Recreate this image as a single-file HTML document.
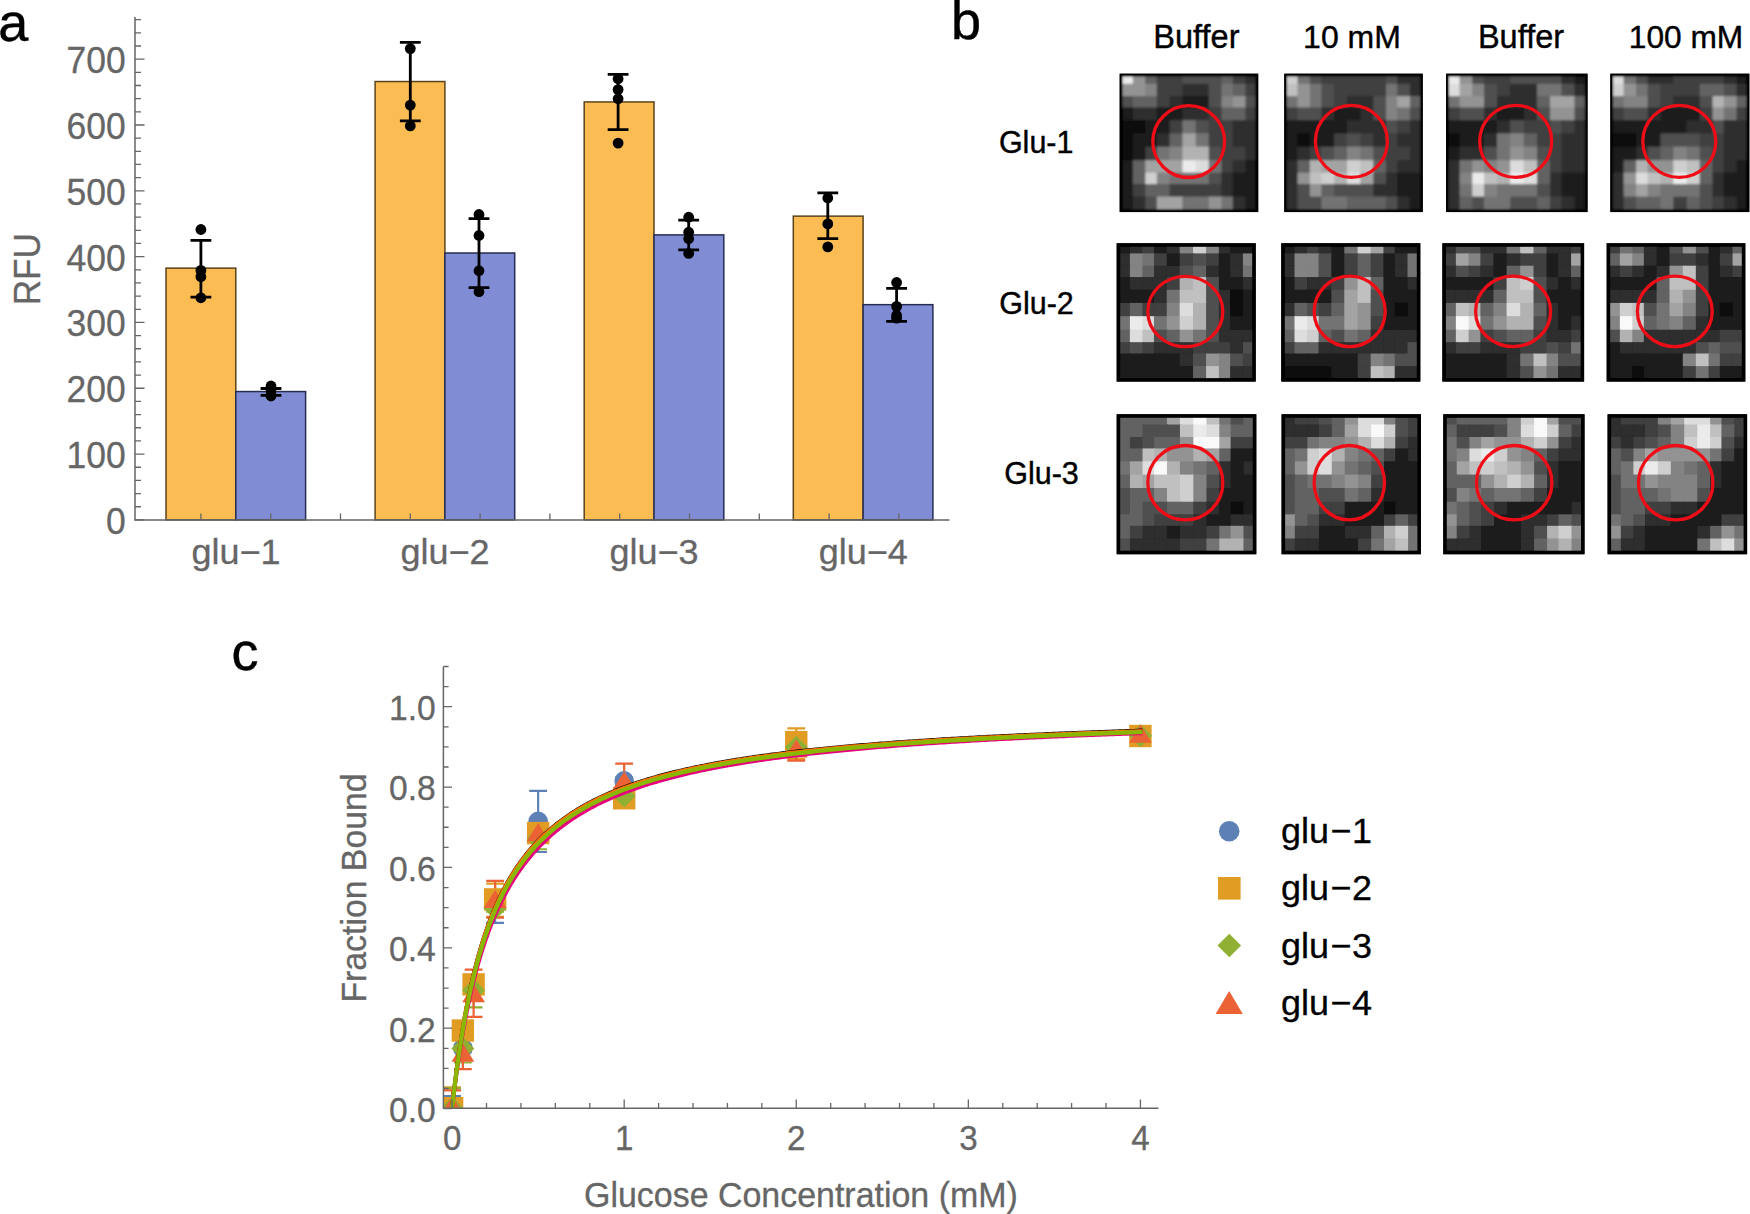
<!DOCTYPE html>
<html lang="en"><head><meta charset="utf-8"><title>Figure</title>
<style>html,body{margin:0;padding:0;background:#fff;}body{width:1750px;height:1214px;overflow:hidden;}svg{display:block;}text{font-family:"Liberation Sans", Arial, Helvetica, sans-serif;}</style>
</head><body>
<svg width="1750" height="1214" viewBox="0 0 1750 1214">
<rect width="1750" height="1214" fill="#fff"/>
<g id="panel-a">
<rect x="166" y="268.14" width="69.8" height="251.76" fill="#FBBD53" stroke="#5a431c" stroke-width="1.5"/>
<rect x="235.8" y="391.55" width="69.8" height="128.35" fill="#808DD5" stroke="#272c52" stroke-width="1.5"/>
<rect x="375.1" y="81.54" width="69.8" height="438.36" fill="#FBBD53" stroke="#5a431c" stroke-width="1.5"/>
<rect x="444.9" y="253" width="69.8" height="266.9" fill="#808DD5" stroke="#272c52" stroke-width="1.5"/>
<rect x="584.2" y="101.94" width="69.8" height="417.96" fill="#FBBD53" stroke="#5a431c" stroke-width="1.5"/>
<rect x="654" y="234.9" width="69.8" height="285" fill="#808DD5" stroke="#272c52" stroke-width="1.5"/>
<rect x="793.3" y="216.14" width="69.8" height="303.76" fill="#FBBD53" stroke="#5a431c" stroke-width="1.5"/>
<rect x="863.1" y="304.67" width="69.8" height="215.23" fill="#808DD5" stroke="#272c52" stroke-width="1.5"/>
<g stroke="#666666" stroke-width="1.5" fill="none">
<path d="M135 17 V519.9 H949.5"/>
<path d="M135 519.9h9.5M135 506.74h6M135 493.57h6M135 480.41h6M135 467.24h6M135 454.08h9.5M135 440.92h6M135 427.75h6M135 414.59h6M135 401.42h6M135 388.26h9.5M135 375.1h6M135 361.93h6M135 348.77h6M135 335.6h6M135 322.44h9.5M135 309.28h6M135 296.11h6M135 282.95h6M135 269.78h6M135 256.62h9.5M135 243.46h6M135 230.29h6M135 217.13h6M135 203.96h6M135 190.8h9.5M135 177.64h6M135 164.47h6M135 151.31h6M135 138.14h6M135 124.98h9.5M135 111.82h6M135 98.65h6M135 85.49h6M135 72.32h6M135 59.16h9.5M135 46h6M135 32.83h6M135 19.67h6" stroke-width="1.3"/>
<path d="M200.9 519.9v-6.3M270.7 519.9v-6.3M340.5 519.9v-6.3M410.3 519.9v-6.3M480.1 519.9v-6.3M549.9 519.9v-6.3M619.7 519.9v-6.3M689.5 519.9v-6.3M759.3 519.9v-6.3M829.1 519.9v-6.3M898.9 519.9v-6.3" stroke-width="1.3"/>
</g>
<text transform="translate(125.8,533.8) scale(1,1.05)" font-size="35.5" text-anchor="end" fill="#666666" stroke="#666666" stroke-width="0.3">0</text>
<text transform="translate(125.8,467.98) scale(1,1.05)" font-size="35.5" text-anchor="end" fill="#666666" stroke="#666666" stroke-width="0.3">100</text>
<text transform="translate(125.8,402.16) scale(1,1.05)" font-size="35.5" text-anchor="end" fill="#666666" stroke="#666666" stroke-width="0.3">200</text>
<text transform="translate(125.8,336.34) scale(1,1.05)" font-size="35.5" text-anchor="end" fill="#666666" stroke="#666666" stroke-width="0.3">300</text>
<text transform="translate(125.8,270.52) scale(1,1.05)" font-size="35.5" text-anchor="end" fill="#666666" stroke="#666666" stroke-width="0.3">400</text>
<text transform="translate(125.8,204.7) scale(1,1.05)" font-size="35.5" text-anchor="end" fill="#666666" stroke="#666666" stroke-width="0.3">500</text>
<text transform="translate(125.8,138.88) scale(1,1.05)" font-size="35.5" text-anchor="end" fill="#666666" stroke="#666666" stroke-width="0.3">600</text>
<text transform="translate(125.8,73.06) scale(1,1.05)" font-size="35.5" text-anchor="end" fill="#666666" stroke="#666666" stroke-width="0.3">700</text>
<text transform="translate(191.5,564.3) scale(1,0.96)" font-size="36" text-anchor="start" fill="#666666" stroke="#666666" stroke-width="0.3">glu−1</text>
<text transform="translate(400.55,564.3) scale(1,0.96)" font-size="36" text-anchor="start" fill="#666666" stroke="#666666" stroke-width="0.3">glu−2</text>
<text transform="translate(609.6,564.3) scale(1,0.96)" font-size="36" text-anchor="start" fill="#666666" stroke="#666666" stroke-width="0.3">glu−3</text>
<text transform="translate(818.65,564.3) scale(1,0.96)" font-size="36" text-anchor="start" fill="#666666" stroke="#666666" stroke-width="0.3">glu−4</text>
<text transform="translate(40.3,269.3) rotate(-90) scale(1,1.06)" font-size="35.1" text-anchor="middle" fill="#666666" stroke="#666666" stroke-width="0.3">RFU</text>
<g stroke="#000" stroke-width="2.8" fill="#000">
<path d="M200.9 240.4V297.1M190.5 240.4h20.8M190.5 297.1h20.8" fill="none"/>
<circle cx="200.9" cy="229.5" r="5.4" stroke="none"/>
<circle cx="200.9" cy="270.4" r="5.4" stroke="none"/>
<circle cx="200.9" cy="276.8" r="5.4" stroke="none"/>
<circle cx="200.9" cy="297.8" r="5.4" stroke="none"/>
<path d="M271 388.5V395.4M260.6 388.5h20.8M260.6 395.4h20.8" fill="none"/>
<circle cx="271" cy="386" r="5.4" stroke="none"/>
<circle cx="271" cy="391.5" r="5.4" stroke="none"/>
<circle cx="271" cy="396" r="5.4" stroke="none"/>
<path d="M410.3 42.4V120.8M399.9 42.4h20.8M399.9 120.8h20.8" fill="none"/>
<circle cx="410.3" cy="48.6" r="5.4" stroke="none"/>
<circle cx="410.3" cy="105.1" r="5.4" stroke="none"/>
<circle cx="410.3" cy="125.9" r="5.4" stroke="none"/>
<path d="M479 218.6V287.6M468.6 218.6h20.8M468.6 287.6h20.8" fill="none"/>
<circle cx="479" cy="214.5" r="5.4" stroke="none"/>
<circle cx="479" cy="235.5" r="5.4" stroke="none"/>
<circle cx="479" cy="270.7" r="5.4" stroke="none"/>
<circle cx="479" cy="291.7" r="5.4" stroke="none"/>
<path d="M618.1 74.4V129.7M607.7 74.4h20.8M607.7 129.7h20.8" fill="none"/>
<circle cx="618.1" cy="78.8" r="5.4" stroke="none"/>
<circle cx="618.1" cy="89.6" r="5.4" stroke="none"/>
<circle cx="618.1" cy="98.8" r="5.4" stroke="none"/>
<circle cx="618.1" cy="143.1" r="5.4" stroke="none"/>
<path d="M688.7 220.2V249.9M678.3 220.2h20.8M678.3 249.9h20.8" fill="none"/>
<circle cx="688.7" cy="217.2" r="5.4" stroke="none"/>
<circle cx="688.7" cy="232.2" r="5.4" stroke="none"/>
<circle cx="688.7" cy="238.8" r="5.4" stroke="none"/>
<circle cx="688.7" cy="253.4" r="5.4" stroke="none"/>
<path d="M827.8 192.9V238.6M817.4 192.9h20.8M817.4 238.6h20.8" fill="none"/>
<circle cx="827.8" cy="198" r="5.4" stroke="none"/>
<circle cx="827.8" cy="223.9" r="5.4" stroke="none"/>
<circle cx="827.8" cy="246.9" r="5.4" stroke="none"/>
<path d="M896.6 288.3V321.4M886.2 288.3h20.8M886.2 321.4h20.8" fill="none"/>
<circle cx="896.6" cy="282.5" r="5.4" stroke="none"/>
<circle cx="896.6" cy="306.4" r="5.4" stroke="none"/>
<circle cx="896.6" cy="315.4" r="5.4" stroke="none"/>
<circle cx="896.6" cy="318.2" r="5.4" stroke="none"/>
</g>
</g>
<g font-size="54" fill="#000" stroke="#000" stroke-width="0.45">
<text x="-1.8" y="41">a</text>
<text x="950.9" y="38.7">b</text>
<text x="231.5" y="670.2">c</text>
</g>
<g id="panel-b">
<defs><filter id="bl" x="-5%" y="-5%" width="110%" height="110%"><feGaussianBlur stdDeviation="1.1"/></filter><filter id="bl3" x="-5%" y="-5%" width="110%" height="110%"><feGaussianBlur stdDeviation="0.75"/></filter><filter id="bl2" x="-10%" y="-10%" width="120%" height="120%"><feGaussianBlur stdDeviation="0.55"/></filter></defs>
<g font-size="32.5" fill="#000" text-anchor="middle" stroke="#000" stroke-width="0.4">
<text x="1196.4" y="48">Buffer</text>
<text x="1352" y="48" font-size="32">10 mM</text>
<text x="1521" y="48">Buffer</text>
<text x="1686" y="48" font-size="31.7">100 mM</text>
</g>
<g font-size="30.5" fill="#000" stroke="#000" stroke-width="0.4">
<text x="998.9" y="152.7">Glu-1</text>
<text x="999.2" y="313.5">Glu-2</text>
<text x="1004.2" y="483.5">Glu-3</text>
</g>
<clipPath id="c0"><rect x="1119.7" y="73.7" width="138.5" height="138.4"/></clipPath>
<g clip-path="url(#c0)"><g filter="url(#bl)">
<rect x="1113.7" y="67.7" width="20.16" height="17.1" fill="#ebebeb"/>
<rect x="1132.86" y="67.7" width="13.46" height="17.1" fill="#939393"/>
<rect x="1145.32" y="67.7" width="12.5" height="17.1" fill="#626262"/>
<rect x="1156.82" y="67.7" width="13.74" height="17.1" fill="#3f3f3f"/>
<rect x="1169.56" y="67.7" width="13.88" height="17.1" fill="#3f3f3f"/>
<rect x="1182.44" y="67.7" width="14.3" height="17.1" fill="#505050"/>
<rect x="1195.74" y="67.7" width="14.02" height="17.1" fill="#505050"/>
<rect x="1208.76" y="67.7" width="13.74" height="17.1" fill="#505050"/>
<rect x="1221.5" y="67.7" width="12.22" height="17.1" fill="#626262"/>
<rect x="1232.72" y="67.7" width="13.74" height="17.1" fill="#3f3f3f"/>
<rect x="1245.46" y="67.7" width="18.74" height="17.1" fill="#2d2d2d"/>
<rect x="1113.7" y="83.8" width="20.16" height="13.32" fill="#939393"/>
<rect x="1132.86" y="83.8" width="13.46" height="13.32" fill="#939393"/>
<rect x="1145.32" y="83.8" width="12.5" height="13.32" fill="#838383"/>
<rect x="1156.82" y="83.8" width="13.74" height="13.32" fill="#3f3f3f"/>
<rect x="1169.56" y="83.8" width="13.88" height="13.32" fill="#3f3f3f"/>
<rect x="1182.44" y="83.8" width="14.3" height="13.32" fill="#2d2d2d"/>
<rect x="1195.74" y="83.8" width="14.02" height="13.32" fill="#2d2d2d"/>
<rect x="1208.76" y="83.8" width="13.74" height="13.32" fill="#505050"/>
<rect x="1221.5" y="83.8" width="12.22" height="13.32" fill="#737373"/>
<rect x="1232.72" y="83.8" width="13.74" height="13.32" fill="#626262"/>
<rect x="1245.46" y="83.8" width="18.74" height="13.32" fill="#3f3f3f"/>
<rect x="1113.7" y="96.12" width="20.16" height="12.35" fill="#505050"/>
<rect x="1132.86" y="96.12" width="13.46" height="12.35" fill="#626262"/>
<rect x="1145.32" y="96.12" width="12.5" height="12.35" fill="#626262"/>
<rect x="1156.82" y="96.12" width="13.74" height="12.35" fill="#3f3f3f"/>
<rect x="1169.56" y="96.12" width="13.88" height="12.35" fill="#2d2d2d"/>
<rect x="1182.44" y="96.12" width="14.3" height="12.35" fill="#1b1b1b"/>
<rect x="1195.74" y="96.12" width="14.02" height="12.35" fill="#1b1b1b"/>
<rect x="1208.76" y="96.12" width="13.74" height="12.35" fill="#505050"/>
<rect x="1221.5" y="96.12" width="12.22" height="12.35" fill="#838383"/>
<rect x="1232.72" y="96.12" width="13.74" height="12.35" fill="#939393"/>
<rect x="1245.46" y="96.12" width="18.74" height="12.35" fill="#505050"/>
<rect x="1113.7" y="107.47" width="20.16" height="13.73" fill="#1b1b1b"/>
<rect x="1132.86" y="107.47" width="13.46" height="13.73" fill="#2d2d2d"/>
<rect x="1145.32" y="107.47" width="12.5" height="13.73" fill="#2d2d2d"/>
<rect x="1156.82" y="107.47" width="13.74" height="13.73" fill="#1b1b1b"/>
<rect x="1169.56" y="107.47" width="13.88" height="13.73" fill="#1b1b1b"/>
<rect x="1182.44" y="107.47" width="14.3" height="13.73" fill="#2d2d2d"/>
<rect x="1195.74" y="107.47" width="14.02" height="13.73" fill="#2d2d2d"/>
<rect x="1208.76" y="107.47" width="13.74" height="13.73" fill="#3f3f3f"/>
<rect x="1221.5" y="107.47" width="12.22" height="13.73" fill="#626262"/>
<rect x="1232.72" y="107.47" width="13.74" height="13.73" fill="#626262"/>
<rect x="1245.46" y="107.47" width="18.74" height="13.73" fill="#3f3f3f"/>
<rect x="1113.7" y="120.2" width="20.16" height="14.15" fill="#090909"/>
<rect x="1132.86" y="120.2" width="13.46" height="14.15" fill="#090909"/>
<rect x="1145.32" y="120.2" width="12.5" height="14.15" fill="#1b1b1b"/>
<rect x="1156.82" y="120.2" width="13.74" height="14.15" fill="#1b1b1b"/>
<rect x="1169.56" y="120.2" width="13.88" height="14.15" fill="#3f3f3f"/>
<rect x="1182.44" y="120.2" width="14.3" height="14.15" fill="#737373"/>
<rect x="1195.74" y="120.2" width="14.02" height="14.15" fill="#505050"/>
<rect x="1208.76" y="120.2" width="13.74" height="14.15" fill="#3f3f3f"/>
<rect x="1221.5" y="120.2" width="12.22" height="14.15" fill="#3f3f3f"/>
<rect x="1232.72" y="120.2" width="13.74" height="14.15" fill="#2d2d2d"/>
<rect x="1245.46" y="120.2" width="18.74" height="14.15" fill="#2d2d2d"/>
<rect x="1113.7" y="133.35" width="20.16" height="14.29" fill="#090909"/>
<rect x="1132.86" y="133.35" width="13.46" height="14.29" fill="#1b1b1b"/>
<rect x="1145.32" y="133.35" width="12.5" height="14.29" fill="#1b1b1b"/>
<rect x="1156.82" y="133.35" width="13.74" height="14.29" fill="#2d2d2d"/>
<rect x="1169.56" y="133.35" width="13.88" height="14.29" fill="#626262"/>
<rect x="1182.44" y="133.35" width="14.3" height="14.29" fill="#a3a3a3"/>
<rect x="1195.74" y="133.35" width="14.02" height="14.29" fill="#737373"/>
<rect x="1208.76" y="133.35" width="13.74" height="14.29" fill="#3f3f3f"/>
<rect x="1221.5" y="133.35" width="12.22" height="14.29" fill="#3f3f3f"/>
<rect x="1232.72" y="133.35" width="13.74" height="14.29" fill="#2d2d2d"/>
<rect x="1245.46" y="133.35" width="18.74" height="14.29" fill="#2d2d2d"/>
<rect x="1113.7" y="146.64" width="20.16" height="14.56" fill="#090909"/>
<rect x="1132.86" y="146.64" width="13.46" height="14.56" fill="#1b1b1b"/>
<rect x="1145.32" y="146.64" width="12.5" height="14.56" fill="#3f3f3f"/>
<rect x="1156.82" y="146.64" width="13.74" height="14.56" fill="#737373"/>
<rect x="1169.56" y="146.64" width="13.88" height="14.56" fill="#838383"/>
<rect x="1182.44" y="146.64" width="14.3" height="14.56" fill="#b2b2b2"/>
<rect x="1195.74" y="146.64" width="14.02" height="14.56" fill="#b2b2b2"/>
<rect x="1208.76" y="146.64" width="13.74" height="14.56" fill="#505050"/>
<rect x="1221.5" y="146.64" width="12.22" height="14.56" fill="#3f3f3f"/>
<rect x="1232.72" y="146.64" width="13.74" height="14.56" fill="#3f3f3f"/>
<rect x="1245.46" y="146.64" width="18.74" height="14.56" fill="#2d2d2d"/>
<rect x="1113.7" y="160.2" width="20.16" height="13.46" fill="#1b1b1b"/>
<rect x="1132.86" y="160.2" width="13.46" height="13.46" fill="#626262"/>
<rect x="1145.32" y="160.2" width="12.5" height="13.46" fill="#a3a3a3"/>
<rect x="1156.82" y="160.2" width="13.74" height="13.46" fill="#a3a3a3"/>
<rect x="1169.56" y="160.2" width="13.88" height="13.46" fill="#a3a3a3"/>
<rect x="1182.44" y="160.2" width="14.3" height="13.46" fill="#ebebeb"/>
<rect x="1195.74" y="160.2" width="14.02" height="13.46" fill="#dddddd"/>
<rect x="1208.76" y="160.2" width="13.74" height="13.46" fill="#737373"/>
<rect x="1221.5" y="160.2" width="12.22" height="13.46" fill="#3f3f3f"/>
<rect x="1232.72" y="160.2" width="13.74" height="13.46" fill="#2d2d2d"/>
<rect x="1245.46" y="160.2" width="18.74" height="13.46" fill="#1b1b1b"/>
<rect x="1113.7" y="172.66" width="20.16" height="12.35" fill="#1b1b1b"/>
<rect x="1132.86" y="172.66" width="13.46" height="12.35" fill="#626262"/>
<rect x="1145.32" y="172.66" width="12.5" height="12.35" fill="#cfcfcf"/>
<rect x="1156.82" y="172.66" width="13.74" height="12.35" fill="#838383"/>
<rect x="1169.56" y="172.66" width="13.88" height="12.35" fill="#737373"/>
<rect x="1182.44" y="172.66" width="14.3" height="12.35" fill="#737373"/>
<rect x="1195.74" y="172.66" width="14.02" height="12.35" fill="#737373"/>
<rect x="1208.76" y="172.66" width="13.74" height="12.35" fill="#505050"/>
<rect x="1221.5" y="172.66" width="12.22" height="12.35" fill="#2d2d2d"/>
<rect x="1232.72" y="172.66" width="13.74" height="12.35" fill="#1b1b1b"/>
<rect x="1245.46" y="172.66" width="18.74" height="12.35" fill="#1b1b1b"/>
<rect x="1113.7" y="184" width="20.16" height="13.59" fill="#1b1b1b"/>
<rect x="1132.86" y="184" width="13.46" height="13.59" fill="#3f3f3f"/>
<rect x="1145.32" y="184" width="12.5" height="13.59" fill="#626262"/>
<rect x="1156.82" y="184" width="13.74" height="13.59" fill="#626262"/>
<rect x="1169.56" y="184" width="13.88" height="13.59" fill="#3f3f3f"/>
<rect x="1182.44" y="184" width="14.3" height="13.59" fill="#3f3f3f"/>
<rect x="1195.74" y="184" width="14.02" height="13.59" fill="#3f3f3f"/>
<rect x="1208.76" y="184" width="13.74" height="13.59" fill="#3f3f3f"/>
<rect x="1221.5" y="184" width="12.22" height="13.59" fill="#2d2d2d"/>
<rect x="1232.72" y="184" width="13.74" height="13.59" fill="#1b1b1b"/>
<rect x="1245.46" y="184" width="18.74" height="13.59" fill="#1b1b1b"/>
<rect x="1113.7" y="196.6" width="20.16" height="21.5" fill="#1b1b1b"/>
<rect x="1132.86" y="196.6" width="13.46" height="21.5" fill="#2d2d2d"/>
<rect x="1145.32" y="196.6" width="12.5" height="21.5" fill="#505050"/>
<rect x="1156.82" y="196.6" width="13.74" height="21.5" fill="#a3a3a3"/>
<rect x="1169.56" y="196.6" width="13.88" height="21.5" fill="#a3a3a3"/>
<rect x="1182.44" y="196.6" width="14.3" height="21.5" fill="#737373"/>
<rect x="1195.74" y="196.6" width="14.02" height="21.5" fill="#737373"/>
<rect x="1208.76" y="196.6" width="13.74" height="21.5" fill="#939393"/>
<rect x="1221.5" y="196.6" width="12.22" height="21.5" fill="#737373"/>
<rect x="1232.72" y="196.6" width="13.74" height="21.5" fill="#2d2d2d"/>
<rect x="1245.46" y="196.6" width="18.74" height="21.5" fill="#1b1b1b"/>
<rect x="1119.7" y="73.7" width="138.5" height="138.4" fill="none" stroke="#000" stroke-width="5.4"/>
</g>
<ellipse cx="1188.7" cy="141.6" rx="35.9" ry="35.9" fill="none" stroke="#ee1018" stroke-width="3.3" filter="url(#bl2)"/>
</g>
<rect x="1120.5" y="74.5" width="136.9" height="136.8" fill="none" stroke="#000" stroke-width="1.6" filter="url(#bl2)"/>
<clipPath id="c1"><rect x="1284.3" y="73.7" width="138.4" height="138.4"/></clipPath>
<g clip-path="url(#c1)"><g filter="url(#bl)">
<rect x="1278.3" y="67.7" width="20.15" height="17.1" fill="#cfcfcf"/>
<rect x="1297.45" y="67.7" width="13.46" height="17.1" fill="#737373"/>
<rect x="1309.9" y="67.7" width="12.49" height="17.1" fill="#505050"/>
<rect x="1321.39" y="67.7" width="13.73" height="17.1" fill="#3f3f3f"/>
<rect x="1334.12" y="67.7" width="13.87" height="17.1" fill="#3f3f3f"/>
<rect x="1347" y="67.7" width="14.29" height="17.1" fill="#3f3f3f"/>
<rect x="1360.28" y="67.7" width="14.01" height="17.1" fill="#3f3f3f"/>
<rect x="1373.29" y="67.7" width="13.73" height="17.1" fill="#3f3f3f"/>
<rect x="1386.02" y="67.7" width="12.21" height="17.1" fill="#505050"/>
<rect x="1397.23" y="67.7" width="13.73" height="17.1" fill="#2d2d2d"/>
<rect x="1409.97" y="67.7" width="18.73" height="17.1" fill="#2d2d2d"/>
<rect x="1278.3" y="83.8" width="20.15" height="13.32" fill="#c0c0c0"/>
<rect x="1297.45" y="83.8" width="13.46" height="13.32" fill="#939393"/>
<rect x="1309.9" y="83.8" width="12.49" height="13.32" fill="#737373"/>
<rect x="1321.39" y="83.8" width="13.73" height="13.32" fill="#505050"/>
<rect x="1334.12" y="83.8" width="13.87" height="13.32" fill="#3f3f3f"/>
<rect x="1347" y="83.8" width="14.29" height="13.32" fill="#3f3f3f"/>
<rect x="1360.28" y="83.8" width="14.01" height="13.32" fill="#3f3f3f"/>
<rect x="1373.29" y="83.8" width="13.73" height="13.32" fill="#3f3f3f"/>
<rect x="1386.02" y="83.8" width="12.21" height="13.32" fill="#737373"/>
<rect x="1397.23" y="83.8" width="13.73" height="13.32" fill="#505050"/>
<rect x="1409.97" y="83.8" width="18.73" height="13.32" fill="#2d2d2d"/>
<rect x="1278.3" y="96.12" width="20.15" height="12.35" fill="#737373"/>
<rect x="1297.45" y="96.12" width="13.46" height="12.35" fill="#939393"/>
<rect x="1309.9" y="96.12" width="12.49" height="12.35" fill="#737373"/>
<rect x="1321.39" y="96.12" width="13.73" height="12.35" fill="#505050"/>
<rect x="1334.12" y="96.12" width="13.87" height="12.35" fill="#3f3f3f"/>
<rect x="1347" y="96.12" width="14.29" height="12.35" fill="#2d2d2d"/>
<rect x="1360.28" y="96.12" width="14.01" height="12.35" fill="#2d2d2d"/>
<rect x="1373.29" y="96.12" width="13.73" height="12.35" fill="#505050"/>
<rect x="1386.02" y="96.12" width="12.21" height="12.35" fill="#838383"/>
<rect x="1397.23" y="96.12" width="13.73" height="12.35" fill="#a3a3a3"/>
<rect x="1409.97" y="96.12" width="18.73" height="12.35" fill="#626262"/>
<rect x="1278.3" y="107.47" width="20.15" height="13.73" fill="#3f3f3f"/>
<rect x="1297.45" y="107.47" width="13.46" height="13.73" fill="#505050"/>
<rect x="1309.9" y="107.47" width="12.49" height="13.73" fill="#505050"/>
<rect x="1321.39" y="107.47" width="13.73" height="13.73" fill="#2d2d2d"/>
<rect x="1334.12" y="107.47" width="13.87" height="13.73" fill="#1b1b1b"/>
<rect x="1347" y="107.47" width="14.29" height="13.73" fill="#1b1b1b"/>
<rect x="1360.28" y="107.47" width="14.01" height="13.73" fill="#2d2d2d"/>
<rect x="1373.29" y="107.47" width="13.73" height="13.73" fill="#505050"/>
<rect x="1386.02" y="107.47" width="12.21" height="13.73" fill="#838383"/>
<rect x="1397.23" y="107.47" width="13.73" height="13.73" fill="#737373"/>
<rect x="1409.97" y="107.47" width="18.73" height="13.73" fill="#505050"/>
<rect x="1278.3" y="120.2" width="20.15" height="14.15" fill="#1b1b1b"/>
<rect x="1297.45" y="120.2" width="13.46" height="14.15" fill="#1b1b1b"/>
<rect x="1309.9" y="120.2" width="12.49" height="14.15" fill="#1b1b1b"/>
<rect x="1321.39" y="120.2" width="13.73" height="14.15" fill="#1b1b1b"/>
<rect x="1334.12" y="120.2" width="13.87" height="14.15" fill="#1b1b1b"/>
<rect x="1347" y="120.2" width="14.29" height="14.15" fill="#2d2d2d"/>
<rect x="1360.28" y="120.2" width="14.01" height="14.15" fill="#2d2d2d"/>
<rect x="1373.29" y="120.2" width="13.73" height="14.15" fill="#2d2d2d"/>
<rect x="1386.02" y="120.2" width="12.21" height="14.15" fill="#505050"/>
<rect x="1397.23" y="120.2" width="13.73" height="14.15" fill="#3f3f3f"/>
<rect x="1409.97" y="120.2" width="18.73" height="14.15" fill="#2d2d2d"/>
<rect x="1278.3" y="133.35" width="20.15" height="14.29" fill="#1b1b1b"/>
<rect x="1297.45" y="133.35" width="13.46" height="14.29" fill="#090909"/>
<rect x="1309.9" y="133.35" width="12.49" height="14.29" fill="#1b1b1b"/>
<rect x="1321.39" y="133.35" width="13.73" height="14.29" fill="#1b1b1b"/>
<rect x="1334.12" y="133.35" width="13.87" height="14.29" fill="#3f3f3f"/>
<rect x="1347" y="133.35" width="14.29" height="14.29" fill="#505050"/>
<rect x="1360.28" y="133.35" width="14.01" height="14.29" fill="#3f3f3f"/>
<rect x="1373.29" y="133.35" width="13.73" height="14.29" fill="#2d2d2d"/>
<rect x="1386.02" y="133.35" width="12.21" height="14.29" fill="#3f3f3f"/>
<rect x="1397.23" y="133.35" width="13.73" height="14.29" fill="#2d2d2d"/>
<rect x="1409.97" y="133.35" width="18.73" height="14.29" fill="#2d2d2d"/>
<rect x="1278.3" y="146.64" width="20.15" height="14.56" fill="#1b1b1b"/>
<rect x="1297.45" y="146.64" width="13.46" height="14.56" fill="#2d2d2d"/>
<rect x="1309.9" y="146.64" width="12.49" height="14.56" fill="#3f3f3f"/>
<rect x="1321.39" y="146.64" width="13.73" height="14.56" fill="#505050"/>
<rect x="1334.12" y="146.64" width="13.87" height="14.56" fill="#626262"/>
<rect x="1347" y="146.64" width="14.29" height="14.56" fill="#838383"/>
<rect x="1360.28" y="146.64" width="14.01" height="14.56" fill="#737373"/>
<rect x="1373.29" y="146.64" width="13.73" height="14.56" fill="#505050"/>
<rect x="1386.02" y="146.64" width="12.21" height="14.56" fill="#3f3f3f"/>
<rect x="1397.23" y="146.64" width="13.73" height="14.56" fill="#3f3f3f"/>
<rect x="1409.97" y="146.64" width="18.73" height="14.56" fill="#2d2d2d"/>
<rect x="1278.3" y="160.2" width="20.15" height="13.46" fill="#2d2d2d"/>
<rect x="1297.45" y="160.2" width="13.46" height="13.46" fill="#626262"/>
<rect x="1309.9" y="160.2" width="12.49" height="13.46" fill="#b2b2b2"/>
<rect x="1321.39" y="160.2" width="13.73" height="13.46" fill="#a3a3a3"/>
<rect x="1334.12" y="160.2" width="13.87" height="13.46" fill="#a3a3a3"/>
<rect x="1347" y="160.2" width="14.29" height="13.46" fill="#cfcfcf"/>
<rect x="1360.28" y="160.2" width="14.01" height="13.46" fill="#c0c0c0"/>
<rect x="1373.29" y="160.2" width="13.73" height="13.46" fill="#626262"/>
<rect x="1386.02" y="160.2" width="12.21" height="13.46" fill="#3f3f3f"/>
<rect x="1397.23" y="160.2" width="13.73" height="13.46" fill="#2d2d2d"/>
<rect x="1409.97" y="160.2" width="18.73" height="13.46" fill="#2d2d2d"/>
<rect x="1278.3" y="172.66" width="20.15" height="12.35" fill="#2d2d2d"/>
<rect x="1297.45" y="172.66" width="13.46" height="12.35" fill="#939393"/>
<rect x="1309.9" y="172.66" width="12.49" height="12.35" fill="#c0c0c0"/>
<rect x="1321.39" y="172.66" width="13.73" height="12.35" fill="#cfcfcf"/>
<rect x="1334.12" y="172.66" width="13.87" height="12.35" fill="#b2b2b2"/>
<rect x="1347" y="172.66" width="14.29" height="12.35" fill="#dddddd"/>
<rect x="1360.28" y="172.66" width="14.01" height="12.35" fill="#a3a3a3"/>
<rect x="1373.29" y="172.66" width="13.73" height="12.35" fill="#505050"/>
<rect x="1386.02" y="172.66" width="12.21" height="12.35" fill="#2d2d2d"/>
<rect x="1397.23" y="172.66" width="13.73" height="12.35" fill="#1b1b1b"/>
<rect x="1409.97" y="172.66" width="18.73" height="12.35" fill="#1b1b1b"/>
<rect x="1278.3" y="184" width="20.15" height="13.59" fill="#2d2d2d"/>
<rect x="1297.45" y="184" width="13.46" height="13.59" fill="#505050"/>
<rect x="1309.9" y="184" width="12.49" height="13.59" fill="#939393"/>
<rect x="1321.39" y="184" width="13.73" height="13.59" fill="#626262"/>
<rect x="1334.12" y="184" width="13.87" height="13.59" fill="#505050"/>
<rect x="1347" y="184" width="14.29" height="13.59" fill="#505050"/>
<rect x="1360.28" y="184" width="14.01" height="13.59" fill="#505050"/>
<rect x="1373.29" y="184" width="13.73" height="13.59" fill="#2d2d2d"/>
<rect x="1386.02" y="184" width="12.21" height="13.59" fill="#2d2d2d"/>
<rect x="1397.23" y="184" width="13.73" height="13.59" fill="#1b1b1b"/>
<rect x="1409.97" y="184" width="18.73" height="13.59" fill="#1b1b1b"/>
<rect x="1278.3" y="196.6" width="20.15" height="21.5" fill="#2d2d2d"/>
<rect x="1297.45" y="196.6" width="13.46" height="21.5" fill="#505050"/>
<rect x="1309.9" y="196.6" width="12.49" height="21.5" fill="#505050"/>
<rect x="1321.39" y="196.6" width="13.73" height="21.5" fill="#737373"/>
<rect x="1334.12" y="196.6" width="13.87" height="21.5" fill="#737373"/>
<rect x="1347" y="196.6" width="14.29" height="21.5" fill="#626262"/>
<rect x="1360.28" y="196.6" width="14.01" height="21.5" fill="#626262"/>
<rect x="1373.29" y="196.6" width="13.73" height="21.5" fill="#626262"/>
<rect x="1386.02" y="196.6" width="12.21" height="21.5" fill="#505050"/>
<rect x="1397.23" y="196.6" width="13.73" height="21.5" fill="#2d2d2d"/>
<rect x="1409.97" y="196.6" width="18.73" height="21.5" fill="#1b1b1b"/>
<rect x="1284.3" y="73.7" width="138.4" height="138.4" fill="none" stroke="#000" stroke-width="5.4"/>
</g>
<ellipse cx="1351.4" cy="141.4" rx="36" ry="36" fill="none" stroke="#ee1018" stroke-width="3.3" filter="url(#bl2)"/>
</g>
<rect x="1285.1" y="74.5" width="136.8" height="136.8" fill="none" stroke="#000" stroke-width="1.6" filter="url(#bl2)"/>
<clipPath id="c2"><rect x="1446.1" y="73.7" width="141.4" height="138.4"/></clipPath>
<g clip-path="url(#c2)"><g filter="url(#bl)">
<rect x="1440.1" y="67.7" width="20.43" height="17.1" fill="#ebebeb"/>
<rect x="1459.53" y="67.7" width="13.73" height="17.1" fill="#939393"/>
<rect x="1472.26" y="67.7" width="12.74" height="17.1" fill="#505050"/>
<rect x="1484" y="67.7" width="14.01" height="17.1" fill="#3f3f3f"/>
<rect x="1497" y="67.7" width="14.15" height="17.1" fill="#3f3f3f"/>
<rect x="1510.15" y="67.7" width="14.57" height="17.1" fill="#505050"/>
<rect x="1523.73" y="67.7" width="14.29" height="17.1" fill="#505050"/>
<rect x="1537.02" y="67.7" width="14.01" height="17.1" fill="#505050"/>
<rect x="1550.03" y="67.7" width="12.45" height="17.1" fill="#505050"/>
<rect x="1561.48" y="67.7" width="14.01" height="17.1" fill="#2d2d2d"/>
<rect x="1574.49" y="67.7" width="19.01" height="17.1" fill="#1b1b1b"/>
<rect x="1440.1" y="83.8" width="20.43" height="13.32" fill="#dddddd"/>
<rect x="1459.53" y="83.8" width="13.73" height="13.32" fill="#a3a3a3"/>
<rect x="1472.26" y="83.8" width="12.74" height="13.32" fill="#838383"/>
<rect x="1484" y="83.8" width="14.01" height="13.32" fill="#505050"/>
<rect x="1497" y="83.8" width="14.15" height="13.32" fill="#3f3f3f"/>
<rect x="1510.15" y="83.8" width="14.57" height="13.32" fill="#2d2d2d"/>
<rect x="1523.73" y="83.8" width="14.29" height="13.32" fill="#2d2d2d"/>
<rect x="1537.02" y="83.8" width="14.01" height="13.32" fill="#737373"/>
<rect x="1550.03" y="83.8" width="12.45" height="13.32" fill="#737373"/>
<rect x="1561.48" y="83.8" width="14.01" height="13.32" fill="#505050"/>
<rect x="1574.49" y="83.8" width="19.01" height="13.32" fill="#2d2d2d"/>
<rect x="1440.1" y="96.12" width="20.43" height="12.35" fill="#737373"/>
<rect x="1459.53" y="96.12" width="13.73" height="12.35" fill="#939393"/>
<rect x="1472.26" y="96.12" width="12.74" height="12.35" fill="#939393"/>
<rect x="1484" y="96.12" width="14.01" height="12.35" fill="#505050"/>
<rect x="1497" y="96.12" width="14.15" height="12.35" fill="#2d2d2d"/>
<rect x="1510.15" y="96.12" width="14.57" height="12.35" fill="#2d2d2d"/>
<rect x="1523.73" y="96.12" width="14.29" height="12.35" fill="#2d2d2d"/>
<rect x="1537.02" y="96.12" width="14.01" height="12.35" fill="#626262"/>
<rect x="1550.03" y="96.12" width="12.45" height="12.35" fill="#a3a3a3"/>
<rect x="1561.48" y="96.12" width="14.01" height="12.35" fill="#a3a3a3"/>
<rect x="1574.49" y="96.12" width="19.01" height="12.35" fill="#626262"/>
<rect x="1440.1" y="107.47" width="20.43" height="13.73" fill="#3f3f3f"/>
<rect x="1459.53" y="107.47" width="13.73" height="13.73" fill="#505050"/>
<rect x="1472.26" y="107.47" width="12.74" height="13.73" fill="#505050"/>
<rect x="1484" y="107.47" width="14.01" height="13.73" fill="#2d2d2d"/>
<rect x="1497" y="107.47" width="14.15" height="13.73" fill="#1b1b1b"/>
<rect x="1510.15" y="107.47" width="14.57" height="13.73" fill="#1b1b1b"/>
<rect x="1523.73" y="107.47" width="14.29" height="13.73" fill="#2d2d2d"/>
<rect x="1537.02" y="107.47" width="14.01" height="13.73" fill="#505050"/>
<rect x="1550.03" y="107.47" width="12.45" height="13.73" fill="#939393"/>
<rect x="1561.48" y="107.47" width="14.01" height="13.73" fill="#939393"/>
<rect x="1574.49" y="107.47" width="19.01" height="13.73" fill="#505050"/>
<rect x="1440.1" y="120.2" width="20.43" height="14.15" fill="#1b1b1b"/>
<rect x="1459.53" y="120.2" width="13.73" height="14.15" fill="#1b1b1b"/>
<rect x="1472.26" y="120.2" width="12.74" height="14.15" fill="#1b1b1b"/>
<rect x="1484" y="120.2" width="14.01" height="14.15" fill="#1b1b1b"/>
<rect x="1497" y="120.2" width="14.15" height="14.15" fill="#2d2d2d"/>
<rect x="1510.15" y="120.2" width="14.57" height="14.15" fill="#505050"/>
<rect x="1523.73" y="120.2" width="14.29" height="14.15" fill="#3f3f3f"/>
<rect x="1537.02" y="120.2" width="14.01" height="14.15" fill="#3f3f3f"/>
<rect x="1550.03" y="120.2" width="12.45" height="14.15" fill="#505050"/>
<rect x="1561.48" y="120.2" width="14.01" height="14.15" fill="#3f3f3f"/>
<rect x="1574.49" y="120.2" width="19.01" height="14.15" fill="#2d2d2d"/>
<rect x="1440.1" y="133.35" width="20.43" height="14.29" fill="#090909"/>
<rect x="1459.53" y="133.35" width="13.73" height="14.29" fill="#1b1b1b"/>
<rect x="1472.26" y="133.35" width="12.74" height="14.29" fill="#1b1b1b"/>
<rect x="1484" y="133.35" width="14.01" height="14.29" fill="#2d2d2d"/>
<rect x="1497" y="133.35" width="14.15" height="14.29" fill="#737373"/>
<rect x="1510.15" y="133.35" width="14.57" height="14.29" fill="#838383"/>
<rect x="1523.73" y="133.35" width="14.29" height="14.29" fill="#626262"/>
<rect x="1537.02" y="133.35" width="14.01" height="14.29" fill="#3f3f3f"/>
<rect x="1550.03" y="133.35" width="12.45" height="14.29" fill="#3f3f3f"/>
<rect x="1561.48" y="133.35" width="14.01" height="14.29" fill="#2d2d2d"/>
<rect x="1574.49" y="133.35" width="19.01" height="14.29" fill="#2d2d2d"/>
<rect x="1440.1" y="146.64" width="20.43" height="14.56" fill="#1b1b1b"/>
<rect x="1459.53" y="146.64" width="13.73" height="14.56" fill="#2d2d2d"/>
<rect x="1472.26" y="146.64" width="12.74" height="14.56" fill="#2d2d2d"/>
<rect x="1484" y="146.64" width="14.01" height="14.56" fill="#505050"/>
<rect x="1497" y="146.64" width="14.15" height="14.56" fill="#737373"/>
<rect x="1510.15" y="146.64" width="14.57" height="14.56" fill="#939393"/>
<rect x="1523.73" y="146.64" width="14.29" height="14.56" fill="#838383"/>
<rect x="1537.02" y="146.64" width="14.01" height="14.56" fill="#505050"/>
<rect x="1550.03" y="146.64" width="12.45" height="14.56" fill="#3f3f3f"/>
<rect x="1561.48" y="146.64" width="14.01" height="14.56" fill="#2d2d2d"/>
<rect x="1574.49" y="146.64" width="19.01" height="14.56" fill="#2d2d2d"/>
<rect x="1440.1" y="160.2" width="20.43" height="13.46" fill="#2d2d2d"/>
<rect x="1459.53" y="160.2" width="13.73" height="13.46" fill="#737373"/>
<rect x="1472.26" y="160.2" width="12.74" height="13.46" fill="#939393"/>
<rect x="1484" y="160.2" width="14.01" height="13.46" fill="#838383"/>
<rect x="1497" y="160.2" width="14.15" height="13.46" fill="#939393"/>
<rect x="1510.15" y="160.2" width="14.57" height="13.46" fill="#dddddd"/>
<rect x="1523.73" y="160.2" width="14.29" height="13.46" fill="#c0c0c0"/>
<rect x="1537.02" y="160.2" width="14.01" height="13.46" fill="#626262"/>
<rect x="1550.03" y="160.2" width="12.45" height="13.46" fill="#3f3f3f"/>
<rect x="1561.48" y="160.2" width="14.01" height="13.46" fill="#2d2d2d"/>
<rect x="1574.49" y="160.2" width="19.01" height="13.46" fill="#2d2d2d"/>
<rect x="1440.1" y="172.66" width="20.43" height="12.35" fill="#2d2d2d"/>
<rect x="1459.53" y="172.66" width="13.73" height="12.35" fill="#838383"/>
<rect x="1472.26" y="172.66" width="12.74" height="12.35" fill="#ebebeb"/>
<rect x="1484" y="172.66" width="14.01" height="12.35" fill="#c0c0c0"/>
<rect x="1497" y="172.66" width="14.15" height="12.35" fill="#b2b2b2"/>
<rect x="1510.15" y="172.66" width="14.57" height="12.35" fill="#ebebeb"/>
<rect x="1523.73" y="172.66" width="14.29" height="12.35" fill="#dddddd"/>
<rect x="1537.02" y="172.66" width="14.01" height="12.35" fill="#626262"/>
<rect x="1550.03" y="172.66" width="12.45" height="12.35" fill="#2d2d2d"/>
<rect x="1561.48" y="172.66" width="14.01" height="12.35" fill="#1b1b1b"/>
<rect x="1574.49" y="172.66" width="19.01" height="12.35" fill="#1b1b1b"/>
<rect x="1440.1" y="184" width="20.43" height="13.59" fill="#2d2d2d"/>
<rect x="1459.53" y="184" width="13.73" height="13.59" fill="#737373"/>
<rect x="1472.26" y="184" width="12.74" height="13.59" fill="#cfcfcf"/>
<rect x="1484" y="184" width="14.01" height="13.59" fill="#838383"/>
<rect x="1497" y="184" width="14.15" height="13.59" fill="#737373"/>
<rect x="1510.15" y="184" width="14.57" height="13.59" fill="#737373"/>
<rect x="1523.73" y="184" width="14.29" height="13.59" fill="#737373"/>
<rect x="1537.02" y="184" width="14.01" height="13.59" fill="#505050"/>
<rect x="1550.03" y="184" width="12.45" height="13.59" fill="#2d2d2d"/>
<rect x="1561.48" y="184" width="14.01" height="13.59" fill="#1b1b1b"/>
<rect x="1574.49" y="184" width="19.01" height="13.59" fill="#1b1b1b"/>
<rect x="1440.1" y="196.6" width="20.43" height="21.5" fill="#2d2d2d"/>
<rect x="1459.53" y="196.6" width="13.73" height="21.5" fill="#626262"/>
<rect x="1472.26" y="196.6" width="12.74" height="21.5" fill="#505050"/>
<rect x="1484" y="196.6" width="14.01" height="21.5" fill="#737373"/>
<rect x="1497" y="196.6" width="14.15" height="21.5" fill="#737373"/>
<rect x="1510.15" y="196.6" width="14.57" height="21.5" fill="#505050"/>
<rect x="1523.73" y="196.6" width="14.29" height="21.5" fill="#505050"/>
<rect x="1537.02" y="196.6" width="14.01" height="21.5" fill="#626262"/>
<rect x="1550.03" y="196.6" width="12.45" height="21.5" fill="#3f3f3f"/>
<rect x="1561.48" y="196.6" width="14.01" height="21.5" fill="#2d2d2d"/>
<rect x="1574.49" y="196.6" width="19.01" height="21.5" fill="#1b1b1b"/>
<rect x="1446.1" y="73.7" width="141.4" height="138.4" fill="none" stroke="#000" stroke-width="5.4"/>
</g>
<ellipse cx="1515.7" cy="141.4" rx="36" ry="36" fill="none" stroke="#ee1018" stroke-width="3.3" filter="url(#bl2)"/>
</g>
<rect x="1446.9" y="74.5" width="139.8" height="136.8" fill="none" stroke="#000" stroke-width="1.6" filter="url(#bl2)"/>
<clipPath id="c3"><rect x="1610.4" y="73.7" width="138.9" height="138.4"/></clipPath>
<g clip-path="url(#c3)"><g filter="url(#bl)">
<rect x="1604.4" y="67.7" width="20.2" height="17.1" fill="#dddddd"/>
<rect x="1623.6" y="67.7" width="13.5" height="17.1" fill="#737373"/>
<rect x="1636.1" y="67.7" width="12.53" height="17.1" fill="#505050"/>
<rect x="1647.63" y="67.7" width="13.78" height="17.1" fill="#2d2d2d"/>
<rect x="1660.4" y="67.7" width="13.92" height="17.1" fill="#2d2d2d"/>
<rect x="1673.32" y="67.7" width="14.33" height="17.1" fill="#3f3f3f"/>
<rect x="1686.66" y="67.7" width="14.06" height="17.1" fill="#3f3f3f"/>
<rect x="1699.71" y="67.7" width="13.78" height="17.1" fill="#3f3f3f"/>
<rect x="1712.49" y="67.7" width="12.25" height="17.1" fill="#3f3f3f"/>
<rect x="1723.74" y="67.7" width="13.78" height="17.1" fill="#2d2d2d"/>
<rect x="1736.52" y="67.7" width="18.78" height="17.1" fill="#1b1b1b"/>
<rect x="1604.4" y="83.8" width="20.2" height="13.32" fill="#cfcfcf"/>
<rect x="1623.6" y="83.8" width="13.5" height="13.32" fill="#939393"/>
<rect x="1636.1" y="83.8" width="12.53" height="13.32" fill="#737373"/>
<rect x="1647.63" y="83.8" width="13.78" height="13.32" fill="#505050"/>
<rect x="1660.4" y="83.8" width="13.92" height="13.32" fill="#3f3f3f"/>
<rect x="1673.32" y="83.8" width="14.33" height="13.32" fill="#3f3f3f"/>
<rect x="1686.66" y="83.8" width="14.06" height="13.32" fill="#3f3f3f"/>
<rect x="1699.71" y="83.8" width="13.78" height="13.32" fill="#626262"/>
<rect x="1712.49" y="83.8" width="12.25" height="13.32" fill="#626262"/>
<rect x="1723.74" y="83.8" width="13.78" height="13.32" fill="#505050"/>
<rect x="1736.52" y="83.8" width="18.78" height="13.32" fill="#2d2d2d"/>
<rect x="1604.4" y="96.12" width="20.2" height="12.35" fill="#737373"/>
<rect x="1623.6" y="96.12" width="13.5" height="12.35" fill="#838383"/>
<rect x="1636.1" y="96.12" width="12.53" height="12.35" fill="#838383"/>
<rect x="1647.63" y="96.12" width="13.78" height="12.35" fill="#505050"/>
<rect x="1660.4" y="96.12" width="13.92" height="12.35" fill="#3f3f3f"/>
<rect x="1673.32" y="96.12" width="14.33" height="12.35" fill="#2d2d2d"/>
<rect x="1686.66" y="96.12" width="14.06" height="12.35" fill="#2d2d2d"/>
<rect x="1699.71" y="96.12" width="13.78" height="12.35" fill="#505050"/>
<rect x="1712.49" y="96.12" width="12.25" height="12.35" fill="#b2b2b2"/>
<rect x="1723.74" y="96.12" width="13.78" height="12.35" fill="#939393"/>
<rect x="1736.52" y="96.12" width="18.78" height="12.35" fill="#626262"/>
<rect x="1604.4" y="107.47" width="20.2" height="13.73" fill="#3f3f3f"/>
<rect x="1623.6" y="107.47" width="13.5" height="13.73" fill="#505050"/>
<rect x="1636.1" y="107.47" width="12.53" height="13.73" fill="#505050"/>
<rect x="1647.63" y="107.47" width="13.78" height="13.73" fill="#2d2d2d"/>
<rect x="1660.4" y="107.47" width="13.92" height="13.73" fill="#1b1b1b"/>
<rect x="1673.32" y="107.47" width="14.33" height="13.73" fill="#1b1b1b"/>
<rect x="1686.66" y="107.47" width="14.06" height="13.73" fill="#1b1b1b"/>
<rect x="1699.71" y="107.47" width="13.78" height="13.73" fill="#3f3f3f"/>
<rect x="1712.49" y="107.47" width="12.25" height="13.73" fill="#939393"/>
<rect x="1723.74" y="107.47" width="13.78" height="13.73" fill="#737373"/>
<rect x="1736.52" y="107.47" width="18.78" height="13.73" fill="#3f3f3f"/>
<rect x="1604.4" y="120.2" width="20.2" height="14.15" fill="#1b1b1b"/>
<rect x="1623.6" y="120.2" width="13.5" height="14.15" fill="#1b1b1b"/>
<rect x="1636.1" y="120.2" width="12.53" height="14.15" fill="#1b1b1b"/>
<rect x="1647.63" y="120.2" width="13.78" height="14.15" fill="#1b1b1b"/>
<rect x="1660.4" y="120.2" width="13.92" height="14.15" fill="#1b1b1b"/>
<rect x="1673.32" y="120.2" width="14.33" height="14.15" fill="#1b1b1b"/>
<rect x="1686.66" y="120.2" width="14.06" height="14.15" fill="#2d2d2d"/>
<rect x="1699.71" y="120.2" width="13.78" height="14.15" fill="#2d2d2d"/>
<rect x="1712.49" y="120.2" width="12.25" height="14.15" fill="#505050"/>
<rect x="1723.74" y="120.2" width="13.78" height="14.15" fill="#2d2d2d"/>
<rect x="1736.52" y="120.2" width="18.78" height="14.15" fill="#2d2d2d"/>
<rect x="1604.4" y="133.35" width="20.2" height="14.29" fill="#090909"/>
<rect x="1623.6" y="133.35" width="13.5" height="14.29" fill="#090909"/>
<rect x="1636.1" y="133.35" width="12.53" height="14.29" fill="#1b1b1b"/>
<rect x="1647.63" y="133.35" width="13.78" height="14.29" fill="#1b1b1b"/>
<rect x="1660.4" y="133.35" width="13.92" height="14.29" fill="#505050"/>
<rect x="1673.32" y="133.35" width="14.33" height="14.29" fill="#505050"/>
<rect x="1686.66" y="133.35" width="14.06" height="14.29" fill="#505050"/>
<rect x="1699.71" y="133.35" width="13.78" height="14.29" fill="#3f3f3f"/>
<rect x="1712.49" y="133.35" width="12.25" height="14.29" fill="#3f3f3f"/>
<rect x="1723.74" y="133.35" width="13.78" height="14.29" fill="#2d2d2d"/>
<rect x="1736.52" y="133.35" width="18.78" height="14.29" fill="#2d2d2d"/>
<rect x="1604.4" y="146.64" width="20.2" height="14.56" fill="#1b1b1b"/>
<rect x="1623.6" y="146.64" width="13.5" height="14.56" fill="#1b1b1b"/>
<rect x="1636.1" y="146.64" width="12.53" height="14.56" fill="#2d2d2d"/>
<rect x="1647.63" y="146.64" width="13.78" height="14.56" fill="#505050"/>
<rect x="1660.4" y="146.64" width="13.92" height="14.56" fill="#626262"/>
<rect x="1673.32" y="146.64" width="14.33" height="14.56" fill="#838383"/>
<rect x="1686.66" y="146.64" width="14.06" height="14.56" fill="#737373"/>
<rect x="1699.71" y="146.64" width="13.78" height="14.56" fill="#505050"/>
<rect x="1712.49" y="146.64" width="12.25" height="14.56" fill="#3f3f3f"/>
<rect x="1723.74" y="146.64" width="13.78" height="14.56" fill="#2d2d2d"/>
<rect x="1736.52" y="146.64" width="18.78" height="14.56" fill="#2d2d2d"/>
<rect x="1604.4" y="160.2" width="20.2" height="13.46" fill="#1b1b1b"/>
<rect x="1623.6" y="160.2" width="13.5" height="13.46" fill="#626262"/>
<rect x="1636.1" y="160.2" width="12.53" height="13.46" fill="#b2b2b2"/>
<rect x="1647.63" y="160.2" width="13.78" height="13.46" fill="#939393"/>
<rect x="1660.4" y="160.2" width="13.92" height="13.46" fill="#939393"/>
<rect x="1673.32" y="160.2" width="14.33" height="13.46" fill="#cfcfcf"/>
<rect x="1686.66" y="160.2" width="14.06" height="13.46" fill="#c0c0c0"/>
<rect x="1699.71" y="160.2" width="13.78" height="13.46" fill="#626262"/>
<rect x="1712.49" y="160.2" width="12.25" height="13.46" fill="#3f3f3f"/>
<rect x="1723.74" y="160.2" width="13.78" height="13.46" fill="#2d2d2d"/>
<rect x="1736.52" y="160.2" width="18.78" height="13.46" fill="#1b1b1b"/>
<rect x="1604.4" y="172.66" width="20.2" height="12.35" fill="#2d2d2d"/>
<rect x="1623.6" y="172.66" width="13.5" height="12.35" fill="#939393"/>
<rect x="1636.1" y="172.66" width="12.53" height="12.35" fill="#dddddd"/>
<rect x="1647.63" y="172.66" width="13.78" height="12.35" fill="#c0c0c0"/>
<rect x="1660.4" y="172.66" width="13.92" height="12.35" fill="#b2b2b2"/>
<rect x="1673.32" y="172.66" width="14.33" height="12.35" fill="#ebebeb"/>
<rect x="1686.66" y="172.66" width="14.06" height="12.35" fill="#cfcfcf"/>
<rect x="1699.71" y="172.66" width="13.78" height="12.35" fill="#626262"/>
<rect x="1712.49" y="172.66" width="12.25" height="12.35" fill="#2d2d2d"/>
<rect x="1723.74" y="172.66" width="13.78" height="12.35" fill="#1b1b1b"/>
<rect x="1736.52" y="172.66" width="18.78" height="12.35" fill="#1b1b1b"/>
<rect x="1604.4" y="184" width="20.2" height="13.59" fill="#2d2d2d"/>
<rect x="1623.6" y="184" width="13.5" height="13.59" fill="#838383"/>
<rect x="1636.1" y="184" width="12.53" height="13.59" fill="#a3a3a3"/>
<rect x="1647.63" y="184" width="13.78" height="13.59" fill="#838383"/>
<rect x="1660.4" y="184" width="13.92" height="13.59" fill="#737373"/>
<rect x="1673.32" y="184" width="14.33" height="13.59" fill="#737373"/>
<rect x="1686.66" y="184" width="14.06" height="13.59" fill="#737373"/>
<rect x="1699.71" y="184" width="13.78" height="13.59" fill="#505050"/>
<rect x="1712.49" y="184" width="12.25" height="13.59" fill="#2d2d2d"/>
<rect x="1723.74" y="184" width="13.78" height="13.59" fill="#1b1b1b"/>
<rect x="1736.52" y="184" width="18.78" height="13.59" fill="#1b1b1b"/>
<rect x="1604.4" y="196.6" width="20.2" height="21.5" fill="#2d2d2d"/>
<rect x="1623.6" y="196.6" width="13.5" height="21.5" fill="#505050"/>
<rect x="1636.1" y="196.6" width="12.53" height="21.5" fill="#626262"/>
<rect x="1647.63" y="196.6" width="13.78" height="21.5" fill="#626262"/>
<rect x="1660.4" y="196.6" width="13.92" height="21.5" fill="#737373"/>
<rect x="1673.32" y="196.6" width="14.33" height="21.5" fill="#3f3f3f"/>
<rect x="1686.66" y="196.6" width="14.06" height="21.5" fill="#626262"/>
<rect x="1699.71" y="196.6" width="13.78" height="21.5" fill="#505050"/>
<rect x="1712.49" y="196.6" width="12.25" height="21.5" fill="#3f3f3f"/>
<rect x="1723.74" y="196.6" width="13.78" height="21.5" fill="#2d2d2d"/>
<rect x="1736.52" y="196.6" width="18.78" height="21.5" fill="#1b1b1b"/>
<rect x="1610.4" y="73.7" width="138.9" height="138.4" fill="none" stroke="#000" stroke-width="5.4"/>
</g>
<ellipse cx="1679.3" cy="141.4" rx="36.5" ry="36" fill="none" stroke="#ee1018" stroke-width="3.3" filter="url(#bl2)"/>
</g>
<rect x="1611.2" y="74.5" width="137.3" height="136.8" fill="none" stroke="#000" stroke-width="1.6" filter="url(#bl2)"/>
<clipPath id="c4"><rect x="1116.7" y="243.3" width="139" height="138.3"/></clipPath>
<g clip-path="url(#c4)"><g filter="url(#bl3)">
<rect x="1110.7" y="237.3" width="20.2" height="17.1" fill="#1b1b1b"/>
<rect x="1129.9" y="237.3" width="13.51" height="17.1" fill="#2d2d2d"/>
<rect x="1142.41" y="237.3" width="12.54" height="17.1" fill="#3f3f3f"/>
<rect x="1153.95" y="237.3" width="13.79" height="17.1" fill="#1b1b1b"/>
<rect x="1166.74" y="237.3" width="13.93" height="17.1" fill="#2d2d2d"/>
<rect x="1179.67" y="237.3" width="14.34" height="17.1" fill="#838383"/>
<rect x="1193.01" y="237.3" width="14.07" height="17.1" fill="#cfcfcf"/>
<rect x="1206.08" y="237.3" width="13.79" height="17.1" fill="#838383"/>
<rect x="1218.87" y="237.3" width="12.26" height="17.1" fill="#2d2d2d"/>
<rect x="1230.12" y="237.3" width="13.79" height="17.1" fill="#1b1b1b"/>
<rect x="1242.91" y="237.3" width="18.79" height="17.1" fill="#1b1b1b"/>
<rect x="1110.7" y="253.4" width="20.2" height="13.31" fill="#2d2d2d"/>
<rect x="1129.9" y="253.4" width="13.51" height="13.31" fill="#838383"/>
<rect x="1142.41" y="253.4" width="12.54" height="13.31" fill="#737373"/>
<rect x="1153.95" y="253.4" width="13.79" height="13.31" fill="#3f3f3f"/>
<rect x="1166.74" y="253.4" width="13.93" height="13.31" fill="#1b1b1b"/>
<rect x="1179.67" y="253.4" width="14.34" height="13.31" fill="#3f3f3f"/>
<rect x="1193.01" y="253.4" width="14.07" height="13.31" fill="#505050"/>
<rect x="1206.08" y="253.4" width="13.79" height="13.31" fill="#3f3f3f"/>
<rect x="1218.87" y="253.4" width="12.26" height="13.31" fill="#1b1b1b"/>
<rect x="1230.12" y="253.4" width="13.79" height="13.31" fill="#2d2d2d"/>
<rect x="1242.91" y="253.4" width="18.79" height="13.31" fill="#838383"/>
<rect x="1110.7" y="265.7" width="20.2" height="12.34" fill="#2d2d2d"/>
<rect x="1129.9" y="265.7" width="13.51" height="12.34" fill="#838383"/>
<rect x="1142.41" y="265.7" width="12.54" height="12.34" fill="#626262"/>
<rect x="1153.95" y="265.7" width="13.79" height="12.34" fill="#2d2d2d"/>
<rect x="1166.74" y="265.7" width="13.93" height="12.34" fill="#2d2d2d"/>
<rect x="1179.67" y="265.7" width="14.34" height="12.34" fill="#505050"/>
<rect x="1193.01" y="265.7" width="14.07" height="12.34" fill="#626262"/>
<rect x="1206.08" y="265.7" width="13.79" height="12.34" fill="#2d2d2d"/>
<rect x="1218.87" y="265.7" width="12.26" height="12.34" fill="#1b1b1b"/>
<rect x="1230.12" y="265.7" width="13.79" height="12.34" fill="#2d2d2d"/>
<rect x="1242.91" y="265.7" width="18.79" height="12.34" fill="#737373"/>
<rect x="1110.7" y="277.05" width="20.2" height="13.72" fill="#1b1b1b"/>
<rect x="1129.9" y="277.05" width="13.51" height="13.72" fill="#2d2d2d"/>
<rect x="1142.41" y="277.05" width="12.54" height="13.72" fill="#2d2d2d"/>
<rect x="1153.95" y="277.05" width="13.79" height="13.72" fill="#2d2d2d"/>
<rect x="1166.74" y="277.05" width="13.93" height="13.72" fill="#3f3f3f"/>
<rect x="1179.67" y="277.05" width="14.34" height="13.72" fill="#b2b2b2"/>
<rect x="1193.01" y="277.05" width="14.07" height="13.72" fill="#c0c0c0"/>
<rect x="1206.08" y="277.05" width="13.79" height="13.72" fill="#505050"/>
<rect x="1218.87" y="277.05" width="12.26" height="13.72" fill="#1b1b1b"/>
<rect x="1230.12" y="277.05" width="13.79" height="13.72" fill="#1b1b1b"/>
<rect x="1242.91" y="277.05" width="18.79" height="13.72" fill="#2d2d2d"/>
<rect x="1110.7" y="289.77" width="20.2" height="14.14" fill="#1b1b1b"/>
<rect x="1129.9" y="289.77" width="13.51" height="14.14" fill="#1b1b1b"/>
<rect x="1142.41" y="289.77" width="12.54" height="14.14" fill="#1b1b1b"/>
<rect x="1153.95" y="289.77" width="13.79" height="14.14" fill="#2d2d2d"/>
<rect x="1166.74" y="289.77" width="13.93" height="14.14" fill="#737373"/>
<rect x="1179.67" y="289.77" width="14.34" height="14.14" fill="#c0c0c0"/>
<rect x="1193.01" y="289.77" width="14.07" height="14.14" fill="#c0c0c0"/>
<rect x="1206.08" y="289.77" width="13.79" height="14.14" fill="#505050"/>
<rect x="1218.87" y="289.77" width="12.26" height="14.14" fill="#2d2d2d"/>
<rect x="1230.12" y="289.77" width="13.79" height="14.14" fill="#090909"/>
<rect x="1242.91" y="289.77" width="18.79" height="14.14" fill="#1b1b1b"/>
<rect x="1110.7" y="302.91" width="20.2" height="14.28" fill="#3f3f3f"/>
<rect x="1129.9" y="302.91" width="13.51" height="14.28" fill="#626262"/>
<rect x="1142.41" y="302.91" width="12.54" height="14.28" fill="#3f3f3f"/>
<rect x="1153.95" y="302.91" width="13.79" height="14.28" fill="#3f3f3f"/>
<rect x="1166.74" y="302.91" width="13.93" height="14.28" fill="#838383"/>
<rect x="1179.67" y="302.91" width="14.34" height="14.28" fill="#dddddd"/>
<rect x="1193.01" y="302.91" width="14.07" height="14.28" fill="#b2b2b2"/>
<rect x="1206.08" y="302.91" width="13.79" height="14.28" fill="#505050"/>
<rect x="1218.87" y="302.91" width="12.26" height="14.28" fill="#2d2d2d"/>
<rect x="1230.12" y="302.91" width="13.79" height="14.28" fill="#090909"/>
<rect x="1242.91" y="302.91" width="18.79" height="14.28" fill="#1b1b1b"/>
<rect x="1110.7" y="316.18" width="20.2" height="14.55" fill="#737373"/>
<rect x="1129.9" y="316.18" width="13.51" height="14.55" fill="#ebebeb"/>
<rect x="1142.41" y="316.18" width="12.54" height="14.55" fill="#dddddd"/>
<rect x="1153.95" y="316.18" width="13.79" height="14.55" fill="#737373"/>
<rect x="1166.74" y="316.18" width="13.93" height="14.55" fill="#939393"/>
<rect x="1179.67" y="316.18" width="14.34" height="14.55" fill="#cfcfcf"/>
<rect x="1193.01" y="316.18" width="14.07" height="14.55" fill="#b2b2b2"/>
<rect x="1206.08" y="316.18" width="13.79" height="14.55" fill="#505050"/>
<rect x="1218.87" y="316.18" width="12.26" height="14.55" fill="#2d2d2d"/>
<rect x="1230.12" y="316.18" width="13.79" height="14.55" fill="#1b1b1b"/>
<rect x="1242.91" y="316.18" width="18.79" height="14.55" fill="#1b1b1b"/>
<rect x="1110.7" y="329.74" width="20.2" height="13.45" fill="#626262"/>
<rect x="1129.9" y="329.74" width="13.51" height="13.45" fill="#dddddd"/>
<rect x="1142.41" y="329.74" width="12.54" height="13.45" fill="#c0c0c0"/>
<rect x="1153.95" y="329.74" width="13.79" height="13.45" fill="#505050"/>
<rect x="1166.74" y="329.74" width="13.93" height="13.45" fill="#626262"/>
<rect x="1179.67" y="329.74" width="14.34" height="13.45" fill="#939393"/>
<rect x="1193.01" y="329.74" width="14.07" height="13.45" fill="#737373"/>
<rect x="1206.08" y="329.74" width="13.79" height="13.45" fill="#505050"/>
<rect x="1218.87" y="329.74" width="12.26" height="13.45" fill="#2d2d2d"/>
<rect x="1230.12" y="329.74" width="13.79" height="13.45" fill="#2d2d2d"/>
<rect x="1242.91" y="329.74" width="18.79" height="13.45" fill="#2d2d2d"/>
<rect x="1110.7" y="342.18" width="20.2" height="12.34" fill="#3f3f3f"/>
<rect x="1129.9" y="342.18" width="13.51" height="12.34" fill="#505050"/>
<rect x="1142.41" y="342.18" width="12.54" height="12.34" fill="#3f3f3f"/>
<rect x="1153.95" y="342.18" width="13.79" height="12.34" fill="#2d2d2d"/>
<rect x="1166.74" y="342.18" width="13.93" height="12.34" fill="#2d2d2d"/>
<rect x="1179.67" y="342.18" width="14.34" height="12.34" fill="#2d2d2d"/>
<rect x="1193.01" y="342.18" width="14.07" height="12.34" fill="#3f3f3f"/>
<rect x="1206.08" y="342.18" width="13.79" height="12.34" fill="#3f3f3f"/>
<rect x="1218.87" y="342.18" width="12.26" height="12.34" fill="#3f3f3f"/>
<rect x="1230.12" y="342.18" width="13.79" height="12.34" fill="#2d2d2d"/>
<rect x="1242.91" y="342.18" width="18.79" height="12.34" fill="#505050"/>
<rect x="1110.7" y="353.53" width="20.2" height="13.59" fill="#1b1b1b"/>
<rect x="1129.9" y="353.53" width="13.51" height="13.59" fill="#1b1b1b"/>
<rect x="1142.41" y="353.53" width="12.54" height="13.59" fill="#1b1b1b"/>
<rect x="1153.95" y="353.53" width="13.79" height="13.59" fill="#1b1b1b"/>
<rect x="1166.74" y="353.53" width="13.93" height="13.59" fill="#1b1b1b"/>
<rect x="1179.67" y="353.53" width="14.34" height="13.59" fill="#2d2d2d"/>
<rect x="1193.01" y="353.53" width="14.07" height="13.59" fill="#505050"/>
<rect x="1206.08" y="353.53" width="13.79" height="13.59" fill="#939393"/>
<rect x="1218.87" y="353.53" width="12.26" height="13.59" fill="#838383"/>
<rect x="1230.12" y="353.53" width="13.79" height="13.59" fill="#505050"/>
<rect x="1242.91" y="353.53" width="18.79" height="13.59" fill="#3f3f3f"/>
<rect x="1110.7" y="366.11" width="20.2" height="21.49" fill="#1b1b1b"/>
<rect x="1129.9" y="366.11" width="13.51" height="21.49" fill="#1b1b1b"/>
<rect x="1142.41" y="366.11" width="12.54" height="21.49" fill="#1b1b1b"/>
<rect x="1153.95" y="366.11" width="13.79" height="21.49" fill="#1b1b1b"/>
<rect x="1166.74" y="366.11" width="13.93" height="21.49" fill="#1b1b1b"/>
<rect x="1179.67" y="366.11" width="14.34" height="21.49" fill="#1b1b1b"/>
<rect x="1193.01" y="366.11" width="14.07" height="21.49" fill="#626262"/>
<rect x="1206.08" y="366.11" width="13.79" height="21.49" fill="#c0c0c0"/>
<rect x="1218.87" y="366.11" width="12.26" height="21.49" fill="#838383"/>
<rect x="1230.12" y="366.11" width="13.79" height="21.49" fill="#2d2d2d"/>
<rect x="1242.91" y="366.11" width="18.79" height="21.49" fill="#2d2d2d"/>
<rect x="1116.7" y="243.3" width="139" height="138.3" fill="none" stroke="#000" stroke-width="7"/>
</g>
<ellipse cx="1185.3" cy="311.5" rx="37.5" ry="35.2" fill="none" stroke="#ee1018" stroke-width="3.3" filter="url(#bl2)"/>
</g>
<rect x="1117.9" y="244.5" width="136.6" height="135.9" fill="none" stroke="#000" stroke-width="2.4" filter="url(#bl2)"/>
<clipPath id="c5"><rect x="1281.3" y="243.3" width="139" height="138.3"/></clipPath>
<g clip-path="url(#c5)"><g filter="url(#bl3)">
<rect x="1275.3" y="237.3" width="20.2" height="17.1" fill="#1b1b1b"/>
<rect x="1294.5" y="237.3" width="13.51" height="17.1" fill="#2d2d2d"/>
<rect x="1307.01" y="237.3" width="12.54" height="17.1" fill="#3f3f3f"/>
<rect x="1318.55" y="237.3" width="13.79" height="17.1" fill="#2d2d2d"/>
<rect x="1331.34" y="237.3" width="13.93" height="17.1" fill="#1b1b1b"/>
<rect x="1344.27" y="237.3" width="14.34" height="17.1" fill="#737373"/>
<rect x="1357.61" y="237.3" width="14.07" height="17.1" fill="#cfcfcf"/>
<rect x="1370.68" y="237.3" width="13.79" height="17.1" fill="#a3a3a3"/>
<rect x="1383.46" y="237.3" width="12.26" height="17.1" fill="#3f3f3f"/>
<rect x="1394.72" y="237.3" width="13.79" height="17.1" fill="#1b1b1b"/>
<rect x="1407.51" y="237.3" width="18.79" height="17.1" fill="#1b1b1b"/>
<rect x="1275.3" y="253.4" width="20.2" height="13.31" fill="#2d2d2d"/>
<rect x="1294.5" y="253.4" width="13.51" height="13.31" fill="#838383"/>
<rect x="1307.01" y="253.4" width="12.54" height="13.31" fill="#838383"/>
<rect x="1318.55" y="253.4" width="13.79" height="13.31" fill="#505050"/>
<rect x="1331.34" y="253.4" width="13.93" height="13.31" fill="#1b1b1b"/>
<rect x="1344.27" y="253.4" width="14.34" height="13.31" fill="#3f3f3f"/>
<rect x="1357.61" y="253.4" width="14.07" height="13.31" fill="#626262"/>
<rect x="1370.68" y="253.4" width="13.79" height="13.31" fill="#3f3f3f"/>
<rect x="1383.46" y="253.4" width="12.26" height="13.31" fill="#1b1b1b"/>
<rect x="1394.72" y="253.4" width="13.79" height="13.31" fill="#2d2d2d"/>
<rect x="1407.51" y="253.4" width="18.79" height="13.31" fill="#737373"/>
<rect x="1275.3" y="265.7" width="20.2" height="12.34" fill="#2d2d2d"/>
<rect x="1294.5" y="265.7" width="13.51" height="12.34" fill="#838383"/>
<rect x="1307.01" y="265.7" width="12.54" height="12.34" fill="#838383"/>
<rect x="1318.55" y="265.7" width="13.79" height="12.34" fill="#505050"/>
<rect x="1331.34" y="265.7" width="13.93" height="12.34" fill="#1b1b1b"/>
<rect x="1344.27" y="265.7" width="14.34" height="12.34" fill="#3f3f3f"/>
<rect x="1357.61" y="265.7" width="14.07" height="12.34" fill="#626262"/>
<rect x="1370.68" y="265.7" width="13.79" height="12.34" fill="#3f3f3f"/>
<rect x="1383.46" y="265.7" width="12.26" height="12.34" fill="#1b1b1b"/>
<rect x="1394.72" y="265.7" width="13.79" height="12.34" fill="#2d2d2d"/>
<rect x="1407.51" y="265.7" width="18.79" height="12.34" fill="#737373"/>
<rect x="1275.3" y="277.05" width="20.2" height="13.72" fill="#1b1b1b"/>
<rect x="1294.5" y="277.05" width="13.51" height="13.72" fill="#3f3f3f"/>
<rect x="1307.01" y="277.05" width="12.54" height="13.72" fill="#2d2d2d"/>
<rect x="1318.55" y="277.05" width="13.79" height="13.72" fill="#2d2d2d"/>
<rect x="1331.34" y="277.05" width="13.93" height="13.72" fill="#3f3f3f"/>
<rect x="1344.27" y="277.05" width="14.34" height="13.72" fill="#939393"/>
<rect x="1357.61" y="277.05" width="14.07" height="13.72" fill="#c0c0c0"/>
<rect x="1370.68" y="277.05" width="13.79" height="13.72" fill="#626262"/>
<rect x="1383.46" y="277.05" width="12.26" height="13.72" fill="#1b1b1b"/>
<rect x="1394.72" y="277.05" width="13.79" height="13.72" fill="#1b1b1b"/>
<rect x="1407.51" y="277.05" width="18.79" height="13.72" fill="#2d2d2d"/>
<rect x="1275.3" y="289.77" width="20.2" height="14.14" fill="#1b1b1b"/>
<rect x="1294.5" y="289.77" width="13.51" height="14.14" fill="#1b1b1b"/>
<rect x="1307.01" y="289.77" width="12.54" height="14.14" fill="#1b1b1b"/>
<rect x="1318.55" y="289.77" width="13.79" height="14.14" fill="#1b1b1b"/>
<rect x="1331.34" y="289.77" width="13.93" height="14.14" fill="#505050"/>
<rect x="1344.27" y="289.77" width="14.34" height="14.14" fill="#a3a3a3"/>
<rect x="1357.61" y="289.77" width="14.07" height="14.14" fill="#c0c0c0"/>
<rect x="1370.68" y="289.77" width="13.79" height="14.14" fill="#505050"/>
<rect x="1383.46" y="289.77" width="12.26" height="14.14" fill="#1b1b1b"/>
<rect x="1394.72" y="289.77" width="13.79" height="14.14" fill="#1b1b1b"/>
<rect x="1407.51" y="289.77" width="18.79" height="14.14" fill="#1b1b1b"/>
<rect x="1275.3" y="302.91" width="20.2" height="14.28" fill="#2d2d2d"/>
<rect x="1294.5" y="302.91" width="13.51" height="14.28" fill="#626262"/>
<rect x="1307.01" y="302.91" width="12.54" height="14.28" fill="#505050"/>
<rect x="1318.55" y="302.91" width="13.79" height="14.28" fill="#3f3f3f"/>
<rect x="1331.34" y="302.91" width="13.93" height="14.28" fill="#626262"/>
<rect x="1344.27" y="302.91" width="14.34" height="14.28" fill="#a3a3a3"/>
<rect x="1357.61" y="302.91" width="14.07" height="14.28" fill="#939393"/>
<rect x="1370.68" y="302.91" width="13.79" height="14.28" fill="#505050"/>
<rect x="1383.46" y="302.91" width="12.26" height="14.28" fill="#1b1b1b"/>
<rect x="1394.72" y="302.91" width="13.79" height="14.28" fill="#090909"/>
<rect x="1407.51" y="302.91" width="18.79" height="14.28" fill="#1b1b1b"/>
<rect x="1275.3" y="316.18" width="20.2" height="14.55" fill="#737373"/>
<rect x="1294.5" y="316.18" width="13.51" height="14.55" fill="#ebebeb"/>
<rect x="1307.01" y="316.18" width="12.54" height="14.55" fill="#dddddd"/>
<rect x="1318.55" y="316.18" width="13.79" height="14.55" fill="#737373"/>
<rect x="1331.34" y="316.18" width="13.93" height="14.55" fill="#737373"/>
<rect x="1344.27" y="316.18" width="14.34" height="14.55" fill="#a3a3a3"/>
<rect x="1357.61" y="316.18" width="14.07" height="14.55" fill="#939393"/>
<rect x="1370.68" y="316.18" width="13.79" height="14.55" fill="#3f3f3f"/>
<rect x="1383.46" y="316.18" width="12.26" height="14.55" fill="#1b1b1b"/>
<rect x="1394.72" y="316.18" width="13.79" height="14.55" fill="#1b1b1b"/>
<rect x="1407.51" y="316.18" width="18.79" height="14.55" fill="#1b1b1b"/>
<rect x="1275.3" y="329.74" width="20.2" height="13.45" fill="#626262"/>
<rect x="1294.5" y="329.74" width="13.51" height="13.45" fill="#dddddd"/>
<rect x="1307.01" y="329.74" width="12.54" height="13.45" fill="#cfcfcf"/>
<rect x="1318.55" y="329.74" width="13.79" height="13.45" fill="#626262"/>
<rect x="1331.34" y="329.74" width="13.93" height="13.45" fill="#505050"/>
<rect x="1344.27" y="329.74" width="14.34" height="13.45" fill="#737373"/>
<rect x="1357.61" y="329.74" width="14.07" height="13.45" fill="#626262"/>
<rect x="1370.68" y="329.74" width="13.79" height="13.45" fill="#2d2d2d"/>
<rect x="1383.46" y="329.74" width="12.26" height="13.45" fill="#2d2d2d"/>
<rect x="1394.72" y="329.74" width="13.79" height="13.45" fill="#2d2d2d"/>
<rect x="1407.51" y="329.74" width="18.79" height="13.45" fill="#2d2d2d"/>
<rect x="1275.3" y="342.18" width="20.2" height="12.34" fill="#3f3f3f"/>
<rect x="1294.5" y="342.18" width="13.51" height="12.34" fill="#626262"/>
<rect x="1307.01" y="342.18" width="12.54" height="12.34" fill="#626262"/>
<rect x="1318.55" y="342.18" width="13.79" height="12.34" fill="#2d2d2d"/>
<rect x="1331.34" y="342.18" width="13.93" height="12.34" fill="#2d2d2d"/>
<rect x="1344.27" y="342.18" width="14.34" height="12.34" fill="#2d2d2d"/>
<rect x="1357.61" y="342.18" width="14.07" height="12.34" fill="#2d2d2d"/>
<rect x="1370.68" y="342.18" width="13.79" height="12.34" fill="#2d2d2d"/>
<rect x="1383.46" y="342.18" width="12.26" height="12.34" fill="#2d2d2d"/>
<rect x="1394.72" y="342.18" width="13.79" height="12.34" fill="#2d2d2d"/>
<rect x="1407.51" y="342.18" width="18.79" height="12.34" fill="#505050"/>
<rect x="1275.3" y="353.53" width="20.2" height="13.59" fill="#1b1b1b"/>
<rect x="1294.5" y="353.53" width="13.51" height="13.59" fill="#1b1b1b"/>
<rect x="1307.01" y="353.53" width="12.54" height="13.59" fill="#1b1b1b"/>
<rect x="1318.55" y="353.53" width="13.79" height="13.59" fill="#1b1b1b"/>
<rect x="1331.34" y="353.53" width="13.93" height="13.59" fill="#1b1b1b"/>
<rect x="1344.27" y="353.53" width="14.34" height="13.59" fill="#1b1b1b"/>
<rect x="1357.61" y="353.53" width="14.07" height="13.59" fill="#3f3f3f"/>
<rect x="1370.68" y="353.53" width="13.79" height="13.59" fill="#838383"/>
<rect x="1383.46" y="353.53" width="12.26" height="13.59" fill="#737373"/>
<rect x="1394.72" y="353.53" width="13.79" height="13.59" fill="#505050"/>
<rect x="1407.51" y="353.53" width="18.79" height="13.59" fill="#505050"/>
<rect x="1275.3" y="366.11" width="20.2" height="21.49" fill="#090909"/>
<rect x="1294.5" y="366.11" width="13.51" height="21.49" fill="#090909"/>
<rect x="1307.01" y="366.11" width="12.54" height="21.49" fill="#090909"/>
<rect x="1318.55" y="366.11" width="13.79" height="21.49" fill="#090909"/>
<rect x="1331.34" y="366.11" width="13.93" height="21.49" fill="#1b1b1b"/>
<rect x="1344.27" y="366.11" width="14.34" height="21.49" fill="#1b1b1b"/>
<rect x="1357.61" y="366.11" width="14.07" height="21.49" fill="#3f3f3f"/>
<rect x="1370.68" y="366.11" width="13.79" height="21.49" fill="#c0c0c0"/>
<rect x="1383.46" y="366.11" width="12.26" height="21.49" fill="#b2b2b2"/>
<rect x="1394.72" y="366.11" width="13.79" height="21.49" fill="#2d2d2d"/>
<rect x="1407.51" y="366.11" width="18.79" height="21.49" fill="#2d2d2d"/>
<rect x="1281.3" y="243.3" width="139" height="138.3" fill="none" stroke="#000" stroke-width="7"/>
</g>
<ellipse cx="1349.7" cy="311.4" rx="35.5" ry="35.2" fill="none" stroke="#ee1018" stroke-width="3.3" filter="url(#bl2)"/>
</g>
<rect x="1282.5" y="244.5" width="136.6" height="135.9" fill="none" stroke="#000" stroke-width="2.4" filter="url(#bl2)"/>
<clipPath id="c6"><rect x="1442.4" y="243.3" width="141.7" height="138.3"/></clipPath>
<g clip-path="url(#c6)"><g filter="url(#bl3)">
<rect x="1436.4" y="237.3" width="20.46" height="17.1" fill="#2d2d2d"/>
<rect x="1455.86" y="237.3" width="13.75" height="17.1" fill="#505050"/>
<rect x="1468.61" y="237.3" width="12.76" height="17.1" fill="#505050"/>
<rect x="1480.38" y="237.3" width="14.04" height="17.1" fill="#2d2d2d"/>
<rect x="1493.41" y="237.3" width="14.18" height="17.1" fill="#2d2d2d"/>
<rect x="1506.59" y="237.3" width="14.6" height="17.1" fill="#737373"/>
<rect x="1520.19" y="237.3" width="14.32" height="17.1" fill="#c0c0c0"/>
<rect x="1533.51" y="237.3" width="14.04" height="17.1" fill="#626262"/>
<rect x="1546.55" y="237.3" width="12.48" height="17.1" fill="#2d2d2d"/>
<rect x="1558.03" y="237.3" width="14.04" height="17.1" fill="#2d2d2d"/>
<rect x="1571.06" y="237.3" width="19.04" height="17.1" fill="#3f3f3f"/>
<rect x="1436.4" y="253.4" width="20.46" height="13.31" fill="#3f3f3f"/>
<rect x="1455.86" y="253.4" width="13.75" height="13.31" fill="#a3a3a3"/>
<rect x="1468.61" y="253.4" width="12.76" height="13.31" fill="#838383"/>
<rect x="1480.38" y="253.4" width="14.04" height="13.31" fill="#3f3f3f"/>
<rect x="1493.41" y="253.4" width="14.18" height="13.31" fill="#1b1b1b"/>
<rect x="1506.59" y="253.4" width="14.6" height="13.31" fill="#2d2d2d"/>
<rect x="1520.19" y="253.4" width="14.32" height="13.31" fill="#3f3f3f"/>
<rect x="1533.51" y="253.4" width="14.04" height="13.31" fill="#3f3f3f"/>
<rect x="1546.55" y="253.4" width="12.48" height="13.31" fill="#1b1b1b"/>
<rect x="1558.03" y="253.4" width="14.04" height="13.31" fill="#2d2d2d"/>
<rect x="1571.06" y="253.4" width="19.04" height="13.31" fill="#a3a3a3"/>
<rect x="1436.4" y="265.7" width="20.46" height="12.34" fill="#2d2d2d"/>
<rect x="1455.86" y="265.7" width="13.75" height="12.34" fill="#505050"/>
<rect x="1468.61" y="265.7" width="12.76" height="12.34" fill="#3f3f3f"/>
<rect x="1480.38" y="265.7" width="14.04" height="12.34" fill="#2d2d2d"/>
<rect x="1493.41" y="265.7" width="14.18" height="12.34" fill="#1b1b1b"/>
<rect x="1506.59" y="265.7" width="14.6" height="12.34" fill="#626262"/>
<rect x="1520.19" y="265.7" width="14.32" height="12.34" fill="#939393"/>
<rect x="1533.51" y="265.7" width="14.04" height="12.34" fill="#3f3f3f"/>
<rect x="1546.55" y="265.7" width="12.48" height="12.34" fill="#1b1b1b"/>
<rect x="1558.03" y="265.7" width="14.04" height="12.34" fill="#2d2d2d"/>
<rect x="1571.06" y="265.7" width="19.04" height="12.34" fill="#626262"/>
<rect x="1436.4" y="277.05" width="20.46" height="13.72" fill="#1b1b1b"/>
<rect x="1455.86" y="277.05" width="13.75" height="13.72" fill="#1b1b1b"/>
<rect x="1468.61" y="277.05" width="12.76" height="13.72" fill="#1b1b1b"/>
<rect x="1480.38" y="277.05" width="14.04" height="13.72" fill="#1b1b1b"/>
<rect x="1493.41" y="277.05" width="14.18" height="13.72" fill="#3f3f3f"/>
<rect x="1506.59" y="277.05" width="14.6" height="13.72" fill="#c0c0c0"/>
<rect x="1520.19" y="277.05" width="14.32" height="13.72" fill="#cfcfcf"/>
<rect x="1533.51" y="277.05" width="14.04" height="13.72" fill="#505050"/>
<rect x="1546.55" y="277.05" width="12.48" height="13.72" fill="#2d2d2d"/>
<rect x="1558.03" y="277.05" width="14.04" height="13.72" fill="#1b1b1b"/>
<rect x="1571.06" y="277.05" width="19.04" height="13.72" fill="#2d2d2d"/>
<rect x="1436.4" y="289.77" width="20.46" height="14.14" fill="#2d2d2d"/>
<rect x="1455.86" y="289.77" width="13.75" height="14.14" fill="#2d2d2d"/>
<rect x="1468.61" y="289.77" width="12.76" height="14.14" fill="#2d2d2d"/>
<rect x="1480.38" y="289.77" width="14.04" height="14.14" fill="#2d2d2d"/>
<rect x="1493.41" y="289.77" width="14.18" height="14.14" fill="#626262"/>
<rect x="1506.59" y="289.77" width="14.6" height="14.14" fill="#c0c0c0"/>
<rect x="1520.19" y="289.77" width="14.32" height="14.14" fill="#c0c0c0"/>
<rect x="1533.51" y="289.77" width="14.04" height="14.14" fill="#505050"/>
<rect x="1546.55" y="289.77" width="12.48" height="14.14" fill="#1b1b1b"/>
<rect x="1558.03" y="289.77" width="14.04" height="14.14" fill="#1b1b1b"/>
<rect x="1571.06" y="289.77" width="19.04" height="14.14" fill="#1b1b1b"/>
<rect x="1436.4" y="302.91" width="20.46" height="14.28" fill="#626262"/>
<rect x="1455.86" y="302.91" width="13.75" height="14.28" fill="#c0c0c0"/>
<rect x="1468.61" y="302.91" width="12.76" height="14.28" fill="#b2b2b2"/>
<rect x="1480.38" y="302.91" width="14.04" height="14.28" fill="#626262"/>
<rect x="1493.41" y="302.91" width="14.18" height="14.28" fill="#838383"/>
<rect x="1506.59" y="302.91" width="14.6" height="14.28" fill="#dddddd"/>
<rect x="1520.19" y="302.91" width="14.32" height="14.28" fill="#b2b2b2"/>
<rect x="1533.51" y="302.91" width="14.04" height="14.28" fill="#626262"/>
<rect x="1546.55" y="302.91" width="12.48" height="14.28" fill="#2d2d2d"/>
<rect x="1558.03" y="302.91" width="14.04" height="14.28" fill="#1b1b1b"/>
<rect x="1571.06" y="302.91" width="19.04" height="14.28" fill="#1b1b1b"/>
<rect x="1436.4" y="316.18" width="20.46" height="14.55" fill="#838383"/>
<rect x="1455.86" y="316.18" width="13.75" height="14.55" fill="#f9f9f9"/>
<rect x="1468.61" y="316.18" width="12.76" height="14.55" fill="#dddddd"/>
<rect x="1480.38" y="316.18" width="14.04" height="14.55" fill="#737373"/>
<rect x="1493.41" y="316.18" width="14.18" height="14.55" fill="#939393"/>
<rect x="1506.59" y="316.18" width="14.6" height="14.55" fill="#b2b2b2"/>
<rect x="1520.19" y="316.18" width="14.32" height="14.55" fill="#b2b2b2"/>
<rect x="1533.51" y="316.18" width="14.04" height="14.55" fill="#505050"/>
<rect x="1546.55" y="316.18" width="12.48" height="14.55" fill="#2d2d2d"/>
<rect x="1558.03" y="316.18" width="14.04" height="14.55" fill="#1b1b1b"/>
<rect x="1571.06" y="316.18" width="19.04" height="14.55" fill="#2d2d2d"/>
<rect x="1436.4" y="329.74" width="20.46" height="13.45" fill="#626262"/>
<rect x="1455.86" y="329.74" width="13.75" height="13.45" fill="#cfcfcf"/>
<rect x="1468.61" y="329.74" width="12.76" height="13.45" fill="#939393"/>
<rect x="1480.38" y="329.74" width="14.04" height="13.45" fill="#3f3f3f"/>
<rect x="1493.41" y="329.74" width="14.18" height="13.45" fill="#505050"/>
<rect x="1506.59" y="329.74" width="14.6" height="13.45" fill="#626262"/>
<rect x="1520.19" y="329.74" width="14.32" height="13.45" fill="#626262"/>
<rect x="1533.51" y="329.74" width="14.04" height="13.45" fill="#3f3f3f"/>
<rect x="1546.55" y="329.74" width="12.48" height="13.45" fill="#2d2d2d"/>
<rect x="1558.03" y="329.74" width="14.04" height="13.45" fill="#2d2d2d"/>
<rect x="1571.06" y="329.74" width="19.04" height="13.45" fill="#3f3f3f"/>
<rect x="1436.4" y="342.18" width="20.46" height="12.34" fill="#2d2d2d"/>
<rect x="1455.86" y="342.18" width="13.75" height="12.34" fill="#3f3f3f"/>
<rect x="1468.61" y="342.18" width="12.76" height="12.34" fill="#3f3f3f"/>
<rect x="1480.38" y="342.18" width="14.04" height="12.34" fill="#2d2d2d"/>
<rect x="1493.41" y="342.18" width="14.18" height="12.34" fill="#2d2d2d"/>
<rect x="1506.59" y="342.18" width="14.6" height="12.34" fill="#2d2d2d"/>
<rect x="1520.19" y="342.18" width="14.32" height="12.34" fill="#3f3f3f"/>
<rect x="1533.51" y="342.18" width="14.04" height="12.34" fill="#3f3f3f"/>
<rect x="1546.55" y="342.18" width="12.48" height="12.34" fill="#505050"/>
<rect x="1558.03" y="342.18" width="14.04" height="12.34" fill="#3f3f3f"/>
<rect x="1571.06" y="342.18" width="19.04" height="12.34" fill="#737373"/>
<rect x="1436.4" y="353.53" width="20.46" height="13.59" fill="#1b1b1b"/>
<rect x="1455.86" y="353.53" width="13.75" height="13.59" fill="#1b1b1b"/>
<rect x="1468.61" y="353.53" width="12.76" height="13.59" fill="#1b1b1b"/>
<rect x="1480.38" y="353.53" width="14.04" height="13.59" fill="#1b1b1b"/>
<rect x="1493.41" y="353.53" width="14.18" height="13.59" fill="#1b1b1b"/>
<rect x="1506.59" y="353.53" width="14.6" height="13.59" fill="#2d2d2d"/>
<rect x="1520.19" y="353.53" width="14.32" height="13.59" fill="#737373"/>
<rect x="1533.51" y="353.53" width="14.04" height="13.59" fill="#c0c0c0"/>
<rect x="1546.55" y="353.53" width="12.48" height="13.59" fill="#838383"/>
<rect x="1558.03" y="353.53" width="14.04" height="13.59" fill="#505050"/>
<rect x="1571.06" y="353.53" width="19.04" height="13.59" fill="#505050"/>
<rect x="1436.4" y="366.11" width="20.46" height="21.49" fill="#1b1b1b"/>
<rect x="1455.86" y="366.11" width="13.75" height="21.49" fill="#1b1b1b"/>
<rect x="1468.61" y="366.11" width="12.76" height="21.49" fill="#1b1b1b"/>
<rect x="1480.38" y="366.11" width="14.04" height="21.49" fill="#1b1b1b"/>
<rect x="1493.41" y="366.11" width="14.18" height="21.49" fill="#1b1b1b"/>
<rect x="1506.59" y="366.11" width="14.6" height="21.49" fill="#2d2d2d"/>
<rect x="1520.19" y="366.11" width="14.32" height="21.49" fill="#505050"/>
<rect x="1533.51" y="366.11" width="14.04" height="21.49" fill="#939393"/>
<rect x="1546.55" y="366.11" width="12.48" height="21.49" fill="#737373"/>
<rect x="1558.03" y="366.11" width="14.04" height="21.49" fill="#2d2d2d"/>
<rect x="1571.06" y="366.11" width="19.04" height="21.49" fill="#2d2d2d"/>
<rect x="1442.4" y="243.3" width="141.7" height="138.3" fill="none" stroke="#000" stroke-width="7"/>
</g>
<ellipse cx="1513.1" cy="311.4" rx="37.5" ry="35.2" fill="none" stroke="#ee1018" stroke-width="3.3" filter="url(#bl2)"/>
</g>
<rect x="1443.6" y="244.5" width="139.3" height="135.9" fill="none" stroke="#000" stroke-width="2.4" filter="url(#bl2)"/>
<clipPath id="c7"><rect x="1606.7" y="243.3" width="138.6" height="138.3"/></clipPath>
<g clip-path="url(#c7)"><g filter="url(#bl3)">
<rect x="1600.7" y="237.3" width="20.17" height="17.1" fill="#3f3f3f"/>
<rect x="1619.87" y="237.3" width="13.47" height="17.1" fill="#737373"/>
<rect x="1632.34" y="237.3" width="12.5" height="17.1" fill="#626262"/>
<rect x="1643.84" y="237.3" width="13.75" height="17.1" fill="#2d2d2d"/>
<rect x="1656.6" y="237.3" width="13.89" height="17.1" fill="#1b1b1b"/>
<rect x="1669.49" y="237.3" width="14.31" height="17.1" fill="#505050"/>
<rect x="1682.79" y="237.3" width="14.03" height="17.1" fill="#939393"/>
<rect x="1695.82" y="237.3" width="13.75" height="17.1" fill="#505050"/>
<rect x="1708.57" y="237.3" width="12.23" height="17.1" fill="#1b1b1b"/>
<rect x="1719.8" y="237.3" width="13.75" height="17.1" fill="#2d2d2d"/>
<rect x="1732.55" y="237.3" width="18.75" height="17.1" fill="#626262"/>
<rect x="1600.7" y="253.4" width="20.17" height="13.31" fill="#626262"/>
<rect x="1619.87" y="253.4" width="13.47" height="13.31" fill="#a3a3a3"/>
<rect x="1632.34" y="253.4" width="12.5" height="13.31" fill="#838383"/>
<rect x="1643.84" y="253.4" width="13.75" height="13.31" fill="#2d2d2d"/>
<rect x="1656.6" y="253.4" width="13.89" height="13.31" fill="#1b1b1b"/>
<rect x="1669.49" y="253.4" width="14.31" height="13.31" fill="#3f3f3f"/>
<rect x="1682.79" y="253.4" width="14.03" height="13.31" fill="#3f3f3f"/>
<rect x="1695.82" y="253.4" width="13.75" height="13.31" fill="#2d2d2d"/>
<rect x="1708.57" y="253.4" width="12.23" height="13.31" fill="#1b1b1b"/>
<rect x="1719.8" y="253.4" width="13.75" height="13.31" fill="#3f3f3f"/>
<rect x="1732.55" y="253.4" width="18.75" height="13.31" fill="#a3a3a3"/>
<rect x="1600.7" y="265.7" width="20.17" height="12.34" fill="#2d2d2d"/>
<rect x="1619.87" y="265.7" width="13.47" height="12.34" fill="#3f3f3f"/>
<rect x="1632.34" y="265.7" width="12.5" height="12.34" fill="#2d2d2d"/>
<rect x="1643.84" y="265.7" width="13.75" height="12.34" fill="#1b1b1b"/>
<rect x="1656.6" y="265.7" width="13.89" height="12.34" fill="#2d2d2d"/>
<rect x="1669.49" y="265.7" width="14.31" height="12.34" fill="#939393"/>
<rect x="1682.79" y="265.7" width="14.03" height="12.34" fill="#c0c0c0"/>
<rect x="1695.82" y="265.7" width="13.75" height="12.34" fill="#3f3f3f"/>
<rect x="1708.57" y="265.7" width="12.23" height="12.34" fill="#1b1b1b"/>
<rect x="1719.8" y="265.7" width="13.75" height="12.34" fill="#2d2d2d"/>
<rect x="1732.55" y="265.7" width="18.75" height="12.34" fill="#3f3f3f"/>
<rect x="1600.7" y="277.05" width="20.17" height="13.72" fill="#1b1b1b"/>
<rect x="1619.87" y="277.05" width="13.47" height="13.72" fill="#1b1b1b"/>
<rect x="1632.34" y="277.05" width="12.5" height="13.72" fill="#1b1b1b"/>
<rect x="1643.84" y="277.05" width="13.75" height="13.72" fill="#1b1b1b"/>
<rect x="1656.6" y="277.05" width="13.89" height="13.72" fill="#626262"/>
<rect x="1669.49" y="277.05" width="14.31" height="13.72" fill="#c0c0c0"/>
<rect x="1682.79" y="277.05" width="14.03" height="13.72" fill="#c0c0c0"/>
<rect x="1695.82" y="277.05" width="13.75" height="13.72" fill="#3f3f3f"/>
<rect x="1708.57" y="277.05" width="12.23" height="13.72" fill="#1b1b1b"/>
<rect x="1719.8" y="277.05" width="13.75" height="13.72" fill="#1b1b1b"/>
<rect x="1732.55" y="277.05" width="18.75" height="13.72" fill="#1b1b1b"/>
<rect x="1600.7" y="289.77" width="20.17" height="14.14" fill="#2d2d2d"/>
<rect x="1619.87" y="289.77" width="13.47" height="14.14" fill="#2d2d2d"/>
<rect x="1632.34" y="289.77" width="12.5" height="14.14" fill="#2d2d2d"/>
<rect x="1643.84" y="289.77" width="13.75" height="14.14" fill="#2d2d2d"/>
<rect x="1656.6" y="289.77" width="13.89" height="14.14" fill="#626262"/>
<rect x="1669.49" y="289.77" width="14.31" height="14.14" fill="#b2b2b2"/>
<rect x="1682.79" y="289.77" width="14.03" height="14.14" fill="#939393"/>
<rect x="1695.82" y="289.77" width="13.75" height="14.14" fill="#3f3f3f"/>
<rect x="1708.57" y="289.77" width="12.23" height="14.14" fill="#1b1b1b"/>
<rect x="1719.8" y="289.77" width="13.75" height="14.14" fill="#1b1b1b"/>
<rect x="1732.55" y="289.77" width="18.75" height="14.14" fill="#1b1b1b"/>
<rect x="1600.7" y="302.91" width="20.17" height="14.28" fill="#939393"/>
<rect x="1619.87" y="302.91" width="13.47" height="14.28" fill="#cfcfcf"/>
<rect x="1632.34" y="302.91" width="12.5" height="14.28" fill="#c0c0c0"/>
<rect x="1643.84" y="302.91" width="13.75" height="14.28" fill="#505050"/>
<rect x="1656.6" y="302.91" width="13.89" height="14.28" fill="#737373"/>
<rect x="1669.49" y="302.91" width="14.31" height="14.28" fill="#a3a3a3"/>
<rect x="1682.79" y="302.91" width="14.03" height="14.28" fill="#838383"/>
<rect x="1695.82" y="302.91" width="13.75" height="14.28" fill="#3f3f3f"/>
<rect x="1708.57" y="302.91" width="12.23" height="14.28" fill="#1b1b1b"/>
<rect x="1719.8" y="302.91" width="13.75" height="14.28" fill="#090909"/>
<rect x="1732.55" y="302.91" width="18.75" height="14.28" fill="#1b1b1b"/>
<rect x="1600.7" y="316.18" width="20.17" height="14.55" fill="#838383"/>
<rect x="1619.87" y="316.18" width="13.47" height="14.55" fill="#f9f9f9"/>
<rect x="1632.34" y="316.18" width="12.5" height="14.55" fill="#cfcfcf"/>
<rect x="1643.84" y="316.18" width="13.75" height="14.55" fill="#626262"/>
<rect x="1656.6" y="316.18" width="13.89" height="14.55" fill="#737373"/>
<rect x="1669.49" y="316.18" width="14.31" height="14.55" fill="#838383"/>
<rect x="1682.79" y="316.18" width="14.03" height="14.55" fill="#626262"/>
<rect x="1695.82" y="316.18" width="13.75" height="14.55" fill="#2d2d2d"/>
<rect x="1708.57" y="316.18" width="12.23" height="14.55" fill="#1b1b1b"/>
<rect x="1719.8" y="316.18" width="13.75" height="14.55" fill="#1b1b1b"/>
<rect x="1732.55" y="316.18" width="18.75" height="14.55" fill="#1b1b1b"/>
<rect x="1600.7" y="329.74" width="20.17" height="13.45" fill="#505050"/>
<rect x="1619.87" y="329.74" width="13.47" height="13.45" fill="#b2b2b2"/>
<rect x="1632.34" y="329.74" width="12.5" height="13.45" fill="#838383"/>
<rect x="1643.84" y="329.74" width="13.75" height="13.45" fill="#2d2d2d"/>
<rect x="1656.6" y="329.74" width="13.89" height="13.45" fill="#2d2d2d"/>
<rect x="1669.49" y="329.74" width="14.31" height="13.45" fill="#2d2d2d"/>
<rect x="1682.79" y="329.74" width="14.03" height="13.45" fill="#2d2d2d"/>
<rect x="1695.82" y="329.74" width="13.75" height="13.45" fill="#2d2d2d"/>
<rect x="1708.57" y="329.74" width="12.23" height="13.45" fill="#2d2d2d"/>
<rect x="1719.8" y="329.74" width="13.75" height="13.45" fill="#3f3f3f"/>
<rect x="1732.55" y="329.74" width="18.75" height="13.45" fill="#3f3f3f"/>
<rect x="1600.7" y="342.18" width="20.17" height="12.34" fill="#1b1b1b"/>
<rect x="1619.87" y="342.18" width="13.47" height="12.34" fill="#2d2d2d"/>
<rect x="1632.34" y="342.18" width="12.5" height="12.34" fill="#2d2d2d"/>
<rect x="1643.84" y="342.18" width="13.75" height="12.34" fill="#2d2d2d"/>
<rect x="1656.6" y="342.18" width="13.89" height="12.34" fill="#2d2d2d"/>
<rect x="1669.49" y="342.18" width="14.31" height="12.34" fill="#2d2d2d"/>
<rect x="1682.79" y="342.18" width="14.03" height="12.34" fill="#2d2d2d"/>
<rect x="1695.82" y="342.18" width="13.75" height="12.34" fill="#505050"/>
<rect x="1708.57" y="342.18" width="12.23" height="12.34" fill="#626262"/>
<rect x="1719.8" y="342.18" width="13.75" height="12.34" fill="#505050"/>
<rect x="1732.55" y="342.18" width="18.75" height="12.34" fill="#505050"/>
<rect x="1600.7" y="353.53" width="20.17" height="13.59" fill="#1b1b1b"/>
<rect x="1619.87" y="353.53" width="13.47" height="13.59" fill="#1b1b1b"/>
<rect x="1632.34" y="353.53" width="12.5" height="13.59" fill="#1b1b1b"/>
<rect x="1643.84" y="353.53" width="13.75" height="13.59" fill="#1b1b1b"/>
<rect x="1656.6" y="353.53" width="13.89" height="13.59" fill="#1b1b1b"/>
<rect x="1669.49" y="353.53" width="14.31" height="13.59" fill="#1b1b1b"/>
<rect x="1682.79" y="353.53" width="14.03" height="13.59" fill="#838383"/>
<rect x="1695.82" y="353.53" width="13.75" height="13.59" fill="#c0c0c0"/>
<rect x="1708.57" y="353.53" width="12.23" height="13.59" fill="#737373"/>
<rect x="1719.8" y="353.53" width="13.75" height="13.59" fill="#3f3f3f"/>
<rect x="1732.55" y="353.53" width="18.75" height="13.59" fill="#3f3f3f"/>
<rect x="1600.7" y="366.11" width="20.17" height="21.49" fill="#1b1b1b"/>
<rect x="1619.87" y="366.11" width="13.47" height="21.49" fill="#1b1b1b"/>
<rect x="1632.34" y="366.11" width="12.5" height="21.49" fill="#090909"/>
<rect x="1643.84" y="366.11" width="13.75" height="21.49" fill="#1b1b1b"/>
<rect x="1656.6" y="366.11" width="13.89" height="21.49" fill="#1b1b1b"/>
<rect x="1669.49" y="366.11" width="14.31" height="21.49" fill="#1b1b1b"/>
<rect x="1682.79" y="366.11" width="14.03" height="21.49" fill="#3f3f3f"/>
<rect x="1695.82" y="366.11" width="13.75" height="21.49" fill="#737373"/>
<rect x="1708.57" y="366.11" width="12.23" height="21.49" fill="#3f3f3f"/>
<rect x="1719.8" y="366.11" width="13.75" height="21.49" fill="#1b1b1b"/>
<rect x="1732.55" y="366.11" width="18.75" height="21.49" fill="#1b1b1b"/>
<rect x="1606.7" y="243.3" width="138.6" height="138.3" fill="none" stroke="#000" stroke-width="7"/>
</g>
<ellipse cx="1674.8" cy="311.4" rx="37.4" ry="35.2" fill="none" stroke="#ee1018" stroke-width="3.3" filter="url(#bl2)"/>
</g>
<rect x="1607.9" y="244.5" width="136.2" height="135.9" fill="none" stroke="#000" stroke-width="2.4" filter="url(#bl2)"/>
<clipPath id="c8"><rect x="1116.7" y="414.3" width="139.6" height="139.9"/></clipPath>
<g clip-path="url(#c8)"><g filter="url(#bl3)">
<rect x="1110.7" y="408.3" width="20.26" height="17.21" fill="#626262"/>
<rect x="1129.96" y="408.3" width="13.56" height="17.21" fill="#626262"/>
<rect x="1142.53" y="408.3" width="12.59" height="17.21" fill="#626262"/>
<rect x="1154.11" y="408.3" width="13.84" height="17.21" fill="#626262"/>
<rect x="1166.96" y="408.3" width="13.98" height="17.21" fill="#a3a3a3"/>
<rect x="1179.94" y="408.3" width="14.4" height="17.21" fill="#dddddd"/>
<rect x="1193.34" y="408.3" width="14.12" height="17.21" fill="#f9f9f9"/>
<rect x="1206.46" y="408.3" width="13.84" height="17.21" fill="#c0c0c0"/>
<rect x="1219.31" y="408.3" width="12.31" height="17.21" fill="#737373"/>
<rect x="1230.61" y="408.3" width="13.84" height="17.21" fill="#505050"/>
<rect x="1243.46" y="408.3" width="18.84" height="17.21" fill="#626262"/>
<rect x="1110.7" y="424.51" width="20.26" height="13.45" fill="#626262"/>
<rect x="1129.96" y="424.51" width="13.56" height="13.45" fill="#626262"/>
<rect x="1142.53" y="424.51" width="12.59" height="13.45" fill="#505050"/>
<rect x="1154.11" y="424.51" width="13.84" height="13.45" fill="#505050"/>
<rect x="1166.96" y="424.51" width="13.98" height="13.45" fill="#505050"/>
<rect x="1179.94" y="424.51" width="14.4" height="13.45" fill="#c0c0c0"/>
<rect x="1193.34" y="424.51" width="14.12" height="13.45" fill="#ebebeb"/>
<rect x="1206.46" y="424.51" width="13.84" height="13.45" fill="#dddddd"/>
<rect x="1219.31" y="424.51" width="12.31" height="13.45" fill="#838383"/>
<rect x="1230.61" y="424.51" width="13.84" height="13.45" fill="#626262"/>
<rect x="1243.46" y="424.51" width="18.84" height="13.45" fill="#626262"/>
<rect x="1110.7" y="436.96" width="20.26" height="12.47" fill="#626262"/>
<rect x="1129.96" y="436.96" width="13.56" height="12.47" fill="#3f3f3f"/>
<rect x="1142.53" y="436.96" width="12.59" height="12.47" fill="#505050"/>
<rect x="1154.11" y="436.96" width="13.84" height="12.47" fill="#626262"/>
<rect x="1166.96" y="436.96" width="13.98" height="12.47" fill="#626262"/>
<rect x="1179.94" y="436.96" width="14.4" height="12.47" fill="#939393"/>
<rect x="1193.34" y="436.96" width="14.12" height="12.47" fill="#f9f9f9"/>
<rect x="1206.46" y="436.96" width="13.84" height="12.47" fill="#f9f9f9"/>
<rect x="1219.31" y="436.96" width="12.31" height="12.47" fill="#a3a3a3"/>
<rect x="1230.61" y="436.96" width="13.84" height="12.47" fill="#3f3f3f"/>
<rect x="1243.46" y="436.96" width="18.84" height="12.47" fill="#3f3f3f"/>
<rect x="1110.7" y="448.44" width="20.26" height="13.87" fill="#626262"/>
<rect x="1129.96" y="448.44" width="13.56" height="13.87" fill="#626262"/>
<rect x="1142.53" y="448.44" width="12.59" height="13.87" fill="#c0c0c0"/>
<rect x="1154.11" y="448.44" width="13.84" height="13.87" fill="#b2b2b2"/>
<rect x="1166.96" y="448.44" width="13.98" height="13.87" fill="#939393"/>
<rect x="1179.94" y="448.44" width="14.4" height="13.87" fill="#939393"/>
<rect x="1193.34" y="448.44" width="14.12" height="13.87" fill="#b2b2b2"/>
<rect x="1206.46" y="448.44" width="13.84" height="13.87" fill="#a3a3a3"/>
<rect x="1219.31" y="448.44" width="12.31" height="13.87" fill="#626262"/>
<rect x="1230.61" y="448.44" width="13.84" height="13.87" fill="#1b1b1b"/>
<rect x="1243.46" y="448.44" width="18.84" height="13.87" fill="#1b1b1b"/>
<rect x="1110.7" y="461.31" width="20.26" height="14.29" fill="#737373"/>
<rect x="1129.96" y="461.31" width="13.56" height="14.29" fill="#a3a3a3"/>
<rect x="1142.53" y="461.31" width="12.59" height="14.29" fill="#dddddd"/>
<rect x="1154.11" y="461.31" width="13.84" height="14.29" fill="#f9f9f9"/>
<rect x="1166.96" y="461.31" width="13.98" height="14.29" fill="#b2b2b2"/>
<rect x="1179.94" y="461.31" width="14.4" height="14.29" fill="#838383"/>
<rect x="1193.34" y="461.31" width="14.12" height="14.29" fill="#737373"/>
<rect x="1206.46" y="461.31" width="13.84" height="14.29" fill="#626262"/>
<rect x="1219.31" y="461.31" width="12.31" height="14.29" fill="#2d2d2d"/>
<rect x="1230.61" y="461.31" width="13.84" height="14.29" fill="#1b1b1b"/>
<rect x="1243.46" y="461.31" width="18.84" height="14.29" fill="#2d2d2d"/>
<rect x="1110.7" y="474.6" width="20.26" height="14.43" fill="#626262"/>
<rect x="1129.96" y="474.6" width="13.56" height="14.43" fill="#b2b2b2"/>
<rect x="1142.53" y="474.6" width="12.59" height="14.43" fill="#a3a3a3"/>
<rect x="1154.11" y="474.6" width="13.84" height="14.43" fill="#c0c0c0"/>
<rect x="1166.96" y="474.6" width="13.98" height="14.43" fill="#c0c0c0"/>
<rect x="1179.94" y="474.6" width="14.4" height="14.43" fill="#cfcfcf"/>
<rect x="1193.34" y="474.6" width="14.12" height="14.43" fill="#838383"/>
<rect x="1206.46" y="474.6" width="13.84" height="14.43" fill="#505050"/>
<rect x="1219.31" y="474.6" width="12.31" height="14.43" fill="#2d2d2d"/>
<rect x="1230.61" y="474.6" width="13.84" height="14.43" fill="#1b1b1b"/>
<rect x="1243.46" y="474.6" width="18.84" height="14.43" fill="#1b1b1b"/>
<rect x="1110.7" y="488.03" width="20.26" height="14.71" fill="#505050"/>
<rect x="1129.96" y="488.03" width="13.56" height="14.71" fill="#626262"/>
<rect x="1142.53" y="488.03" width="12.59" height="14.71" fill="#626262"/>
<rect x="1154.11" y="488.03" width="13.84" height="14.71" fill="#838383"/>
<rect x="1166.96" y="488.03" width="13.98" height="14.71" fill="#c0c0c0"/>
<rect x="1179.94" y="488.03" width="14.4" height="14.71" fill="#cfcfcf"/>
<rect x="1193.34" y="488.03" width="14.12" height="14.71" fill="#838383"/>
<rect x="1206.46" y="488.03" width="13.84" height="14.71" fill="#3f3f3f"/>
<rect x="1219.31" y="488.03" width="12.31" height="14.71" fill="#1b1b1b"/>
<rect x="1230.61" y="488.03" width="13.84" height="14.71" fill="#1b1b1b"/>
<rect x="1243.46" y="488.03" width="18.84" height="14.71" fill="#1b1b1b"/>
<rect x="1110.7" y="501.74" width="20.26" height="13.59" fill="#505050"/>
<rect x="1129.96" y="501.74" width="13.56" height="13.59" fill="#626262"/>
<rect x="1142.53" y="501.74" width="12.59" height="13.59" fill="#505050"/>
<rect x="1154.11" y="501.74" width="13.84" height="13.59" fill="#505050"/>
<rect x="1166.96" y="501.74" width="13.98" height="13.59" fill="#626262"/>
<rect x="1179.94" y="501.74" width="14.4" height="13.59" fill="#626262"/>
<rect x="1193.34" y="501.74" width="14.12" height="13.59" fill="#3f3f3f"/>
<rect x="1206.46" y="501.74" width="13.84" height="13.59" fill="#2d2d2d"/>
<rect x="1219.31" y="501.74" width="12.31" height="13.59" fill="#1b1b1b"/>
<rect x="1230.61" y="501.74" width="13.84" height="13.59" fill="#090909"/>
<rect x="1243.46" y="501.74" width="18.84" height="13.59" fill="#1b1b1b"/>
<rect x="1110.7" y="514.33" width="20.26" height="12.47" fill="#626262"/>
<rect x="1129.96" y="514.33" width="13.56" height="12.47" fill="#626262"/>
<rect x="1142.53" y="514.33" width="12.59" height="12.47" fill="#505050"/>
<rect x="1154.11" y="514.33" width="13.84" height="12.47" fill="#3f3f3f"/>
<rect x="1166.96" y="514.33" width="13.98" height="12.47" fill="#3f3f3f"/>
<rect x="1179.94" y="514.33" width="14.4" height="12.47" fill="#3f3f3f"/>
<rect x="1193.34" y="514.33" width="14.12" height="12.47" fill="#2d2d2d"/>
<rect x="1206.46" y="514.33" width="13.84" height="12.47" fill="#1b1b1b"/>
<rect x="1219.31" y="514.33" width="12.31" height="12.47" fill="#1b1b1b"/>
<rect x="1230.61" y="514.33" width="13.84" height="12.47" fill="#2d2d2d"/>
<rect x="1243.46" y="514.33" width="18.84" height="12.47" fill="#2d2d2d"/>
<rect x="1110.7" y="525.8" width="20.26" height="13.73" fill="#626262"/>
<rect x="1129.96" y="525.8" width="13.56" height="13.73" fill="#3f3f3f"/>
<rect x="1142.53" y="525.8" width="12.59" height="13.73" fill="#2d2d2d"/>
<rect x="1154.11" y="525.8" width="13.84" height="13.73" fill="#2d2d2d"/>
<rect x="1166.96" y="525.8" width="13.98" height="13.73" fill="#1b1b1b"/>
<rect x="1179.94" y="525.8" width="14.4" height="13.73" fill="#2d2d2d"/>
<rect x="1193.34" y="525.8" width="14.12" height="13.73" fill="#2d2d2d"/>
<rect x="1206.46" y="525.8" width="13.84" height="13.73" fill="#3f3f3f"/>
<rect x="1219.31" y="525.8" width="12.31" height="13.73" fill="#737373"/>
<rect x="1230.61" y="525.8" width="13.84" height="13.73" fill="#939393"/>
<rect x="1243.46" y="525.8" width="18.84" height="13.73" fill="#505050"/>
<rect x="1110.7" y="538.53" width="20.26" height="21.67" fill="#505050"/>
<rect x="1129.96" y="538.53" width="13.56" height="21.67" fill="#2d2d2d"/>
<rect x="1142.53" y="538.53" width="12.59" height="21.67" fill="#2d2d2d"/>
<rect x="1154.11" y="538.53" width="13.84" height="21.67" fill="#2d2d2d"/>
<rect x="1166.96" y="538.53" width="13.98" height="21.67" fill="#2d2d2d"/>
<rect x="1179.94" y="538.53" width="14.4" height="21.67" fill="#3f3f3f"/>
<rect x="1193.34" y="538.53" width="14.12" height="21.67" fill="#3f3f3f"/>
<rect x="1206.46" y="538.53" width="13.84" height="21.67" fill="#737373"/>
<rect x="1219.31" y="538.53" width="12.31" height="21.67" fill="#b2b2b2"/>
<rect x="1230.61" y="538.53" width="13.84" height="21.67" fill="#b2b2b2"/>
<rect x="1243.46" y="538.53" width="18.84" height="21.67" fill="#626262"/>
<rect x="1116.7" y="414.3" width="139.6" height="139.9" fill="none" stroke="#000" stroke-width="7"/>
</g>
<ellipse cx="1185.3" cy="482.7" rx="37.5" ry="37.2" fill="none" stroke="#ee1018" stroke-width="3.3" filter="url(#bl2)"/>
</g>
<rect x="1117.9" y="415.5" width="137.2" height="137.5" fill="none" stroke="#000" stroke-width="2.4" filter="url(#bl2)"/>
<clipPath id="c9"><rect x="1281.6" y="414.3" width="139.3" height="139.9"/></clipPath>
<g clip-path="url(#c9)"><g filter="url(#bl3)">
<rect x="1275.6" y="408.3" width="20.23" height="17.21" fill="#2d2d2d"/>
<rect x="1294.83" y="408.3" width="13.54" height="17.21" fill="#3f3f3f"/>
<rect x="1307.37" y="408.3" width="12.56" height="17.21" fill="#3f3f3f"/>
<rect x="1318.93" y="408.3" width="13.82" height="17.21" fill="#505050"/>
<rect x="1331.75" y="408.3" width="13.95" height="17.21" fill="#626262"/>
<rect x="1344.7" y="408.3" width="14.37" height="17.21" fill="#939393"/>
<rect x="1358.08" y="408.3" width="14.09" height="17.21" fill="#dddddd"/>
<rect x="1371.17" y="408.3" width="13.82" height="17.21" fill="#dddddd"/>
<rect x="1383.99" y="408.3" width="12.28" height="17.21" fill="#838383"/>
<rect x="1395.27" y="408.3" width="13.82" height="17.21" fill="#505050"/>
<rect x="1408.08" y="408.3" width="18.82" height="17.21" fill="#3f3f3f"/>
<rect x="1275.6" y="424.51" width="20.23" height="13.45" fill="#2d2d2d"/>
<rect x="1294.83" y="424.51" width="13.54" height="13.45" fill="#2d2d2d"/>
<rect x="1307.37" y="424.51" width="12.56" height="13.45" fill="#2d2d2d"/>
<rect x="1318.93" y="424.51" width="13.82" height="13.45" fill="#3f3f3f"/>
<rect x="1331.75" y="424.51" width="13.95" height="13.45" fill="#626262"/>
<rect x="1344.7" y="424.51" width="14.37" height="13.45" fill="#a3a3a3"/>
<rect x="1358.08" y="424.51" width="14.09" height="13.45" fill="#dddddd"/>
<rect x="1371.17" y="424.51" width="13.82" height="13.45" fill="#f9f9f9"/>
<rect x="1383.99" y="424.51" width="12.28" height="13.45" fill="#cfcfcf"/>
<rect x="1395.27" y="424.51" width="13.82" height="13.45" fill="#505050"/>
<rect x="1408.08" y="424.51" width="18.82" height="13.45" fill="#3f3f3f"/>
<rect x="1275.6" y="436.96" width="20.23" height="12.47" fill="#3f3f3f"/>
<rect x="1294.83" y="436.96" width="13.54" height="12.47" fill="#3f3f3f"/>
<rect x="1307.37" y="436.96" width="12.56" height="12.47" fill="#737373"/>
<rect x="1318.93" y="436.96" width="13.82" height="12.47" fill="#838383"/>
<rect x="1331.75" y="436.96" width="13.95" height="12.47" fill="#838383"/>
<rect x="1344.7" y="436.96" width="14.37" height="12.47" fill="#939393"/>
<rect x="1358.08" y="436.96" width="14.09" height="12.47" fill="#b2b2b2"/>
<rect x="1371.17" y="436.96" width="13.82" height="12.47" fill="#dddddd"/>
<rect x="1383.99" y="436.96" width="12.28" height="12.47" fill="#b2b2b2"/>
<rect x="1395.27" y="436.96" width="13.82" height="12.47" fill="#3f3f3f"/>
<rect x="1408.08" y="436.96" width="18.82" height="12.47" fill="#2d2d2d"/>
<rect x="1275.6" y="448.44" width="20.23" height="13.87" fill="#626262"/>
<rect x="1294.83" y="448.44" width="13.54" height="13.87" fill="#737373"/>
<rect x="1307.37" y="448.44" width="12.56" height="13.87" fill="#cfcfcf"/>
<rect x="1318.93" y="448.44" width="13.82" height="13.87" fill="#dddddd"/>
<rect x="1331.75" y="448.44" width="13.95" height="13.87" fill="#b2b2b2"/>
<rect x="1344.7" y="448.44" width="14.37" height="13.87" fill="#838383"/>
<rect x="1358.08" y="448.44" width="14.09" height="13.87" fill="#737373"/>
<rect x="1371.17" y="448.44" width="13.82" height="13.87" fill="#626262"/>
<rect x="1383.99" y="448.44" width="12.28" height="13.87" fill="#3f3f3f"/>
<rect x="1395.27" y="448.44" width="13.82" height="13.87" fill="#1b1b1b"/>
<rect x="1408.08" y="448.44" width="18.82" height="13.87" fill="#2d2d2d"/>
<rect x="1275.6" y="461.31" width="20.23" height="14.29" fill="#626262"/>
<rect x="1294.83" y="461.31" width="13.54" height="14.29" fill="#939393"/>
<rect x="1307.37" y="461.31" width="12.56" height="14.29" fill="#cfcfcf"/>
<rect x="1318.93" y="461.31" width="13.82" height="14.29" fill="#dddddd"/>
<rect x="1331.75" y="461.31" width="13.95" height="14.29" fill="#939393"/>
<rect x="1344.7" y="461.31" width="14.37" height="14.29" fill="#737373"/>
<rect x="1358.08" y="461.31" width="14.09" height="14.29" fill="#626262"/>
<rect x="1371.17" y="461.31" width="13.82" height="14.29" fill="#505050"/>
<rect x="1383.99" y="461.31" width="12.28" height="14.29" fill="#1b1b1b"/>
<rect x="1395.27" y="461.31" width="13.82" height="14.29" fill="#1b1b1b"/>
<rect x="1408.08" y="461.31" width="18.82" height="14.29" fill="#1b1b1b"/>
<rect x="1275.6" y="474.6" width="20.23" height="14.43" fill="#505050"/>
<rect x="1294.83" y="474.6" width="13.54" height="14.43" fill="#626262"/>
<rect x="1307.37" y="474.6" width="12.56" height="14.43" fill="#737373"/>
<rect x="1318.93" y="474.6" width="13.82" height="14.43" fill="#737373"/>
<rect x="1331.75" y="474.6" width="13.95" height="14.43" fill="#838383"/>
<rect x="1344.7" y="474.6" width="14.37" height="14.43" fill="#939393"/>
<rect x="1358.08" y="474.6" width="14.09" height="14.43" fill="#838383"/>
<rect x="1371.17" y="474.6" width="13.82" height="14.43" fill="#3f3f3f"/>
<rect x="1383.99" y="474.6" width="12.28" height="14.43" fill="#1b1b1b"/>
<rect x="1395.27" y="474.6" width="13.82" height="14.43" fill="#1b1b1b"/>
<rect x="1408.08" y="474.6" width="18.82" height="14.43" fill="#1b1b1b"/>
<rect x="1275.6" y="488.03" width="20.23" height="14.71" fill="#505050"/>
<rect x="1294.83" y="488.03" width="13.54" height="14.71" fill="#626262"/>
<rect x="1307.37" y="488.03" width="12.56" height="14.71" fill="#626262"/>
<rect x="1318.93" y="488.03" width="13.82" height="14.71" fill="#505050"/>
<rect x="1331.75" y="488.03" width="13.95" height="14.71" fill="#505050"/>
<rect x="1344.7" y="488.03" width="14.37" height="14.71" fill="#737373"/>
<rect x="1358.08" y="488.03" width="14.09" height="14.71" fill="#626262"/>
<rect x="1371.17" y="488.03" width="13.82" height="14.71" fill="#2d2d2d"/>
<rect x="1383.99" y="488.03" width="12.28" height="14.71" fill="#1b1b1b"/>
<rect x="1395.27" y="488.03" width="13.82" height="14.71" fill="#1b1b1b"/>
<rect x="1408.08" y="488.03" width="18.82" height="14.71" fill="#1b1b1b"/>
<rect x="1275.6" y="501.74" width="20.23" height="13.59" fill="#505050"/>
<rect x="1294.83" y="501.74" width="13.54" height="13.59" fill="#626262"/>
<rect x="1307.37" y="501.74" width="12.56" height="13.59" fill="#626262"/>
<rect x="1318.93" y="501.74" width="13.82" height="13.59" fill="#3f3f3f"/>
<rect x="1331.75" y="501.74" width="13.95" height="13.59" fill="#3f3f3f"/>
<rect x="1344.7" y="501.74" width="14.37" height="13.59" fill="#1b1b1b"/>
<rect x="1358.08" y="501.74" width="14.09" height="13.59" fill="#1b1b1b"/>
<rect x="1371.17" y="501.74" width="13.82" height="13.59" fill="#1b1b1b"/>
<rect x="1383.99" y="501.74" width="12.28" height="13.59" fill="#090909"/>
<rect x="1395.27" y="501.74" width="13.82" height="13.59" fill="#1b1b1b"/>
<rect x="1408.08" y="501.74" width="18.82" height="13.59" fill="#1b1b1b"/>
<rect x="1275.6" y="514.33" width="20.23" height="12.47" fill="#939393"/>
<rect x="1294.83" y="514.33" width="13.54" height="12.47" fill="#626262"/>
<rect x="1307.37" y="514.33" width="12.56" height="12.47" fill="#505050"/>
<rect x="1318.93" y="514.33" width="13.82" height="12.47" fill="#2d2d2d"/>
<rect x="1331.75" y="514.33" width="13.95" height="12.47" fill="#2d2d2d"/>
<rect x="1344.7" y="514.33" width="14.37" height="12.47" fill="#1b1b1b"/>
<rect x="1358.08" y="514.33" width="14.09" height="12.47" fill="#1b1b1b"/>
<rect x="1371.17" y="514.33" width="13.82" height="12.47" fill="#1b1b1b"/>
<rect x="1383.99" y="514.33" width="12.28" height="12.47" fill="#3f3f3f"/>
<rect x="1395.27" y="514.33" width="13.82" height="12.47" fill="#626262"/>
<rect x="1408.08" y="514.33" width="18.82" height="12.47" fill="#3f3f3f"/>
<rect x="1275.6" y="525.8" width="20.23" height="13.73" fill="#838383"/>
<rect x="1294.83" y="525.8" width="13.54" height="13.73" fill="#3f3f3f"/>
<rect x="1307.37" y="525.8" width="12.56" height="13.73" fill="#3f3f3f"/>
<rect x="1318.93" y="525.8" width="13.82" height="13.73" fill="#1b1b1b"/>
<rect x="1331.75" y="525.8" width="13.95" height="13.73" fill="#1b1b1b"/>
<rect x="1344.7" y="525.8" width="14.37" height="13.73" fill="#2d2d2d"/>
<rect x="1358.08" y="525.8" width="14.09" height="13.73" fill="#2d2d2d"/>
<rect x="1371.17" y="525.8" width="13.82" height="13.73" fill="#626262"/>
<rect x="1383.99" y="525.8" width="12.28" height="13.73" fill="#b2b2b2"/>
<rect x="1395.27" y="525.8" width="13.82" height="13.73" fill="#cfcfcf"/>
<rect x="1408.08" y="525.8" width="18.82" height="13.73" fill="#737373"/>
<rect x="1275.6" y="538.53" width="20.23" height="21.67" fill="#3f3f3f"/>
<rect x="1294.83" y="538.53" width="13.54" height="21.67" fill="#2d2d2d"/>
<rect x="1307.37" y="538.53" width="12.56" height="21.67" fill="#2d2d2d"/>
<rect x="1318.93" y="538.53" width="13.82" height="21.67" fill="#1b1b1b"/>
<rect x="1331.75" y="538.53" width="13.95" height="21.67" fill="#1b1b1b"/>
<rect x="1344.7" y="538.53" width="14.37" height="21.67" fill="#1b1b1b"/>
<rect x="1358.08" y="538.53" width="14.09" height="21.67" fill="#3f3f3f"/>
<rect x="1371.17" y="538.53" width="13.82" height="21.67" fill="#737373"/>
<rect x="1383.99" y="538.53" width="12.28" height="21.67" fill="#a3a3a3"/>
<rect x="1395.27" y="538.53" width="13.82" height="21.67" fill="#c0c0c0"/>
<rect x="1408.08" y="538.53" width="18.82" height="21.67" fill="#737373"/>
<rect x="1281.6" y="414.3" width="139.3" height="139.9" fill="none" stroke="#000" stroke-width="7"/>
</g>
<ellipse cx="1349.3" cy="482.7" rx="35.2" ry="37.2" fill="none" stroke="#ee1018" stroke-width="3.3" filter="url(#bl2)"/>
</g>
<rect x="1282.8" y="415.5" width="136.9" height="137.5" fill="none" stroke="#000" stroke-width="2.4" filter="url(#bl2)"/>
<clipPath id="c10"><rect x="1443.3" y="414.3" width="141.2" height="139.9"/></clipPath>
<g clip-path="url(#c10)"><g filter="url(#bl3)">
<rect x="1437.3" y="408.3" width="20.41" height="17.21" fill="#505050"/>
<rect x="1456.71" y="408.3" width="13.71" height="17.21" fill="#626262"/>
<rect x="1469.42" y="408.3" width="12.72" height="17.21" fill="#626262"/>
<rect x="1481.14" y="408.3" width="13.99" height="17.21" fill="#626262"/>
<rect x="1494.13" y="408.3" width="14.13" height="17.21" fill="#626262"/>
<rect x="1507.26" y="408.3" width="14.56" height="17.21" fill="#838383"/>
<rect x="1520.82" y="408.3" width="14.27" height="17.21" fill="#cfcfcf"/>
<rect x="1534.09" y="408.3" width="13.99" height="17.21" fill="#f9f9f9"/>
<rect x="1547.08" y="408.3" width="12.44" height="17.21" fill="#a3a3a3"/>
<rect x="1558.52" y="408.3" width="13.99" height="17.21" fill="#505050"/>
<rect x="1571.51" y="408.3" width="18.99" height="17.21" fill="#505050"/>
<rect x="1437.3" y="424.51" width="20.41" height="13.45" fill="#626262"/>
<rect x="1456.71" y="424.51" width="13.71" height="13.45" fill="#3f3f3f"/>
<rect x="1469.42" y="424.51" width="12.72" height="13.45" fill="#3f3f3f"/>
<rect x="1481.14" y="424.51" width="13.99" height="13.45" fill="#3f3f3f"/>
<rect x="1494.13" y="424.51" width="14.13" height="13.45" fill="#505050"/>
<rect x="1507.26" y="424.51" width="14.56" height="13.45" fill="#838383"/>
<rect x="1520.82" y="424.51" width="14.27" height="13.45" fill="#dddddd"/>
<rect x="1534.09" y="424.51" width="13.99" height="13.45" fill="#f9f9f9"/>
<rect x="1547.08" y="424.51" width="12.44" height="13.45" fill="#cfcfcf"/>
<rect x="1558.52" y="424.51" width="13.99" height="13.45" fill="#626262"/>
<rect x="1571.51" y="424.51" width="18.99" height="13.45" fill="#3f3f3f"/>
<rect x="1437.3" y="436.96" width="20.41" height="12.47" fill="#737373"/>
<rect x="1456.71" y="436.96" width="13.71" height="12.47" fill="#505050"/>
<rect x="1469.42" y="436.96" width="12.72" height="12.47" fill="#838383"/>
<rect x="1481.14" y="436.96" width="13.99" height="12.47" fill="#a3a3a3"/>
<rect x="1494.13" y="436.96" width="14.13" height="12.47" fill="#939393"/>
<rect x="1507.26" y="436.96" width="14.56" height="12.47" fill="#939393"/>
<rect x="1520.82" y="436.96" width="14.27" height="12.47" fill="#b2b2b2"/>
<rect x="1534.09" y="436.96" width="13.99" height="12.47" fill="#cfcfcf"/>
<rect x="1547.08" y="436.96" width="12.44" height="12.47" fill="#939393"/>
<rect x="1558.52" y="436.96" width="13.99" height="12.47" fill="#3f3f3f"/>
<rect x="1571.51" y="436.96" width="18.99" height="12.47" fill="#2d2d2d"/>
<rect x="1437.3" y="448.44" width="20.41" height="13.87" fill="#737373"/>
<rect x="1456.71" y="448.44" width="13.71" height="13.87" fill="#838383"/>
<rect x="1469.42" y="448.44" width="12.72" height="13.87" fill="#dddddd"/>
<rect x="1481.14" y="448.44" width="13.99" height="13.87" fill="#ebebeb"/>
<rect x="1494.13" y="448.44" width="14.13" height="13.87" fill="#cfcfcf"/>
<rect x="1507.26" y="448.44" width="14.56" height="13.87" fill="#939393"/>
<rect x="1520.82" y="448.44" width="14.27" height="13.87" fill="#838383"/>
<rect x="1534.09" y="448.44" width="13.99" height="13.87" fill="#626262"/>
<rect x="1547.08" y="448.44" width="12.44" height="13.87" fill="#3f3f3f"/>
<rect x="1558.52" y="448.44" width="13.99" height="13.87" fill="#2d2d2d"/>
<rect x="1571.51" y="448.44" width="18.99" height="13.87" fill="#2d2d2d"/>
<rect x="1437.3" y="461.31" width="20.41" height="14.29" fill="#626262"/>
<rect x="1456.71" y="461.31" width="13.71" height="14.29" fill="#a3a3a3"/>
<rect x="1469.42" y="461.31" width="12.72" height="14.29" fill="#c0c0c0"/>
<rect x="1481.14" y="461.31" width="13.99" height="14.29" fill="#cfcfcf"/>
<rect x="1494.13" y="461.31" width="14.13" height="14.29" fill="#c0c0c0"/>
<rect x="1507.26" y="461.31" width="14.56" height="14.29" fill="#b2b2b2"/>
<rect x="1520.82" y="461.31" width="14.27" height="14.29" fill="#939393"/>
<rect x="1534.09" y="461.31" width="13.99" height="14.29" fill="#505050"/>
<rect x="1547.08" y="461.31" width="12.44" height="14.29" fill="#2d2d2d"/>
<rect x="1558.52" y="461.31" width="13.99" height="14.29" fill="#1b1b1b"/>
<rect x="1571.51" y="461.31" width="18.99" height="14.29" fill="#1b1b1b"/>
<rect x="1437.3" y="474.6" width="20.41" height="14.43" fill="#626262"/>
<rect x="1456.71" y="474.6" width="13.71" height="14.43" fill="#626262"/>
<rect x="1469.42" y="474.6" width="12.72" height="14.43" fill="#626262"/>
<rect x="1481.14" y="474.6" width="13.99" height="14.43" fill="#939393"/>
<rect x="1494.13" y="474.6" width="14.13" height="14.43" fill="#b2b2b2"/>
<rect x="1507.26" y="474.6" width="14.56" height="14.43" fill="#cfcfcf"/>
<rect x="1520.82" y="474.6" width="14.27" height="14.43" fill="#b2b2b2"/>
<rect x="1534.09" y="474.6" width="13.99" height="14.43" fill="#626262"/>
<rect x="1547.08" y="474.6" width="12.44" height="14.43" fill="#2d2d2d"/>
<rect x="1558.52" y="474.6" width="13.99" height="14.43" fill="#1b1b1b"/>
<rect x="1571.51" y="474.6" width="18.99" height="14.43" fill="#1b1b1b"/>
<rect x="1437.3" y="488.03" width="20.41" height="14.71" fill="#505050"/>
<rect x="1456.71" y="488.03" width="13.71" height="14.71" fill="#838383"/>
<rect x="1469.42" y="488.03" width="12.72" height="14.71" fill="#737373"/>
<rect x="1481.14" y="488.03" width="13.99" height="14.71" fill="#626262"/>
<rect x="1494.13" y="488.03" width="14.13" height="14.71" fill="#737373"/>
<rect x="1507.26" y="488.03" width="14.56" height="14.71" fill="#737373"/>
<rect x="1520.82" y="488.03" width="14.27" height="14.71" fill="#626262"/>
<rect x="1534.09" y="488.03" width="13.99" height="14.71" fill="#3f3f3f"/>
<rect x="1547.08" y="488.03" width="12.44" height="14.71" fill="#1b1b1b"/>
<rect x="1558.52" y="488.03" width="13.99" height="14.71" fill="#1b1b1b"/>
<rect x="1571.51" y="488.03" width="18.99" height="14.71" fill="#1b1b1b"/>
<rect x="1437.3" y="501.74" width="20.41" height="13.59" fill="#737373"/>
<rect x="1456.71" y="501.74" width="13.71" height="13.59" fill="#626262"/>
<rect x="1469.42" y="501.74" width="12.72" height="13.59" fill="#505050"/>
<rect x="1481.14" y="501.74" width="13.99" height="13.59" fill="#3f3f3f"/>
<rect x="1494.13" y="501.74" width="14.13" height="13.59" fill="#2d2d2d"/>
<rect x="1507.26" y="501.74" width="14.56" height="13.59" fill="#1b1b1b"/>
<rect x="1520.82" y="501.74" width="14.27" height="13.59" fill="#1b1b1b"/>
<rect x="1534.09" y="501.74" width="13.99" height="13.59" fill="#1b1b1b"/>
<rect x="1547.08" y="501.74" width="12.44" height="13.59" fill="#1b1b1b"/>
<rect x="1558.52" y="501.74" width="13.99" height="13.59" fill="#1b1b1b"/>
<rect x="1571.51" y="501.74" width="18.99" height="13.59" fill="#2d2d2d"/>
<rect x="1437.3" y="514.33" width="20.41" height="12.47" fill="#939393"/>
<rect x="1456.71" y="514.33" width="13.71" height="12.47" fill="#626262"/>
<rect x="1469.42" y="514.33" width="12.72" height="12.47" fill="#505050"/>
<rect x="1481.14" y="514.33" width="13.99" height="12.47" fill="#3f3f3f"/>
<rect x="1494.13" y="514.33" width="14.13" height="12.47" fill="#1b1b1b"/>
<rect x="1507.26" y="514.33" width="14.56" height="12.47" fill="#1b1b1b"/>
<rect x="1520.82" y="514.33" width="14.27" height="12.47" fill="#2d2d2d"/>
<rect x="1534.09" y="514.33" width="13.99" height="12.47" fill="#2d2d2d"/>
<rect x="1547.08" y="514.33" width="12.44" height="12.47" fill="#3f3f3f"/>
<rect x="1558.52" y="514.33" width="13.99" height="12.47" fill="#626262"/>
<rect x="1571.51" y="514.33" width="18.99" height="12.47" fill="#505050"/>
<rect x="1437.3" y="525.8" width="20.41" height="13.73" fill="#838383"/>
<rect x="1456.71" y="525.8" width="13.71" height="13.73" fill="#3f3f3f"/>
<rect x="1469.42" y="525.8" width="12.72" height="13.73" fill="#2d2d2d"/>
<rect x="1481.14" y="525.8" width="13.99" height="13.73" fill="#1b1b1b"/>
<rect x="1494.13" y="525.8" width="14.13" height="13.73" fill="#1b1b1b"/>
<rect x="1507.26" y="525.8" width="14.56" height="13.73" fill="#1b1b1b"/>
<rect x="1520.82" y="525.8" width="14.27" height="13.73" fill="#2d2d2d"/>
<rect x="1534.09" y="525.8" width="13.99" height="13.73" fill="#505050"/>
<rect x="1547.08" y="525.8" width="12.44" height="13.73" fill="#b2b2b2"/>
<rect x="1558.52" y="525.8" width="13.99" height="13.73" fill="#cfcfcf"/>
<rect x="1571.51" y="525.8" width="18.99" height="13.73" fill="#939393"/>
<rect x="1437.3" y="538.53" width="20.41" height="21.67" fill="#2d2d2d"/>
<rect x="1456.71" y="538.53" width="13.71" height="21.67" fill="#2d2d2d"/>
<rect x="1469.42" y="538.53" width="12.72" height="21.67" fill="#2d2d2d"/>
<rect x="1481.14" y="538.53" width="13.99" height="21.67" fill="#1b1b1b"/>
<rect x="1494.13" y="538.53" width="14.13" height="21.67" fill="#1b1b1b"/>
<rect x="1507.26" y="538.53" width="14.56" height="21.67" fill="#1b1b1b"/>
<rect x="1520.82" y="538.53" width="14.27" height="21.67" fill="#2d2d2d"/>
<rect x="1534.09" y="538.53" width="13.99" height="21.67" fill="#626262"/>
<rect x="1547.08" y="538.53" width="12.44" height="21.67" fill="#939393"/>
<rect x="1558.52" y="538.53" width="13.99" height="21.67" fill="#b2b2b2"/>
<rect x="1571.51" y="538.53" width="18.99" height="21.67" fill="#838383"/>
<rect x="1443.3" y="414.3" width="141.2" height="139.9" fill="none" stroke="#000" stroke-width="7"/>
</g>
<ellipse cx="1514.2" cy="482.7" rx="37.7" ry="37.2" fill="none" stroke="#ee1018" stroke-width="3.3" filter="url(#bl2)"/>
</g>
<rect x="1444.5" y="415.5" width="138.8" height="137.5" fill="none" stroke="#000" stroke-width="2.4" filter="url(#bl2)"/>
<clipPath id="c11"><rect x="1607.6" y="414.3" width="139.5" height="139.9"/></clipPath>
<g clip-path="url(#c11)"><g filter="url(#bl3)">
<rect x="1601.6" y="408.3" width="20.25" height="17.21" fill="#2d2d2d"/>
<rect x="1620.85" y="408.3" width="13.55" height="17.21" fill="#3f3f3f"/>
<rect x="1633.41" y="408.3" width="12.58" height="17.21" fill="#3f3f3f"/>
<rect x="1644.99" y="408.3" width="13.83" height="17.21" fill="#3f3f3f"/>
<rect x="1657.82" y="408.3" width="13.97" height="17.21" fill="#838383"/>
<rect x="1670.79" y="408.3" width="14.39" height="17.21" fill="#a3a3a3"/>
<rect x="1684.19" y="408.3" width="14.11" height="17.21" fill="#dddddd"/>
<rect x="1697.3" y="408.3" width="13.83" height="17.21" fill="#dddddd"/>
<rect x="1710.13" y="408.3" width="12.3" height="17.21" fill="#939393"/>
<rect x="1721.43" y="408.3" width="13.83" height="17.21" fill="#505050"/>
<rect x="1734.27" y="408.3" width="18.83" height="17.21" fill="#3f3f3f"/>
<rect x="1601.6" y="424.51" width="20.25" height="13.45" fill="#2d2d2d"/>
<rect x="1620.85" y="424.51" width="13.55" height="13.45" fill="#2d2d2d"/>
<rect x="1633.41" y="424.51" width="12.58" height="13.45" fill="#2d2d2d"/>
<rect x="1644.99" y="424.51" width="13.83" height="13.45" fill="#3f3f3f"/>
<rect x="1657.82" y="424.51" width="13.97" height="13.45" fill="#505050"/>
<rect x="1670.79" y="424.51" width="14.39" height="13.45" fill="#838383"/>
<rect x="1684.19" y="424.51" width="14.11" height="13.45" fill="#c0c0c0"/>
<rect x="1697.3" y="424.51" width="13.83" height="13.45" fill="#ebebeb"/>
<rect x="1710.13" y="424.51" width="12.3" height="13.45" fill="#c0c0c0"/>
<rect x="1721.43" y="424.51" width="13.83" height="13.45" fill="#626262"/>
<rect x="1734.27" y="424.51" width="18.83" height="13.45" fill="#3f3f3f"/>
<rect x="1601.6" y="436.96" width="20.25" height="12.47" fill="#3f3f3f"/>
<rect x="1620.85" y="436.96" width="13.55" height="12.47" fill="#2d2d2d"/>
<rect x="1633.41" y="436.96" width="12.58" height="12.47" fill="#3f3f3f"/>
<rect x="1644.99" y="436.96" width="13.83" height="12.47" fill="#505050"/>
<rect x="1657.82" y="436.96" width="13.97" height="12.47" fill="#626262"/>
<rect x="1670.79" y="436.96" width="14.39" height="12.47" fill="#838383"/>
<rect x="1684.19" y="436.96" width="14.11" height="12.47" fill="#cfcfcf"/>
<rect x="1697.3" y="436.96" width="13.83" height="12.47" fill="#ebebeb"/>
<rect x="1710.13" y="436.96" width="12.3" height="12.47" fill="#cfcfcf"/>
<rect x="1721.43" y="436.96" width="13.83" height="12.47" fill="#505050"/>
<rect x="1734.27" y="436.96" width="18.83" height="12.47" fill="#2d2d2d"/>
<rect x="1601.6" y="448.44" width="20.25" height="13.87" fill="#626262"/>
<rect x="1620.85" y="448.44" width="13.55" height="13.87" fill="#505050"/>
<rect x="1633.41" y="448.44" width="12.58" height="13.87" fill="#838383"/>
<rect x="1644.99" y="448.44" width="13.83" height="13.87" fill="#a3a3a3"/>
<rect x="1657.82" y="448.44" width="13.97" height="13.87" fill="#939393"/>
<rect x="1670.79" y="448.44" width="14.39" height="13.87" fill="#939393"/>
<rect x="1684.19" y="448.44" width="14.11" height="13.87" fill="#939393"/>
<rect x="1697.3" y="448.44" width="13.83" height="13.87" fill="#939393"/>
<rect x="1710.13" y="448.44" width="12.3" height="13.87" fill="#737373"/>
<rect x="1721.43" y="448.44" width="13.83" height="13.87" fill="#3f3f3f"/>
<rect x="1734.27" y="448.44" width="18.83" height="13.87" fill="#1b1b1b"/>
<rect x="1601.6" y="461.31" width="20.25" height="14.29" fill="#626262"/>
<rect x="1620.85" y="461.31" width="13.55" height="14.29" fill="#737373"/>
<rect x="1633.41" y="461.31" width="12.58" height="14.29" fill="#cfcfcf"/>
<rect x="1644.99" y="461.31" width="13.83" height="14.29" fill="#ebebeb"/>
<rect x="1657.82" y="461.31" width="13.97" height="14.29" fill="#cfcfcf"/>
<rect x="1670.79" y="461.31" width="14.39" height="14.29" fill="#838383"/>
<rect x="1684.19" y="461.31" width="14.11" height="14.29" fill="#737373"/>
<rect x="1697.3" y="461.31" width="13.83" height="14.29" fill="#626262"/>
<rect x="1710.13" y="461.31" width="12.3" height="14.29" fill="#2d2d2d"/>
<rect x="1721.43" y="461.31" width="13.83" height="14.29" fill="#1b1b1b"/>
<rect x="1734.27" y="461.31" width="18.83" height="14.29" fill="#1b1b1b"/>
<rect x="1601.6" y="474.6" width="20.25" height="14.43" fill="#505050"/>
<rect x="1620.85" y="474.6" width="13.55" height="14.43" fill="#737373"/>
<rect x="1633.41" y="474.6" width="12.58" height="14.43" fill="#737373"/>
<rect x="1644.99" y="474.6" width="13.83" height="14.43" fill="#939393"/>
<rect x="1657.82" y="474.6" width="13.97" height="14.43" fill="#838383"/>
<rect x="1670.79" y="474.6" width="14.39" height="14.43" fill="#838383"/>
<rect x="1684.19" y="474.6" width="14.11" height="14.43" fill="#838383"/>
<rect x="1697.3" y="474.6" width="13.83" height="14.43" fill="#626262"/>
<rect x="1710.13" y="474.6" width="12.3" height="14.43" fill="#2d2d2d"/>
<rect x="1721.43" y="474.6" width="13.83" height="14.43" fill="#1b1b1b"/>
<rect x="1734.27" y="474.6" width="18.83" height="14.43" fill="#1b1b1b"/>
<rect x="1601.6" y="488.03" width="20.25" height="14.71" fill="#505050"/>
<rect x="1620.85" y="488.03" width="13.55" height="14.71" fill="#626262"/>
<rect x="1633.41" y="488.03" width="12.58" height="14.71" fill="#626262"/>
<rect x="1644.99" y="488.03" width="13.83" height="14.71" fill="#626262"/>
<rect x="1657.82" y="488.03" width="13.97" height="14.71" fill="#737373"/>
<rect x="1670.79" y="488.03" width="14.39" height="14.71" fill="#838383"/>
<rect x="1684.19" y="488.03" width="14.11" height="14.71" fill="#838383"/>
<rect x="1697.3" y="488.03" width="13.83" height="14.71" fill="#505050"/>
<rect x="1710.13" y="488.03" width="12.3" height="14.71" fill="#1b1b1b"/>
<rect x="1721.43" y="488.03" width="13.83" height="14.71" fill="#1b1b1b"/>
<rect x="1734.27" y="488.03" width="18.83" height="14.71" fill="#1b1b1b"/>
<rect x="1601.6" y="501.74" width="20.25" height="13.59" fill="#505050"/>
<rect x="1620.85" y="501.74" width="13.55" height="13.59" fill="#626262"/>
<rect x="1633.41" y="501.74" width="12.58" height="13.59" fill="#626262"/>
<rect x="1644.99" y="501.74" width="13.83" height="13.59" fill="#3f3f3f"/>
<rect x="1657.82" y="501.74" width="13.97" height="13.59" fill="#3f3f3f"/>
<rect x="1670.79" y="501.74" width="14.39" height="13.59" fill="#2d2d2d"/>
<rect x="1684.19" y="501.74" width="14.11" height="13.59" fill="#2d2d2d"/>
<rect x="1697.3" y="501.74" width="13.83" height="13.59" fill="#1b1b1b"/>
<rect x="1710.13" y="501.74" width="12.3" height="13.59" fill="#1b1b1b"/>
<rect x="1721.43" y="501.74" width="13.83" height="13.59" fill="#1b1b1b"/>
<rect x="1734.27" y="501.74" width="18.83" height="13.59" fill="#1b1b1b"/>
<rect x="1601.6" y="514.33" width="20.25" height="12.47" fill="#737373"/>
<rect x="1620.85" y="514.33" width="13.55" height="12.47" fill="#626262"/>
<rect x="1633.41" y="514.33" width="12.58" height="12.47" fill="#505050"/>
<rect x="1644.99" y="514.33" width="13.83" height="12.47" fill="#2d2d2d"/>
<rect x="1657.82" y="514.33" width="13.97" height="12.47" fill="#2d2d2d"/>
<rect x="1670.79" y="514.33" width="14.39" height="12.47" fill="#1b1b1b"/>
<rect x="1684.19" y="514.33" width="14.11" height="12.47" fill="#1b1b1b"/>
<rect x="1697.3" y="514.33" width="13.83" height="12.47" fill="#1b1b1b"/>
<rect x="1710.13" y="514.33" width="12.3" height="12.47" fill="#1b1b1b"/>
<rect x="1721.43" y="514.33" width="13.83" height="12.47" fill="#3f3f3f"/>
<rect x="1734.27" y="514.33" width="18.83" height="12.47" fill="#3f3f3f"/>
<rect x="1601.6" y="525.8" width="20.25" height="13.73" fill="#939393"/>
<rect x="1620.85" y="525.8" width="13.55" height="13.73" fill="#3f3f3f"/>
<rect x="1633.41" y="525.8" width="12.58" height="13.73" fill="#2d2d2d"/>
<rect x="1644.99" y="525.8" width="13.83" height="13.73" fill="#1b1b1b"/>
<rect x="1657.82" y="525.8" width="13.97" height="13.73" fill="#1b1b1b"/>
<rect x="1670.79" y="525.8" width="14.39" height="13.73" fill="#1b1b1b"/>
<rect x="1684.19" y="525.8" width="14.11" height="13.73" fill="#1b1b1b"/>
<rect x="1697.3" y="525.8" width="13.83" height="13.73" fill="#2d2d2d"/>
<rect x="1710.13" y="525.8" width="12.3" height="13.73" fill="#626262"/>
<rect x="1721.43" y="525.8" width="13.83" height="13.73" fill="#939393"/>
<rect x="1734.27" y="525.8" width="18.83" height="13.73" fill="#737373"/>
<rect x="1601.6" y="538.53" width="20.25" height="21.67" fill="#626262"/>
<rect x="1620.85" y="538.53" width="13.55" height="21.67" fill="#2d2d2d"/>
<rect x="1633.41" y="538.53" width="12.58" height="21.67" fill="#2d2d2d"/>
<rect x="1644.99" y="538.53" width="13.83" height="21.67" fill="#1b1b1b"/>
<rect x="1657.82" y="538.53" width="13.97" height="21.67" fill="#1b1b1b"/>
<rect x="1670.79" y="538.53" width="14.39" height="21.67" fill="#1b1b1b"/>
<rect x="1684.19" y="538.53" width="14.11" height="21.67" fill="#1b1b1b"/>
<rect x="1697.3" y="538.53" width="13.83" height="21.67" fill="#737373"/>
<rect x="1710.13" y="538.53" width="12.3" height="21.67" fill="#c0c0c0"/>
<rect x="1721.43" y="538.53" width="13.83" height="21.67" fill="#dddddd"/>
<rect x="1734.27" y="538.53" width="18.83" height="21.67" fill="#939393"/>
<rect x="1607.6" y="414.3" width="139.5" height="139.9" fill="none" stroke="#000" stroke-width="7"/>
</g>
<ellipse cx="1675.7" cy="482.7" rx="37.2" ry="37.2" fill="none" stroke="#ee1018" stroke-width="3.3" filter="url(#bl2)"/>
</g>
<rect x="1608.8" y="415.5" width="137.1" height="137.5" fill="none" stroke="#000" stroke-width="2.4" filter="url(#bl2)"/>
</g>
<g id="panel-c">
<clipPath id="cc"><rect x="443.4" y="600" width="740" height="508.2"/></clipPath>
<g clip-path="url(#cc)">
<path d="M452.1 1096.12V1108.2M443.2 1096.12h17.8M443.2 1108.2h17.8M462.86 1045.17V1051.61M453.96 1045.17h17.8M453.96 1051.61h17.8M473.61 984.23V990.67M464.71 984.23h17.8M464.71 990.67h17.8M495.12 900.91V922.85M486.22 900.91h17.8M486.22 922.85h17.8M538.14 790.83V852.01M529.24 790.83h17.8M529.24 852.01h17.8M624.18 777.67V784.11M615.28 777.67h17.8M615.28 784.11h17.8M796.26 740.72V747.16M787.36 740.72h17.8M787.36 747.16h17.8M1140.42 732.67V739.11M1131.52 732.67h17.8M1131.52 739.11h17.8" stroke="#5E81B5" stroke-width="2.2" fill="none"/>
<path d="M452.1 1087.27V1108.2M443.2 1087.27h17.8M443.2 1108.2h17.8M462.86 1027.3V1033.74M453.96 1027.3h17.8M453.96 1033.74h17.8M473.61 981.17V987.61M464.71 981.17h17.8M464.71 987.61h17.8M495.12 883.69V916.89M486.22 883.69h17.8M486.22 916.89h17.8M538.14 829.87V836.31M529.24 829.87h17.8M529.24 836.31h17.8M624.18 795.06V801.5M615.28 795.06h17.8M615.28 801.5h17.8M796.26 728.4V759.19M787.36 728.4h17.8M787.36 759.19h17.8M1140.42 732.79V739.23M1131.52 732.79h17.8M1131.52 739.23h17.8" stroke="#E19C24" stroke-width="2.2" fill="none"/>
<path d="M452.1 1088.28V1108.2M443.2 1088.28h17.8M443.2 1108.2h17.8M462.86 1044.36V1062.48M453.96 1044.36h17.8M453.96 1062.48h17.8M473.61 986.24V1007.45M464.71 986.24h17.8M464.71 1007.45h17.8M495.12 905.26V911.7M486.22 905.26h17.8M486.22 911.7h17.8M538.14 834.38V849.27M529.24 834.38h17.8M529.24 849.27h17.8M624.18 792.88V799.32M615.28 792.88h17.8M615.28 799.32h17.8M796.26 744.06V750.5M787.36 744.06h17.8M787.36 750.5h17.8M1140.42 732.47V738.91M1131.52 732.47h17.8M1131.52 738.91h17.8" stroke="#8FB032" stroke-width="2.2" fill="none"/>
<path d="M452.1 1090.29V1108.2M443.2 1090.29h17.8M443.2 1108.2h17.8M462.86 1051.69V1069.12M453.96 1051.69h17.8M453.96 1069.12h17.8M473.61 969.62V1016.87M464.71 969.62h17.8M464.71 1016.87h17.8M495.12 880.79V917.7M486.22 880.79h17.8M486.22 917.7h17.8M538.14 831.96V838.4M529.24 831.96h17.8M529.24 838.4h17.8M624.18 763.58V787.33M615.28 763.58h17.8M615.28 787.33h17.8M796.26 747.36V760.64M787.36 747.36h17.8M787.36 760.64h17.8M1140.42 733.47V739.91M1131.52 733.47h17.8M1131.52 739.91h17.8" stroke="#EB6235" stroke-width="2.2" fill="none"/>
<circle cx="452.1" cy="1108.2" r="9.8" fill="#5E81B5"/>
<circle cx="462.86" cy="1048.39" r="9.8" fill="#5E81B5"/>
<circle cx="473.61" cy="987.45" r="9.8" fill="#5E81B5"/>
<circle cx="495.12" cy="904.94" r="9.8" fill="#5E81B5"/>
<circle cx="538.14" cy="821.42" r="9.8" fill="#5E81B5"/>
<circle cx="624.18" cy="780.89" r="9.8" fill="#5E81B5"/>
<circle cx="796.26" cy="743.94" r="9.8" fill="#5E81B5"/>
<circle cx="1140.42" cy="735.89" r="9.8" fill="#5E81B5"/>
<rect x="440.9" y="1097" width="22.4" height="22.4" fill="#E19C24"/>
<rect x="451.66" y="1019.32" width="22.4" height="22.4" fill="#E19C24"/>
<rect x="462.41" y="973.19" width="22.4" height="22.4" fill="#E19C24"/>
<rect x="483.92" y="888.18" width="22.4" height="22.4" fill="#E19C24"/>
<rect x="526.94" y="821.89" width="22.4" height="22.4" fill="#E19C24"/>
<rect x="612.98" y="787.08" width="22.4" height="22.4" fill="#E19C24"/>
<rect x="785.06" y="730.89" width="22.4" height="22.4" fill="#E19C24"/>
<rect x="1129.22" y="724.81" width="22.4" height="22.4" fill="#E19C24"/>
<path d="M452.1 1096.7l11.5 11.5l-11.5 11.5l-11.5 -11.5z" fill="#8FB032"/>
<path d="M462.86 1036.89l11.5 11.5l-11.5 11.5l-11.5 -11.5z" fill="#8FB032"/>
<path d="M473.61 978.77l11.5 11.5l-11.5 11.5l-11.5 -11.5z" fill="#8FB032"/>
<path d="M495.12 896.98l11.5 11.5l-11.5 11.5l-11.5 -11.5z" fill="#8FB032"/>
<path d="M538.14 826.9l11.5 11.5l-11.5 11.5l-11.5 -11.5z" fill="#8FB032"/>
<path d="M624.18 784.6l11.5 11.5l-11.5 11.5l-11.5 -11.5z" fill="#8FB032"/>
<path d="M796.26 735.78l11.5 11.5l-11.5 11.5l-11.5 -11.5z" fill="#8FB032"/>
<path d="M1140.42 724.19l11.5 11.5l-11.5 11.5l-11.5 -11.5z" fill="#8FB032"/>
<path d="M452.1 1096.1l11.4 18.1h-22.8z" fill="#EB6235"/>
<path d="M462.86 1043.61l11.4 18.1h-22.8z" fill="#EB6235"/>
<path d="M473.61 984.08l11.4 18.1h-22.8z" fill="#EB6235"/>
<path d="M495.12 889.9l11.4 18.1h-22.8z" fill="#EB6235"/>
<path d="M538.14 823.08l11.4 18.1h-22.8z" fill="#EB6235"/>
<path d="M624.18 771.2l11.4 18.1h-22.8z" fill="#EB6235"/>
<path d="M796.26 739.28l11.4 18.1h-22.8z" fill="#EB6235"/>
<path d="M1140.42 724.59l11.4 18.1h-22.8z" fill="#EB6235"/>
</g>
<g fill="none" stroke-linejoin="round" stroke-linecap="square" clip-path="url(#cc)">
<path d="M452.1 1108.2L452.1 1108.16L452.12 1108.04L452.14 1107.84L452.17 1107.56L452.21 1107.2L452.25 1106.76L452.31 1106.24L452.38 1105.65L452.45 1104.98L452.53 1104.23L452.62 1103.41L452.72 1102.51L452.83 1101.54L452.94 1100.49L453.07 1099.38L453.2 1098.19L453.34 1096.94L453.49 1095.62L453.65 1094.23L453.82 1092.78L454 1091.26L454.18 1089.69L454.38 1088.05L454.58 1086.36L454.79 1084.61L455.01 1082.81L455.24 1080.96L455.47 1079.05L455.72 1077.09L455.97 1075.09L456.23 1073.04L456.51 1070.95L456.78 1068.82L457.07 1066.65L457.37 1064.44L457.68 1062.19L457.99 1059.92L458.31 1057.6L458.64 1055.26L458.98 1052.89L459.33 1050.49L459.69 1048.07L460.05 1045.63L460.43 1043.16L460.81 1040.67L461.2 1038.17L461.6 1035.65L462.01 1033.11L462.43 1030.56L462.86 1028L463.29 1025.43L463.73 1022.85L464.18 1020.26L464.64 1017.67L465.11 1015.07L465.59 1012.47L466.08 1009.86L466.57 1007.26L467.08 1004.65L467.59 1002.05L468.11 999.45L468.64 996.85L469.17 994.26L469.72 991.67L470.28 989.09L470.84 986.52L471.41 983.96L471.99 981.4L472.58 978.86L473.18 976.32L473.79 973.8L474.4 971.29L475.03 968.79L475.66 966.3L476.3 963.83L476.95 961.37L477.61 958.93L478.27 956.5L478.95 954.09L479.63 951.7L480.33 949.32L481.03 946.96L481.74 944.62L482.45 942.29L483.18 939.99L483.92 937.7L484.66 935.43L485.41 933.17L486.18 930.94L486.95 928.73L487.72 926.53L488.51 924.36L489.31 922.2L490.11 920.07L490.93 917.95L491.75 915.86L492.58 913.78L493.42 911.73L494.26 909.69L495.12 907.67L495.98 905.68L496.86 903.7L497.74 901.75L498.63 899.81L499.53 897.9L500.44 896L501.35 894.12L502.28 892.27L503.21 890.43L504.15 888.62L505.1 886.82L506.06 885.04L507.03 883.28L508.01 881.54L508.99 879.82L509.99 878.12L510.99 876.44L512 874.78L513.02 873.13L514.05 871.5L515.09 869.9L516.13 868.31L517.18 866.73L518.25 865.18L519.32 863.64L520.4 862.13L521.49 860.62L522.58 859.14L523.69 857.67L524.8 856.22L525.93 854.79L527.06 853.37L528.2 851.97L529.35 850.59L530.5 849.22L531.67 847.87L532.84 846.54L534.03 845.21L535.22 843.91L536.42 842.62L537.63 841.35L538.85 840.09L540.07 838.84L541.31 837.61L542.55 836.39L543.8 835.19L545.06 834.01L546.33 832.83L547.61 831.67L548.89 830.53L550.19 829.39L551.49 828.27L552.81 827.17L554.13 826.07L555.46 824.99L556.79 823.92L558.14 822.87L559.5 821.83L560.86 820.79L562.23 819.78L563.61 818.77L565 817.77L566.4 816.79L567.81 815.82L569.22 814.86L570.65 813.91L572.08 812.97L573.52 812.04L574.97 811.12L576.43 810.21L577.89 809.32L579.37 808.43L580.85 807.56L582.35 806.69L583.85 805.84L585.36 804.99L586.88 804.15L588.4 803.33L589.94 802.51L591.48 801.7L593.04 800.9L594.6 800.11L596.17 799.33L597.75 798.56L599.34 797.8L600.93 797.04L602.54 796.29L604.15 795.56L605.77 794.83L607.4 794.11L609.04 793.39L610.69 792.69L612.35 791.99L614.01 791.3L615.68 790.62L617.37 789.94L619.06 789.27L620.76 788.61L622.46 787.96L624.18 787.32L625.91 786.68L627.64 786.05L629.38 785.42L631.13 784.8L632.89 784.19L634.66 783.59L636.44 782.99L638.22 782.4L640.02 781.81L641.82 781.23L643.63 780.66L645.45 780.1L647.28 779.53L649.11 778.98L650.96 778.43L652.81 777.89L654.68 777.35L656.55 776.82L658.43 776.29L660.32 775.77L662.21 775.26L664.12 774.75L666.03 774.24L667.96 773.75L669.89 773.25L671.83 772.76L673.78 772.28L675.74 771.8L677.7 771.33L679.68 770.86L681.66 770.39L683.65 769.93L685.65 769.48L687.66 769.03L689.68 768.58L691.7 768.14L693.74 767.71L695.78 767.27L697.83 766.85L699.9 766.42L701.96 766L704.04 765.59L706.13 765.18L708.22 764.77L710.33 764.37L712.44 763.97L714.56 763.57L716.69 763.18L718.83 762.79L720.98 762.41L723.13 762.03L725.29 761.66L727.47 761.28L729.65 760.91L731.84 760.55L734.04 760.19L736.24 759.83L738.46 759.47L740.68 759.12L742.92 758.77L745.16 758.43L747.41 758.09L749.67 757.75L751.93 757.41L754.21 757.08L756.49 756.75L758.79 756.43L761.09 756.1L763.4 755.78L765.72 755.47L768.04 755.15L770.38 754.84L772.72 754.53L775.08 754.23L777.44 753.93L779.81 753.63L782.19 753.33L784.58 753.04L786.97 752.74L789.38 752.46L791.79 752.17L794.21 751.89L796.64 751.6L799.08 751.33L801.53 751.05L803.99 750.78L806.45 750.51L808.93 750.24L811.41 749.97L813.9 749.71L816.4 749.44L818.91 749.19L821.42 748.93L823.95 748.67L826.48 748.42L829.02 748.17L831.58 747.92L834.13 747.68L836.7 747.43L839.28 747.19L841.87 746.95L844.46 746.71L847.06 746.48L849.67 746.24L852.29 746.01L854.92 745.78L857.56 745.55L860.2 745.33L862.86 745.11L865.52 744.88L868.19 744.66L870.87 744.44L873.56 744.23L876.26 744.01L878.97 743.8L881.68 743.59L884.4 743.38L887.14 743.17L889.88 742.97L892.62 742.76L895.38 742.56L898.15 742.36L900.92 742.16L903.71 741.96L906.5 741.77L909.3 741.57L912.11 741.38L914.93 741.19L917.75 741L920.59 740.81L923.43 740.63L926.28 740.44L929.14 740.26L932.01 740.07L934.89 739.89L937.78 739.71L940.67 739.54L943.58 739.36L946.49 739.18L949.41 739.01L952.34 738.84L955.28 738.67L958.23 738.5L961.18 738.33L964.15 738.16L967.12 738L970.1 737.83L973.09 737.67L976.09 737.51L979.1 737.35L982.11 737.19L985.14 737.03L988.17 736.87L991.21 736.72L994.26 736.56L997.32 736.41L1000.39 736.26L1003.46 736.11L1006.55 735.96L1009.64 735.81L1012.74 735.66L1015.85 735.51L1018.97 735.37L1022.1 735.22L1025.23 735.08L1028.38 734.94L1031.53 734.8L1034.69 734.66L1037.86 734.52L1041.04 734.38L1044.23 734.24L1047.43 734.11L1050.63 733.97L1053.85 733.84L1057.07 733.7L1060.3 733.57L1063.54 733.44L1066.79 733.31L1070.04 733.18L1073.31 733.05L1076.58 732.92L1079.87 732.8L1083.16 732.67L1086.46 732.55L1089.76 732.42L1093.08 732.3L1096.41 732.18L1099.74 732.06L1103.08 731.94L1106.43 731.82L1109.79 731.7L1113.16 731.58L1116.54 731.46L1119.93 731.35L1123.32 731.23L1126.72 731.12L1130.13 731L1133.55 730.89L1136.98 730.78L1140.42 730.67" stroke="#000" stroke-width="4"/>
<path d="M452.1 1108.2L452.1 1108.16L452.12 1108.04L452.14 1107.84L452.17 1107.56L452.21 1107.2L452.25 1106.77L452.31 1106.25L452.38 1105.66L452.45 1104.99L452.53 1104.24L452.62 1103.42L452.72 1102.53L452.83 1101.56L452.94 1100.52L453.07 1099.41L453.2 1098.23L453.34 1096.98L453.49 1095.66L453.65 1094.28L453.82 1092.83L454 1091.32L454.18 1089.75L454.38 1088.12L454.58 1086.44L454.79 1084.69L455.01 1082.9L455.24 1081.05L455.47 1079.15L455.72 1077.2L455.97 1075.2L456.23 1073.16L456.51 1071.08L456.78 1068.95L457.07 1066.79L457.37 1064.58L457.68 1062.34L457.99 1060.07L458.31 1057.77L458.64 1055.43L458.98 1053.07L459.33 1050.68L459.69 1048.26L460.05 1045.82L460.43 1043.36L460.81 1040.88L461.2 1038.39L461.6 1035.87L462.01 1033.34L462.43 1030.8L462.86 1028.25L463.29 1025.68L463.73 1023.11L464.18 1020.53L464.64 1017.94L465.11 1015.35L465.59 1012.75L466.08 1010.15L466.57 1007.56L467.08 1004.96L467.59 1002.36L468.11 999.77L468.64 997.18L469.17 994.59L469.72 992.01L470.28 989.43L470.84 986.87L471.41 984.31L471.99 981.76L472.58 979.22L473.18 976.69L473.79 974.17L474.4 971.67L475.03 969.17L475.66 966.69L476.3 964.22L476.95 961.77L477.61 959.34L478.27 956.91L478.95 954.51L479.63 952.12L480.33 949.74L481.03 947.39L481.74 945.05L482.45 942.73L483.18 940.42L483.92 938.14L484.66 935.87L485.41 933.62L486.18 931.4L486.95 929.19L487.72 927L488.51 924.82L489.31 922.67L490.11 920.54L490.93 918.43L491.75 916.34L492.58 914.26L493.42 912.21L494.26 910.18L495.12 908.16L495.98 906.17L496.86 904.2L497.74 902.25L498.63 900.31L499.53 898.4L500.44 896.51L501.35 894.63L502.28 892.78L503.21 890.94L504.15 889.13L505.1 887.33L506.06 885.56L507.03 883.8L508.01 882.07L508.99 880.35L509.99 878.65L510.99 876.97L512 875.31L513.02 873.66L514.05 872.04L515.09 870.43L516.13 868.84L517.18 867.27L518.25 865.72L519.32 864.19L520.4 862.67L521.49 861.17L522.58 859.69L523.69 858.22L524.8 856.77L525.93 855.34L527.06 853.93L528.2 852.53L529.35 851.14L530.5 849.78L531.67 848.43L532.84 847.09L534.03 845.77L535.22 844.47L536.42 843.18L537.63 841.91L538.85 840.65L540.07 839.4L541.31 838.17L542.55 836.96L543.8 835.76L545.06 834.57L546.33 833.4L547.61 832.24L548.89 831.09L550.19 829.96L551.49 828.84L552.81 827.74L554.13 826.64L555.46 825.56L556.79 824.5L558.14 823.44L559.5 822.4L560.86 821.37L562.23 820.35L563.61 819.34L565 818.35L566.4 817.36L567.81 816.39L569.22 815.43L570.65 814.48L572.08 813.54L573.52 812.62L574.97 811.7L576.43 810.79L577.89 809.9L579.37 809.01L580.85 808.14L582.35 807.27L583.85 806.41L585.36 805.57L586.88 804.73L588.4 803.91L589.94 803.09L591.48 802.28L593.04 801.48L594.6 800.69L596.17 799.91L597.75 799.14L599.34 798.38L600.93 797.62L602.54 796.88L604.15 796.14L605.77 795.41L607.4 794.69L609.04 793.97L610.69 793.27L612.35 792.57L614.01 791.88L615.68 791.2L617.37 790.53L619.06 789.86L620.76 789.2L622.46 788.55L624.18 787.9L625.91 787.26L627.64 786.63L629.38 786.01L631.13 785.39L632.89 784.78L634.66 784.17L636.44 783.58L638.22 782.98L640.02 782.4L641.82 781.82L643.63 781.25L645.45 780.68L647.28 780.12L649.11 779.57L650.96 779.02L652.81 778.47L654.68 777.94L656.55 777.41L658.43 776.88L660.32 776.36L662.21 775.84L664.12 775.33L666.03 774.83L667.96 774.33L669.89 773.84L671.83 773.35L673.78 772.86L675.74 772.39L677.7 771.91L679.68 771.44L681.66 770.98L683.65 770.52L685.65 770.07L687.66 769.62L689.68 769.17L691.7 768.73L693.74 768.29L695.78 767.86L697.83 767.43L699.9 767.01L701.96 766.59L704.04 766.17L706.13 765.76L708.22 765.36L710.33 764.95L712.44 764.55L714.56 764.16L716.69 763.77L718.83 763.38L720.98 763L723.13 762.62L725.29 762.24L727.47 761.87L729.65 761.5L731.84 761.13L734.04 760.77L736.24 760.41L738.46 760.06L740.68 759.71L742.92 759.36L745.16 759.01L747.41 758.67L749.67 758.33L751.93 758L754.21 757.67L756.49 757.34L758.79 757.01L761.09 756.69L763.4 756.37L765.72 756.05L768.04 755.74L770.38 755.43L772.72 755.12L775.08 754.81L777.44 754.51L779.81 754.21L782.19 753.91L784.58 753.62L786.97 753.33L789.38 753.04L791.79 752.75L794.21 752.47L796.64 752.19L799.08 751.91L801.53 751.63L803.99 751.36L806.45 751.09L808.93 750.82L811.41 750.55L813.9 750.29L816.4 750.03L818.91 749.77L821.42 749.51L823.95 749.26L826.48 749L829.02 748.75L831.58 748.5L834.13 748.26L836.7 748.01L839.28 747.77L841.87 747.53L844.46 747.29L847.06 747.06L849.67 746.83L852.29 746.59L854.92 746.36L857.56 746.14L860.2 745.91L862.86 745.69L865.52 745.46L868.19 745.24L870.87 745.03L873.56 744.81L876.26 744.6L878.97 744.38L881.68 744.17L884.4 743.96L887.14 743.75L889.88 743.55L892.62 743.34L895.38 743.14L898.15 742.94L900.92 742.74L903.71 742.54L906.5 742.35L909.3 742.15L912.11 741.96L914.93 741.77L917.75 741.58L920.59 741.39L923.43 741.21L926.28 741.02L929.14 740.84L932.01 740.65L934.89 740.47L937.78 740.29L940.67 740.12L943.58 739.94L946.49 739.76L949.41 739.59L952.34 739.42L955.28 739.25L958.23 739.08L961.18 738.91L964.15 738.74L967.12 738.58L970.1 738.41L973.09 738.25L976.09 738.09L979.1 737.93L982.11 737.77L985.14 737.61L988.17 737.45L991.21 737.3L994.26 737.14L997.32 736.99L1000.39 736.84L1003.46 736.68L1006.55 736.53L1009.64 736.39L1012.74 736.24L1015.85 736.09L1018.97 735.95L1022.1 735.8L1025.23 735.66L1028.38 735.52L1031.53 735.37L1034.69 735.23L1037.86 735.09L1041.04 734.96L1044.23 734.82L1047.43 734.68L1050.63 734.55L1053.85 734.41L1057.07 734.28L1060.3 734.15L1063.54 734.02L1066.79 733.89L1070.04 733.76L1073.31 733.63L1076.58 733.5L1079.87 733.37L1083.16 733.25L1086.46 733.12L1089.76 733L1093.08 732.88L1096.41 732.76L1099.74 732.63L1103.08 732.51L1106.43 732.39L1109.79 732.28L1113.16 732.16L1116.54 732.04L1119.93 731.92L1123.32 731.81L1126.72 731.69L1130.13 731.58L1133.55 731.47L1136.98 731.35L1140.42 731.24" stroke="#FF7400" stroke-width="4"/>
<path d="M452.1 1108.2L452.1 1108.16L452.12 1108.05L452.14 1107.86L452.17 1107.6L452.21 1107.27L452.25 1106.86L452.31 1106.38L452.38 1105.82L452.45 1105.2L452.53 1104.5L452.62 1103.73L452.72 1102.9L452.83 1101.99L452.94 1101.01L453.07 1099.97L453.2 1098.87L453.34 1097.69L453.49 1096.46L453.65 1095.16L453.82 1093.8L454 1092.39L454.18 1090.91L454.38 1089.38L454.58 1087.79L454.79 1086.15L455.01 1084.46L455.24 1082.72L455.47 1080.93L455.72 1079.09L455.97 1077.2L456.23 1075.27L456.51 1073.3L456.78 1071.29L457.07 1069.24L457.37 1067.16L457.68 1065.03L457.99 1062.88L458.31 1060.69L458.64 1058.47L458.98 1056.22L459.33 1053.95L459.69 1051.65L460.05 1049.33L460.43 1046.98L460.81 1044.61L461.2 1042.23L461.6 1039.82L462.01 1037.4L462.43 1034.97L462.86 1032.52L463.29 1030.06L463.73 1027.59L464.18 1025.11L464.64 1022.62L465.11 1020.12L465.59 1017.62L466.08 1015.12L466.57 1012.61L467.08 1010.1L467.59 1007.59L468.11 1005.08L468.64 1002.57L469.17 1000.07L469.72 997.56L470.28 995.06L470.84 992.57L471.41 990.08L471.99 987.6L472.58 985.13L473.18 982.66L473.79 980.2L474.4 977.76L475.03 975.32L475.66 972.89L476.3 970.48L476.95 968.08L477.61 965.69L478.27 963.31L478.95 960.95L479.63 958.6L480.33 956.26L481.03 953.95L481.74 951.64L482.45 949.35L483.18 947.08L483.92 944.82L484.66 942.58L485.41 940.36L486.18 938.16L486.95 935.97L487.72 933.8L488.51 931.64L489.31 929.51L490.11 927.39L490.93 925.29L491.75 923.21L492.58 921.15L493.42 919.1L494.26 917.07L495.12 915.07L495.98 913.08L496.86 911.11L497.74 909.16L498.63 907.22L499.53 905.31L500.44 903.41L501.35 901.54L502.28 899.68L503.21 897.84L504.15 896.02L505.1 894.21L506.06 892.43L507.03 890.66L508.01 888.92L508.99 887.19L509.99 885.47L510.99 883.78L512 882.11L513.02 880.45L514.05 878.81L515.09 877.19L516.13 875.58L517.18 873.99L518.25 872.42L519.32 870.87L520.4 869.33L521.49 867.81L522.58 866.31L523.69 864.82L524.8 863.35L525.93 861.9L527.06 860.46L528.2 859.04L529.35 857.63L530.5 856.24L531.67 854.87L532.84 853.51L534.03 852.17L535.22 850.84L536.42 849.53L537.63 848.23L538.85 846.94L540.07 845.67L541.31 844.42L542.55 843.18L543.8 841.95L545.06 840.73L546.33 839.54L547.61 838.35L548.89 837.18L550.19 836.02L551.49 834.87L552.81 833.74L554.13 832.62L555.46 831.51L556.79 830.42L558.14 829.33L559.5 828.26L560.86 827.2L562.23 826.16L563.61 825.12L565 824.1L566.4 823.09L567.81 822.09L569.22 821.1L570.65 820.12L572.08 819.16L573.52 818.2L574.97 817.26L576.43 816.32L577.89 815.4L579.37 814.48L580.85 813.58L582.35 812.69L583.85 811.81L585.36 810.93L586.88 810.07L588.4 809.22L589.94 808.37L591.48 807.54L593.04 806.71L594.6 805.89L596.17 805.09L597.75 804.29L599.34 803.5L600.93 802.72L602.54 801.94L604.15 801.18L605.77 800.42L607.4 799.68L609.04 798.94L610.69 798.21L612.35 797.48L614.01 796.77L615.68 796.06L617.37 795.36L619.06 794.67L620.76 793.98L622.46 793.3L624.18 792.63L625.91 791.97L627.64 791.31L629.38 790.66L631.13 790.02L632.89 789.39L634.66 788.76L636.44 788.14L638.22 787.52L640.02 786.91L641.82 786.31L643.63 785.71L645.45 785.12L647.28 784.54L649.11 783.96L650.96 783.39L652.81 782.82L654.68 782.26L656.55 781.71L658.43 781.16L660.32 780.62L662.21 780.08L664.12 779.55L666.03 779.02L667.96 778.5L669.89 777.99L671.83 777.48L673.78 776.97L675.74 776.47L677.7 775.98L679.68 775.49L681.66 775L683.65 774.52L685.65 774.05L687.66 773.58L689.68 773.11L691.7 772.65L693.74 772.19L695.78 771.74L697.83 771.29L699.9 770.85L701.96 770.41L704.04 769.98L706.13 769.55L708.22 769.12L710.33 768.7L712.44 768.28L714.56 767.87L716.69 767.46L718.83 767.05L720.98 766.65L723.13 766.25L725.29 765.86L727.47 765.47L729.65 765.08L731.84 764.7L734.04 764.32L736.24 763.94L738.46 763.57L740.68 763.2L742.92 762.84L745.16 762.47L747.41 762.12L749.67 761.76L751.93 761.41L754.21 761.06L756.49 760.72L758.79 760.37L761.09 760.03L763.4 759.7L765.72 759.37L768.04 759.04L770.38 758.71L772.72 758.39L775.08 758.07L777.44 757.75L779.81 757.43L782.19 757.12L784.58 756.81L786.97 756.5L789.38 756.2L791.79 755.9L794.21 755.6L796.64 755.31L799.08 755.01L801.53 754.72L803.99 754.43L806.45 754.15L808.93 753.87L811.41 753.59L813.9 753.31L816.4 753.03L818.91 752.76L821.42 752.49L823.95 752.22L826.48 751.95L829.02 751.69L831.58 751.43L834.13 751.17L836.7 750.91L839.28 750.66L841.87 750.41L844.46 750.16L847.06 749.91L849.67 749.66L852.29 749.42L854.92 749.18L857.56 748.94L860.2 748.7L862.86 748.46L865.52 748.23L868.19 748L870.87 747.77L873.56 747.54L876.26 747.31L878.97 747.09L881.68 746.86L884.4 746.64L887.14 746.42L889.88 746.21L892.62 745.99L895.38 745.78L898.15 745.57L900.92 745.36L903.71 745.15L906.5 744.94L909.3 744.74L912.11 744.53L914.93 744.33L917.75 744.13L920.59 743.93L923.43 743.73L926.28 743.54L929.14 743.35L932.01 743.15L934.89 742.96L937.78 742.77L940.67 742.58L943.58 742.4L946.49 742.21L949.41 742.03L952.34 741.85L955.28 741.67L958.23 741.49L961.18 741.31L964.15 741.13L967.12 740.96L970.1 740.79L973.09 740.61L976.09 740.44L979.1 740.27L982.11 740.1L985.14 739.94L988.17 739.77L991.21 739.61L994.26 739.44L997.32 739.28L1000.39 739.12L1003.46 738.96L1006.55 738.8L1009.64 738.64L1012.74 738.49L1015.85 738.33L1018.97 738.18L1022.1 738.03L1025.23 737.87L1028.38 737.72L1031.53 737.57L1034.69 737.43L1037.86 737.28L1041.04 737.13L1044.23 736.99L1047.43 736.84L1050.63 736.7L1053.85 736.56L1057.07 736.42L1060.3 736.28L1063.54 736.14L1066.79 736L1070.04 735.86L1073.31 735.73L1076.58 735.59L1079.87 735.46L1083.16 735.33L1086.46 735.19L1089.76 735.06L1093.08 734.93L1096.41 734.8L1099.74 734.67L1103.08 734.55L1106.43 734.42L1109.79 734.29L1113.16 734.17L1116.54 734.05L1119.93 733.92L1123.32 733.8L1126.72 733.68L1130.13 733.56L1133.55 733.44L1136.98 733.32L1140.42 733.2" stroke="#E5007D" stroke-width="4"/>
<path d="M452.1 1108.2L452.1 1108.16L452.12 1108.04L452.14 1107.85L452.17 1107.58L452.21 1107.23L452.25 1106.8L452.31 1106.29L452.38 1105.72L452.45 1105.06L452.53 1104.33L452.62 1103.53L452.72 1102.65L452.83 1101.7L452.94 1100.69L453.07 1099.6L453.2 1098.44L453.34 1097.22L453.49 1095.93L453.65 1094.58L453.82 1093.16L454 1091.68L454.18 1090.14L454.38 1088.55L454.58 1086.89L454.79 1085.19L455.01 1083.42L455.24 1081.61L455.47 1079.75L455.72 1077.84L455.97 1075.88L456.23 1073.87L456.51 1071.83L456.78 1069.74L457.07 1067.62L457.37 1065.45L457.68 1063.25L457.99 1061.02L458.31 1058.75L458.64 1056.46L458.98 1054.13L459.33 1051.78L459.69 1049.41L460.05 1047.01L460.43 1044.59L460.81 1042.14L461.2 1039.68L461.6 1037.21L462.01 1034.72L462.43 1032.21L462.86 1029.69L463.29 1027.16L463.73 1024.62L464.18 1022.08L464.64 1019.52L465.11 1016.96L465.59 1014.4L466.08 1011.83L466.57 1009.27L467.08 1006.7L467.59 1004.13L468.11 1001.57L468.64 999L469.17 996.44L469.72 993.89L470.28 991.34L470.84 988.8L471.41 986.26L471.99 983.74L472.58 981.22L473.18 978.71L473.79 976.22L474.4 973.73L475.03 971.26L475.66 968.8L476.3 966.35L476.95 963.91L477.61 961.49L478.27 959.09L478.95 956.69L479.63 954.32L480.33 951.96L481.03 949.62L481.74 947.29L482.45 944.98L483.18 942.69L483.92 940.41L484.66 938.16L485.41 935.92L486.18 933.7L486.95 931.5L487.72 929.31L488.51 927.15L489.31 925L490.11 922.88L490.93 920.77L491.75 918.68L492.58 916.61L493.42 914.56L494.26 912.54L495.12 910.53L495.98 908.53L496.86 906.56L497.74 904.61L498.63 902.68L499.53 900.77L500.44 898.88L501.35 897L502.28 895.15L503.21 893.31L504.15 891.5L505.1 889.7L506.06 887.92L507.03 886.16L508.01 884.42L508.99 882.7L509.99 881L510.99 879.32L512 877.65L513.02 876.01L514.05 874.38L515.09 872.77L516.13 871.17L517.18 869.6L518.25 868.04L519.32 866.5L520.4 864.98L521.49 863.47L522.58 861.99L523.69 860.52L524.8 859.06L525.93 857.62L527.06 856.2L528.2 854.8L529.35 853.41L530.5 852.03L531.67 850.68L532.84 849.33L534.03 848.01L535.22 846.7L536.42 845.4L537.63 844.12L538.85 842.85L540.07 841.6L541.31 840.37L542.55 839.14L543.8 837.93L545.06 836.74L546.33 835.56L547.61 834.39L548.89 833.24L550.19 832.1L551.49 830.97L552.81 829.86L554.13 828.76L555.46 827.67L556.79 826.59L558.14 825.53L559.5 824.48L560.86 823.44L562.23 822.41L563.61 821.4L565 820.4L566.4 819.4L567.81 818.42L569.22 817.46L570.65 816.5L572.08 815.55L573.52 814.62L574.97 813.69L576.43 812.78L577.89 811.87L579.37 810.98L580.85 810.09L582.35 809.22L583.85 808.36L585.36 807.5L586.88 806.66L588.4 805.82L589.94 805L591.48 804.18L593.04 803.38L594.6 802.58L596.17 801.79L597.75 801.01L599.34 800.24L600.93 799.48L602.54 798.72L604.15 797.98L605.77 797.24L607.4 796.51L609.04 795.79L610.69 795.08L612.35 794.37L614.01 793.67L615.68 792.98L617.37 792.3L619.06 791.63L620.76 790.96L622.46 790.3L624.18 789.65L625.91 789L627.64 788.36L629.38 787.73L631.13 787.11L632.89 786.49L634.66 785.88L636.44 785.27L638.22 784.67L640.02 784.08L641.82 783.49L643.63 782.91L645.45 782.34L647.28 781.77L649.11 781.21L650.96 780.66L652.81 780.11L654.68 779.56L656.55 779.02L658.43 778.49L660.32 777.96L662.21 777.44L664.12 776.93L666.03 776.42L667.96 775.91L669.89 775.41L671.83 774.91L673.78 774.42L675.74 773.94L677.7 773.46L679.68 772.98L681.66 772.51L683.65 772.05L685.65 771.59L687.66 771.13L689.68 770.68L691.7 770.23L693.74 769.79L695.78 769.35L697.83 768.92L699.9 768.49L701.96 768.06L704.04 767.64L706.13 767.23L708.22 766.81L710.33 766.4L712.44 766L714.56 765.6L716.69 765.2L718.83 764.81L720.98 764.42L723.13 764.03L725.29 763.65L727.47 763.28L729.65 762.9L731.84 762.53L734.04 762.16L736.24 761.8L738.46 761.44L740.68 761.08L742.92 760.73L745.16 760.38L747.41 760.03L749.67 759.69L751.93 759.35L754.21 759.01L756.49 758.68L758.79 758.35L761.09 758.02L763.4 757.7L765.72 757.37L768.04 757.06L770.38 756.74L772.72 756.43L775.08 756.12L777.44 755.81L779.81 755.51L782.19 755.2L784.58 754.91L786.97 754.61L789.38 754.32L791.79 754.03L794.21 753.74L796.64 753.45L799.08 753.17L801.53 752.89L803.99 752.61L806.45 752.33L808.93 752.06L811.41 751.79L813.9 751.52L816.4 751.26L818.91 750.99L821.42 750.73L823.95 750.47L826.48 750.22L829.02 749.96L831.58 749.71L834.13 749.46L836.7 749.21L839.28 748.97L841.87 748.72L844.46 748.48L847.06 748.24L849.67 748L852.29 747.77L854.92 747.54L857.56 747.3L860.2 747.08L862.86 746.85L865.52 746.62L868.19 746.4L870.87 746.18L873.56 745.96L876.26 745.74L878.97 745.52L881.68 745.31L884.4 745.09L887.14 744.88L889.88 744.67L892.62 744.47L895.38 744.26L898.15 744.06L900.92 743.85L903.71 743.65L906.5 743.45L909.3 743.26L912.11 743.06L914.93 742.87L917.75 742.67L920.59 742.48L923.43 742.29L926.28 742.1L929.14 741.92L932.01 741.73L934.89 741.55L937.78 741.37L940.67 741.19L943.58 741.01L946.49 740.83L949.41 740.65L952.34 740.48L955.28 740.3L958.23 740.13L961.18 739.96L964.15 739.79L967.12 739.62L970.1 739.45L973.09 739.29L976.09 739.12L979.1 738.96L982.11 738.8L985.14 738.64L988.17 738.48L991.21 738.32L994.26 738.16L997.32 738L1000.39 737.85L1003.46 737.7L1006.55 737.54L1009.64 737.39L1012.74 737.24L1015.85 737.09L1018.97 736.94L1022.1 736.8L1025.23 736.65L1028.38 736.51L1031.53 736.36L1034.69 736.22L1037.86 736.08L1041.04 735.94L1044.23 735.8L1047.43 735.66L1050.63 735.52L1053.85 735.39L1057.07 735.25L1060.3 735.12L1063.54 734.98L1066.79 734.85L1070.04 734.72L1073.31 734.59L1076.58 734.46L1079.87 734.33L1083.16 734.2L1086.46 734.07L1089.76 733.95L1093.08 733.82L1096.41 733.7L1099.74 733.57L1103.08 733.45L1106.43 733.33L1109.79 733.21L1113.16 733.09L1116.54 732.97L1119.93 732.85L1123.32 732.73L1126.72 732.62L1130.13 732.5L1133.55 732.39L1136.98 732.27L1140.42 732.16" stroke="#8AB800" stroke-width="4.2"/>
</g>
<g stroke="#666666" stroke-width="1.5" fill="none">
<path d="M443.4 666.6 V1108.2 H1158.5"/>
<path d="M443.4 1108.6h8.6M443.4 1088.5h5.2M443.4 1068.41h5.2M443.4 1048.31h5.2M443.4 1028.22h8.6M443.4 1008.12h5.2M443.4 988.03h5.2M443.4 967.93h5.2M443.4 947.84h8.6M443.4 927.74h5.2M443.4 907.65h5.2M443.4 887.55h5.2M443.4 867.46h8.6M443.4 847.36h5.2M443.4 827.27h5.2M443.4 807.17h5.2M443.4 787.08h8.6M443.4 766.98h5.2M443.4 746.89h5.2M443.4 726.79h5.2M443.4 706.7h8.6M443.4 686.6h5.2M443.4 666.51h5.2M452.1 1108.2v-8.6M486.52 1108.2v-5.3M520.93 1108.2v-5.3M555.35 1108.2v-5.3M589.76 1108.2v-5.3M624.18 1108.2v-8.6M658.6 1108.2v-5.3M693.01 1108.2v-5.3M727.43 1108.2v-5.3M761.84 1108.2v-5.3M796.26 1108.2v-8.6M830.68 1108.2v-5.3M865.09 1108.2v-5.3M899.51 1108.2v-5.3M933.92 1108.2v-5.3M968.34 1108.2v-8.6M1002.76 1108.2v-5.3M1037.17 1108.2v-5.3M1071.59 1108.2v-5.3M1106 1108.2v-5.3M1140.42 1108.2v-8.6" stroke-width="1.3"/>
</g>
<text transform="translate(435.7,1121.9) scale(0.99,1.045)" font-size="34" text-anchor="end" fill="#666666" stroke="#666666" stroke-width="0.3">0.0</text>
<text transform="translate(435.7,1041.52) scale(0.99,1.045)" font-size="34" text-anchor="end" fill="#666666" stroke="#666666" stroke-width="0.3">0.2</text>
<text transform="translate(435.7,961.14) scale(0.99,1.045)" font-size="34" text-anchor="end" fill="#666666" stroke="#666666" stroke-width="0.3">0.4</text>
<text transform="translate(435.7,880.76) scale(0.99,1.045)" font-size="34" text-anchor="end" fill="#666666" stroke="#666666" stroke-width="0.3">0.6</text>
<text transform="translate(435.7,800.38) scale(0.99,1.045)" font-size="34" text-anchor="end" fill="#666666" stroke="#666666" stroke-width="0.3">0.8</text>
<text transform="translate(435.7,720) scale(0.99,1.045)" font-size="34" text-anchor="end" fill="#666666" stroke="#666666" stroke-width="0.3">1.0</text>
<text transform="translate(452.1,1149.9) scale(0.975,1.045)" font-size="34" text-anchor="middle" fill="#666666" stroke="#666666" stroke-width="0.3">0</text>
<text transform="translate(624.18,1149.9) scale(0.975,1.045)" font-size="34" text-anchor="middle" fill="#666666" stroke="#666666" stroke-width="0.3">1</text>
<text transform="translate(796.26,1149.9) scale(0.975,1.045)" font-size="34" text-anchor="middle" fill="#666666" stroke="#666666" stroke-width="0.3">2</text>
<text transform="translate(968.34,1149.9) scale(0.975,1.045)" font-size="34" text-anchor="middle" fill="#666666" stroke="#666666" stroke-width="0.3">3</text>
<text transform="translate(1140.42,1149.9) scale(0.975,1.045)" font-size="34" text-anchor="middle" fill="#666666" stroke="#666666" stroke-width="0.3">4</text>
<text transform="translate(800.9,1207.2) scale(1,1.06)" font-size="33.95" text-anchor="middle" fill="#666666" stroke="#666666" stroke-width="0.3">Glucose Concentration (mM)</text>
<text transform="translate(365.5,888) rotate(-90) scale(1,1.06)" font-size="33.8" text-anchor="middle" fill="#666666" stroke="#666666" stroke-width="0.3">Fraction Bound</text>
<circle cx="1229.2" cy="831.2" r="10.3" fill="#5E81B5"/>
<rect x="1218" y="877" width="22.6" height="22.6" fill="#E19C24"/>
<path d="M1229.3 933.7l11.8 11.8l-11.8 11.8l-11.8 -11.8z" fill="#8FB032"/>
<path d="M1229.2 990.9l13.6 23h-27.2z" fill="#EB6235"/>
<text transform="translate(1281,843.3) scale(1,0.98)" font-size="36" text-anchor="start" fill="#000" stroke="#000" stroke-width="0.3">glu<tspan dx="1.4">−</tspan><tspan dx="0.5">1</tspan></text>
<text transform="translate(1281,900.4) scale(1,0.98)" font-size="36" text-anchor="start" fill="#000" stroke="#000" stroke-width="0.3">glu<tspan dx="1.4">−</tspan><tspan dx="0.5">2</tspan></text>
<text transform="translate(1281,957.5) scale(1,0.98)" font-size="36" text-anchor="start" fill="#000" stroke="#000" stroke-width="0.3">glu<tspan dx="1.4">−</tspan><tspan dx="0.5">3</tspan></text>
<text transform="translate(1281,1014.6) scale(1,0.98)" font-size="36" text-anchor="start" fill="#000" stroke="#000" stroke-width="0.3">glu<tspan dx="1.4">−</tspan><tspan dx="0.5">4</tspan></text>
</g>
</svg>
</body></html>
